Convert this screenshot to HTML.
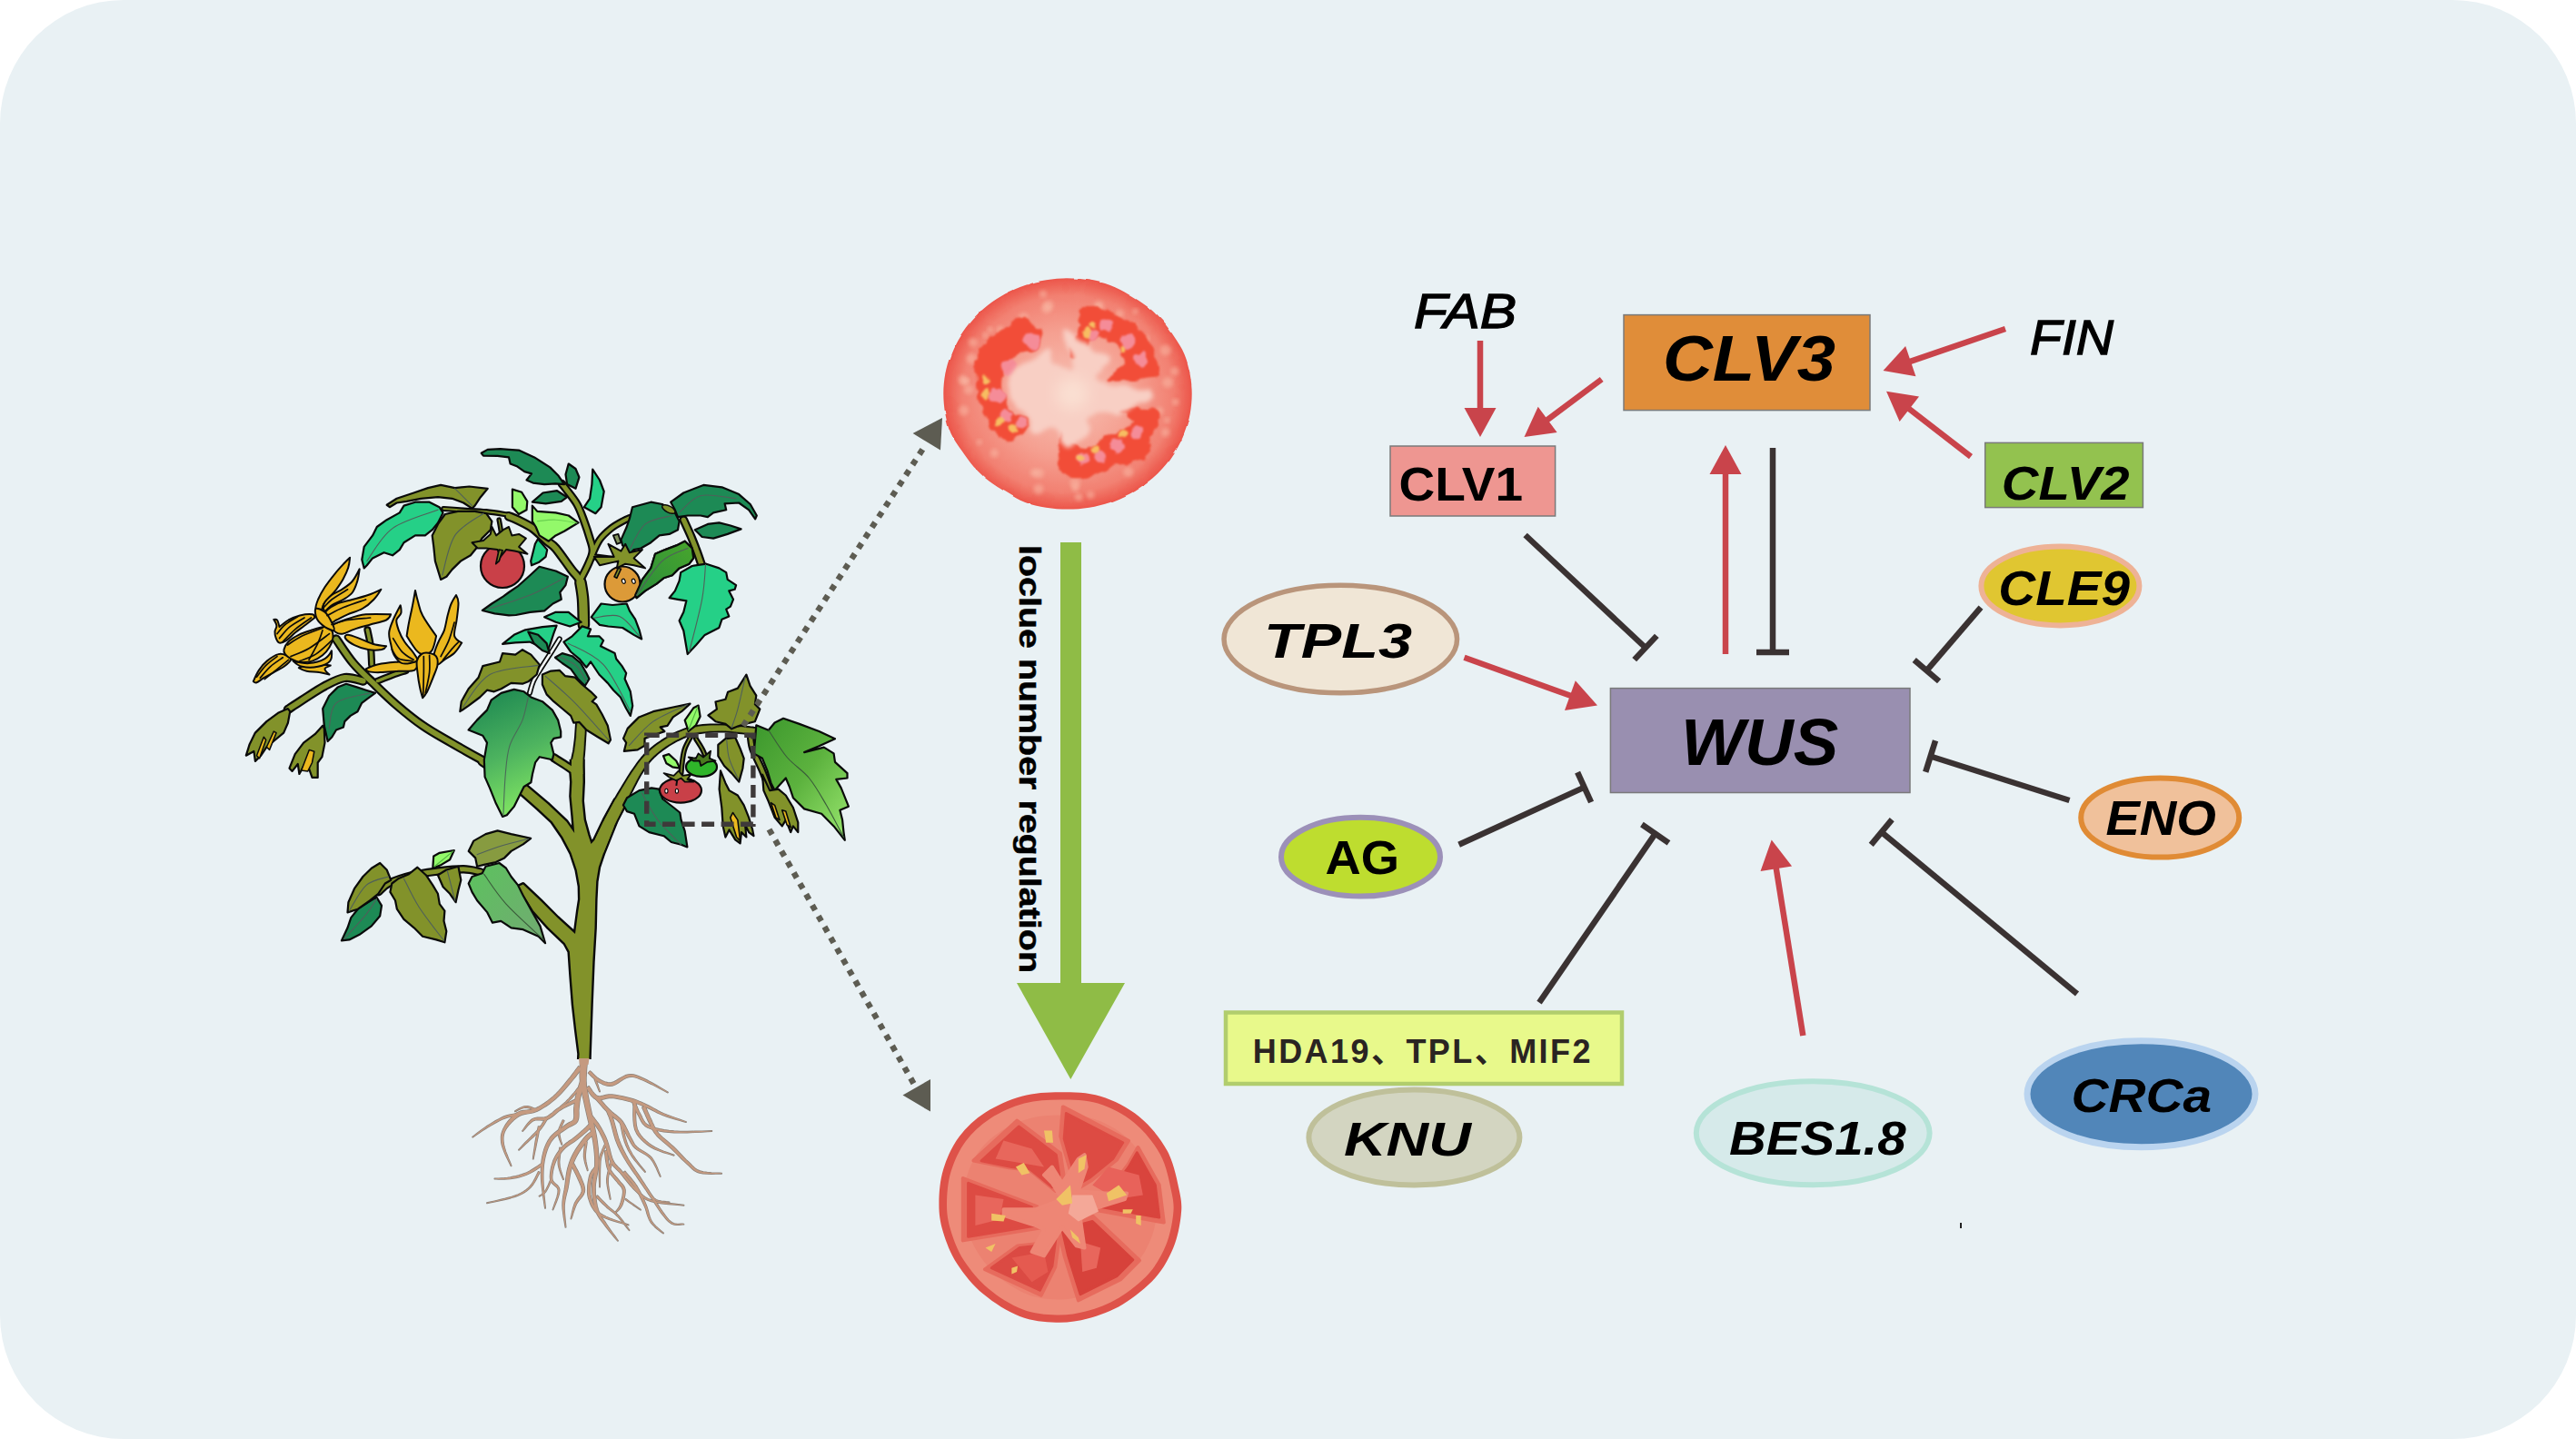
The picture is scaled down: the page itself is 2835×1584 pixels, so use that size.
<!DOCTYPE html>
<html><head><meta charset="utf-8"><title>locule number regulation</title>
<style>
html,body{margin:0;padding:0;background:#fff;}
body{width:2835px;height:1584px;overflow:hidden;}
svg{display:block;font-family:"Liberation Sans","Noto Sans CJK SC",sans-serif;}
</style></head><body>
<svg width="2835" height="1584" viewBox="0 0 2835 1584">
<rect x="0" y="0" width="2835" height="1584" rx="136" ry="136" fill="#e9f1f4"/>
<g id="plant">
<defs>
<linearGradient id="gG2" x1="0.3" y1="0" x2="0.6" y2="1"><stop offset="0" stop-color="#1f8a52"/><stop offset="0.5" stop-color="#4db35f"/><stop offset="1" stop-color="#86ea62"/></linearGradient>
<linearGradient id="gG3" x1="0" y1="0" x2="1" y2="1"><stop offset="0" stop-color="#3a962c"/><stop offset="0.5" stop-color="#5cb23e"/><stop offset="1" stop-color="#9be870"/></linearGradient>
<linearGradient id="gG1" x1="0" y1="1" x2="1" y2="0"><stop offset="0" stop-color="#2a8c3c"/><stop offset="1" stop-color="#48a62c"/></linearGradient>
<linearGradient id="gG4" x1="0" y1="0" x2="1" y2="1"><stop offset="0" stop-color="#5cc25e"/><stop offset="1" stop-color="#72aa72"/></linearGradient>
</defs>
<polygon points="638.5,1164.8 638.5,1167.6 638.4,1171.5 638.3,1176.1 638.2,1181.0 638.2,1185.9 638.5,1190.2 638.9,1193.9 639.4,1197.4 640.1,1200.7 640.8,1203.9 641.5,1207.1 642.3,1210.6 643.1,1214.3 643.9,1218.1 644.8,1222.1 645.7,1226.1 646.6,1230.0 647.5,1233.9 648.5,1237.8 649.5,1241.7 650.5,1245.5 651.4,1249.3 652.2,1253.1 652.9,1257.0 653.5,1261.1 654.0,1265.1 654.4,1269.3 654.7,1273.4 654.8,1277.6 654.8,1281.6 654.5,1285.7 653.9,1289.8 653.2,1293.9 652.4,1298.1 651.9,1302.4 651.7,1306.7 651.8,1311.1 652.1,1315.5 652.6,1320.0 653.3,1324.3 654.2,1328.4 655.3,1332.2 656.7,1335.6 658.3,1338.6 660.0,1341.3 661.9,1343.8 663.9,1346.4 665.9,1349.1 668.2,1352.1 670.8,1355.3 673.5,1358.6 676.1,1361.7 678.3,1364.3 679.9,1366.1 680.3,1365.8 678.9,1363.8 676.9,1361.0 674.6,1357.8 672.1,1354.4 669.7,1351.0 667.6,1347.8 665.8,1345.0 663.9,1342.4 662.2,1339.9 660.7,1337.2 659.3,1334.4 658.2,1331.3 657.2,1327.7 656.5,1323.8 655.9,1319.6 655.4,1315.3 655.2,1310.9 655.1,1306.8 655.4,1302.8 656.0,1298.7 656.8,1294.6 657.6,1290.4 658.3,1286.1 658.7,1281.8 658.8,1277.5 658.7,1273.3 658.5,1269.0 658.2,1264.7 657.7,1260.5 657.2,1256.4 656.6,1252.3 655.9,1248.3 655.1,1244.4 654.3,1240.5 653.4,1236.7 652.6,1232.8 651.8,1228.9 651.0,1224.9 650.1,1220.9 649.3,1217.0 648.5,1213.2 647.8,1209.5 647.2,1206.0 646.6,1202.7 646.0,1199.6 645.5,1196.5 645.2,1193.3 645.0,1189.9 645.0,1185.9 645.3,1181.2 645.6,1176.4 646.0,1171.9 646.4,1168.0 646.7,1165.2" fill="#c59a80" stroke="#8a8078" stroke-width="1.4" stroke-linejoin="round"/>
<polygon points="636.7,1173.7 635.5,1175.3 633.9,1177.5 632.0,1180.1 629.8,1183.0 627.6,1185.9 625.2,1188.8 622.8,1191.7 620.2,1194.9 617.5,1198.1 614.7,1201.3 611.8,1204.3 608.9,1207.1 605.8,1209.6 602.6,1212.1 599.3,1214.4 595.9,1216.6 592.6,1218.5 589.4,1220.1 586.2,1221.1 582.9,1221.7 579.5,1222.1 575.9,1222.5 572.4,1223.3 568.9,1224.8 565.8,1227.2 562.9,1230.1 560.1,1233.2 557.6,1236.4 555.5,1239.7 553.9,1242.8 552.7,1245.7 551.9,1248.4 551.5,1251.2 551.5,1254.0 551.7,1257.0 552.3,1260.3 553.5,1264.1 555.2,1268.5 557.2,1273.0 559.3,1277.3 561.1,1280.9 562.3,1283.5 562.8,1283.3 561.8,1280.6 560.2,1276.9 558.5,1272.5 556.7,1267.9 555.3,1263.5 554.4,1259.8 554.0,1256.8 553.8,1254.0 553.9,1251.4 554.3,1249.0 555.0,1246.5 556.2,1244.0 557.9,1241.2 560.1,1238.4 562.7,1235.5 565.5,1232.8 568.4,1230.4 571.1,1228.6 573.8,1227.3 576.7,1226.5 580.0,1225.9 583.5,1225.4 587.1,1224.6 590.7,1223.3 594.2,1221.6 597.7,1219.5 601.2,1217.3 604.7,1214.9 608.0,1212.3 611.2,1209.7 614.3,1206.8 617.4,1203.7 620.3,1200.5 623.1,1197.3 625.7,1194.2 628.2,1191.3 630.6,1188.4 633.0,1185.5 635.2,1182.6 637.2,1180.0 638.9,1177.9 640.1,1176.3" fill="#c59a80" stroke="#8a8078" stroke-width="1.4" stroke-linejoin="round"/>
<polygon points="569.8,1225.4 568.2,1225.7 566.1,1226.1 563.5,1226.6 560.6,1227.2 557.6,1228.0 554.6,1229.0 551.7,1230.4 548.6,1232.0 545.5,1233.7 542.4,1235.6 539.3,1237.5 536.3,1239.4 533.2,1241.5 530.0,1243.8 526.9,1246.1 524.0,1248.3 521.6,1250.2 519.9,1251.5 520.2,1251.9 522.0,1250.7 524.5,1249.0 527.5,1246.9 530.7,1244.7 534.0,1242.6 537.1,1240.7 540.1,1238.9 543.2,1237.1 546.4,1235.3 549.5,1233.7 552.6,1232.2 555.4,1231.1 558.2,1230.1 561.1,1229.4 563.9,1228.9 566.5,1228.5 568.6,1228.2 570.3,1228.0" fill="#c59a80" stroke="#8a8078" stroke-width="1.4" stroke-linejoin="round"/>
<polygon points="635.9,1197.7 634.8,1199.0 633.4,1200.9 631.6,1203.1 629.7,1205.3 627.8,1207.5 626.1,1209.4 624.4,1211.1 622.6,1212.9 620.8,1214.5 619.0,1216.0 617.6,1217.2 616.6,1218.2 616.9,1218.6 618.0,1217.8 619.6,1216.7 621.5,1215.4 623.4,1213.9 625.5,1212.3 627.3,1210.6 629.2,1208.8 631.1,1206.6 633.1,1204.3 634.9,1202.2 636.5,1200.3 637.6,1199.1" fill="#c59a80" stroke="#8a8078" stroke-width="1.4" stroke-linejoin="round"/>
<polygon points="632.7,1210.3 630.9,1211.2 628.4,1212.4 625.3,1213.8 622.1,1215.4 618.9,1217.1 615.9,1218.8 613.2,1220.6 610.6,1222.6 608.2,1224.7 605.7,1226.6 603.4,1228.3 601.2,1229.5 598.9,1230.1 596.6,1230.3 594.1,1230.3 591.4,1230.3 588.8,1230.6 586.2,1231.6 583.8,1233.4 581.6,1235.8 579.4,1238.5 577.5,1241.1 576.0,1243.3 574.8,1244.9 575.2,1245.2 576.6,1243.8 578.4,1241.7 580.4,1239.3 582.7,1236.9 585.0,1234.9 587.2,1233.5 589.3,1232.9 591.5,1232.8 594.0,1232.9 596.6,1233.1 599.4,1233.0 602.3,1232.3 605.0,1230.9 607.6,1229.1 610.1,1227.1 612.6,1225.0 615.0,1223.0 617.5,1221.3 620.3,1219.7 623.5,1218.1 626.7,1216.6 629.7,1215.1 632.2,1214.0 634.1,1213.1" fill="#c59a80" stroke="#8a8078" stroke-width="1.4" stroke-linejoin="round"/>
<polygon points="600.8,1230.3 600.0,1231.7 598.8,1233.5 597.5,1235.7 596.0,1238.1 594.4,1240.5 592.6,1242.8 590.7,1245.0 588.5,1247.3 586.2,1249.6 583.8,1252.0 581.5,1254.2 579.5,1256.2 577.7,1258.1 575.9,1260.0 574.3,1261.8 572.8,1263.4 571.6,1264.7 570.7,1265.7 571.0,1266.1 572.1,1265.2 573.4,1264.0 575.0,1262.5 576.8,1260.8 578.6,1259.1 580.6,1257.3 582.6,1255.3 584.9,1253.2 587.4,1250.9 589.8,1248.6 592.1,1246.2 594.1,1244.0 596.0,1241.7 597.7,1239.3 599.3,1236.8 600.6,1234.6 601.8,1232.8 602.6,1231.5" fill="#c59a80" stroke="#8a8078" stroke-width="1.4" stroke-linejoin="round"/>
<polygon points="592.4,1239.9 592.1,1241.6 591.6,1244.1 591.0,1247.0 590.4,1250.2 589.8,1253.4 589.2,1256.6 588.7,1259.9 588.2,1263.5 587.6,1267.3 587.1,1270.8 586.7,1273.7 586.5,1275.9 587.0,1275.9 587.4,1273.8 588.0,1270.9 588.7,1267.4 589.5,1263.8 590.2,1260.1 590.9,1256.9 591.5,1253.8 592.2,1250.5 592.8,1247.4 593.4,1244.5 594.0,1242.0 594.3,1240.2" fill="#c59a80" stroke="#8a8078" stroke-width="1.4" stroke-linejoin="round"/>
<polygon points="638.9,1189.2 638.3,1191.1 637.5,1193.7 636.5,1196.8 635.5,1200.0 634.6,1203.2 633.9,1206.1 633.3,1208.6 632.9,1211.0 632.6,1213.2 632.3,1215.4 632.1,1217.6 631.8,1219.8 631.7,1222.3 631.8,1224.8 631.9,1227.1 631.9,1229.2 631.7,1231.0 631.3,1232.3 630.7,1233.2 629.8,1234.0 628.4,1234.8 626.6,1235.7 624.5,1236.9 622.3,1238.4 619.8,1240.2 617.0,1242.2 613.9,1244.4 610.8,1246.8 607.8,1249.5 605.3,1252.3 603.3,1255.4 601.6,1258.6 600.1,1262.1 598.8,1265.6 597.8,1269.3 596.9,1273.1 596.2,1277.0 595.8,1281.0 595.5,1285.1 595.4,1289.4 595.5,1293.8 595.6,1298.5 596.1,1303.7 596.8,1309.7 597.6,1315.9 598.5,1321.7 599.2,1326.6 599.8,1330.1 600.3,1330.1 600.0,1326.5 599.5,1321.6 598.9,1315.7 598.4,1309.6 598.0,1303.6 597.8,1298.4 597.8,1293.8 597.9,1289.4 598.1,1285.3 598.5,1281.3 599.1,1277.4 599.9,1273.7 600.8,1270.1 601.9,1266.6 603.1,1263.3 604.6,1260.1 606.2,1257.2 608.1,1254.5 610.3,1252.0 613.1,1249.6 616.0,1247.4 619.1,1245.3 622.0,1243.4 624.5,1241.7 626.6,1240.4 628.5,1239.5 630.4,1238.6 632.2,1237.7 634.0,1236.4 635.5,1234.5 636.4,1232.1 636.8,1229.6 636.9,1227.1 636.9,1224.7 636.8,1222.4 637.0,1220.2 637.2,1218.1 637.5,1216.0 637.7,1213.9 638.0,1211.8 638.4,1209.6 638.9,1207.3 639.6,1204.6 640.5,1201.5 641.5,1198.3 642.5,1195.3 643.3,1192.7 643.9,1190.8" fill="#c59a80" stroke="#8a8078" stroke-width="1.4" stroke-linejoin="round"/>
<polygon points="596.0,1280.6 594.2,1281.8 591.8,1283.5 588.9,1285.4 585.7,1287.4 582.6,1289.3 579.6,1290.8 576.7,1291.9 573.7,1293.0 570.7,1293.9 567.6,1294.7 564.6,1295.3 561.6,1295.9 558.5,1296.4 555.1,1296.7 551.8,1296.9 548.7,1297.1 546.1,1297.2 544.2,1297.3 544.2,1297.8 546.1,1297.9 548.7,1298.0 551.8,1298.0 555.2,1298.0 558.6,1297.9 561.8,1297.6 564.9,1297.1 568.0,1296.5 571.2,1295.8 574.3,1294.9 577.4,1293.9 580.5,1292.7 583.6,1291.2 586.9,1289.4 590.2,1287.4 593.1,1285.5 595.6,1283.9 597.4,1282.8" fill="#c59a80" stroke="#8a8078" stroke-width="1.4" stroke-linejoin="round"/>
<polygon points="592.6,1289.7 591.6,1291.6 590.3,1294.3 588.8,1297.4 587.0,1300.7 585.0,1303.8 582.9,1306.3 580.7,1308.4 578.5,1310.2 576.0,1311.8 573.3,1313.3 570.2,1314.8 566.5,1316.2 561.9,1317.8 556.2,1319.3 550.1,1320.7 544.3,1322.1 539.3,1323.2 535.8,1324.0 535.9,1324.5 539.4,1323.8 544.4,1322.7 550.3,1321.5 556.4,1320.2 562.2,1318.7 566.9,1317.3 570.6,1315.8 573.8,1314.4 576.6,1312.8 579.2,1311.2 581.6,1309.3 583.8,1307.2 586.1,1304.6 588.2,1301.4 590.1,1298.1 591.7,1295.0 593.1,1292.3 594.1,1290.5" fill="#c59a80" stroke="#8a8078" stroke-width="1.4" stroke-linejoin="round"/>
<polygon points="649.5,1236.2 648.9,1236.8 648.2,1237.6 647.3,1238.5 646.3,1239.5 645.1,1240.7 643.8,1241.9 642.2,1243.4 640.4,1245.0 638.5,1246.7 636.5,1248.5 634.4,1250.3 632.3,1252.0 630.3,1253.6 628.0,1255.2 625.7,1256.7 623.4,1258.4 621.1,1260.3 619.0,1262.3 617.0,1264.6 615.1,1267.0 613.3,1269.5 611.6,1272.1 610.1,1275.0 608.8,1277.9 607.8,1281.2 606.8,1284.7 606.1,1288.4 605.6,1292.1 605.4,1295.5 605.7,1298.6 606.7,1301.3 608.5,1303.3 610.5,1304.9 612.3,1306.4 613.6,1308.1 614.2,1310.1 614.0,1313.2 613.1,1317.2 611.7,1321.5 610.2,1325.6 609.0,1329.2 608.2,1331.7 608.6,1331.8 609.6,1329.4 611.1,1325.9 612.8,1321.8 614.3,1317.6 615.5,1313.5 615.9,1310.0 615.2,1307.3 613.6,1305.1 611.7,1303.4 609.9,1301.8 608.5,1300.2 607.8,1298.2 607.6,1295.5 607.9,1292.3 608.4,1288.8 609.2,1285.3 610.2,1281.9 611.3,1278.9 612.5,1276.1 614.0,1273.5 615.6,1271.1 617.4,1268.7 619.2,1266.5 621.1,1264.5 623.1,1262.6 625.3,1261.0 627.5,1259.4 629.9,1257.9 632.2,1256.4 634.5,1254.8 636.6,1253.0 638.8,1251.3 640.9,1249.5 642.9,1247.8 644.8,1246.2 646.4,1244.8 647.8,1243.5 649.0,1242.3 650.1,1241.2 651.0,1240.3 651.8,1239.5 652.3,1238.9" fill="#c59a80" stroke="#8a8078" stroke-width="1.4" stroke-linejoin="round"/>
<polygon points="619.3,1233.0 618.6,1234.5 617.7,1236.5 616.6,1238.9 615.5,1241.5 614.6,1244.1 614.2,1246.7 614.4,1249.2 615.0,1251.8 615.9,1254.4 616.8,1256.8 617.6,1258.7 618.2,1260.1 618.6,1260.0 618.3,1258.5 617.6,1256.5 616.9,1254.1 616.3,1251.5 615.9,1249.0 615.9,1246.8 616.3,1244.6 617.1,1242.1 618.1,1239.6 619.2,1237.2 620.2,1235.2 620.9,1233.7" fill="#c59a80" stroke="#8a8078" stroke-width="1.4" stroke-linejoin="round"/>
<polygon points="651.8,1245.0 651.0,1245.6 649.9,1246.3 648.5,1247.3 646.9,1248.5 645.2,1250.1 643.4,1252.0 641.6,1254.2 639.5,1256.9 637.4,1259.8 635.3,1262.9 633.3,1266.0 631.5,1269.0 630.1,1271.9 628.8,1274.6 627.6,1277.4 626.6,1280.3 625.7,1283.2 624.8,1286.2 624.1,1289.5 623.5,1292.8 623.0,1296.3 622.6,1299.7 622.2,1303.1 621.7,1306.5 621.2,1309.7 620.6,1312.9 620.0,1316.2 619.5,1319.6 619.1,1323.1 619.0,1326.7 619.2,1330.9 619.8,1335.5 620.4,1340.2 621.2,1344.6 621.8,1348.3 622.3,1351.0 622.8,1350.9 622.6,1348.2 622.2,1344.4 621.8,1340.0 621.4,1335.3 621.1,1330.8 621.1,1326.8 621.5,1323.3 622.0,1320.0 622.7,1316.8 623.5,1313.6 624.4,1310.4 625.1,1307.0 625.7,1303.6 626.2,1300.2 626.7,1296.8 627.2,1293.5 627.9,1290.3 628.6,1287.2 629.5,1284.4 630.4,1281.6 631.5,1279.0 632.6,1276.4 633.9,1273.8 635.3,1271.1 636.9,1268.3 638.9,1265.3 640.9,1262.4 643.0,1259.5 645.0,1256.9 646.7,1254.8 648.2,1253.2 649.7,1251.8 651.1,1250.8 652.4,1249.9 653.5,1249.1 654.4,1248.5" fill="#c59a80" stroke="#8a8078" stroke-width="1.4" stroke-linejoin="round"/>
<polygon points="628.5,1282.5 629.5,1284.4 630.9,1287.0 632.5,1290.0 634.1,1293.3 635.6,1296.4 636.8,1299.1 637.8,1301.5 638.8,1303.7 639.6,1305.8 640.1,1307.7 640.4,1309.6 640.3,1311.4 639.7,1313.3 638.6,1315.3 637.1,1317.4 635.4,1319.7 633.8,1322.1 632.4,1324.6 631.4,1327.6 630.5,1330.8 629.7,1334.1 629.1,1337.2 628.5,1339.8 628.2,1341.7 628.6,1341.8 629.3,1340.0 630.1,1337.5 631.0,1334.4 632.1,1331.3 633.2,1328.2 634.4,1325.5 635.7,1323.3 637.3,1321.1 639.1,1319.0 640.8,1316.8 642.3,1314.6 643.2,1312.1 643.5,1309.5 643.2,1307.1 642.7,1304.8 641.9,1302.5 641.0,1300.2 640.0,1297.7 638.8,1294.9 637.2,1291.7 635.6,1288.4 633.9,1285.4 632.6,1282.8 631.6,1280.9" fill="#c59a80" stroke="#8a8078" stroke-width="1.4" stroke-linejoin="round"/>
<polygon points="644.0,1256.6 643.8,1258.4 643.5,1261.0 643.1,1264.0 642.7,1267.3 642.5,1270.5 642.5,1273.4 643.0,1276.3 643.6,1279.2 644.4,1282.1 645.3,1284.7 646.0,1286.9 646.5,1288.5 647.0,1288.3 646.7,1286.7 646.1,1284.5 645.5,1281.8 644.9,1278.9 644.5,1276.1 644.3,1273.4 644.3,1270.6 644.6,1267.4 645.0,1264.2 645.5,1261.3 645.9,1258.7 646.1,1256.9" fill="#c59a80" stroke="#8a8078" stroke-width="1.4" stroke-linejoin="round"/>
<polygon points="647.4,1181.1 648.6,1182.3 650.3,1184.0 652.4,1185.9 654.7,1188.0 657.0,1189.9 659.3,1191.3 661.5,1192.5 663.6,1193.6 665.9,1194.4 668.3,1195.1 670.9,1195.3 673.8,1195.1 676.9,1193.9 680.0,1192.1 683.2,1190.0 686.3,1188.0 689.3,1186.4 692.0,1185.5 694.5,1185.2 696.9,1185.4 699.3,1185.9 701.8,1186.7 704.7,1187.9 708.0,1189.2 712.2,1191.1 717.2,1193.5 722.5,1196.2 727.6,1198.9 731.9,1201.2 735.0,1202.8 735.2,1202.3 732.3,1200.5 728.1,1198.1 723.1,1195.2 717.9,1192.2 713.0,1189.5 708.8,1187.5 705.5,1186.0 702.6,1184.7 699.9,1183.7 697.3,1183.0 694.5,1182.7 691.5,1182.9 688.2,1183.8 684.9,1185.5 681.6,1187.4 678.4,1189.4 675.5,1190.9 673.0,1191.7 670.9,1191.9 668.8,1191.8 666.8,1191.3 664.8,1190.6 662.8,1189.7 660.8,1188.7 658.8,1187.4 656.6,1185.7 654.4,1183.7 652.4,1181.8 650.7,1180.1 649.4,1178.9" fill="#c59a80" stroke="#8a8078" stroke-width="1.4" stroke-linejoin="round"/>
<polygon points="654.3,1188.7 655.0,1190.2 655.9,1192.5 657.1,1195.2 658.2,1197.9 659.1,1200.2 659.8,1201.8 660.3,1201.6 659.8,1200.0 659.0,1197.6 658.1,1194.8 657.2,1192.1 656.4,1189.7 655.9,1188.1" fill="#c59a80" stroke="#8a8078" stroke-width="1.4" stroke-linejoin="round"/>
<polygon points="645.3,1197.7 646.3,1199.1 647.6,1201.2 649.2,1203.7 651.1,1206.3 653.4,1208.6 656.0,1210.2 659.0,1210.7 661.9,1210.4 664.7,1209.7 667.5,1209.0 670.3,1208.5 673.3,1208.4 676.7,1208.8 680.6,1209.5 684.7,1210.4 688.8,1211.3 692.7,1212.4 696.3,1213.4 699.4,1214.3 702.3,1215.2 704.9,1216.2 707.5,1217.3 710.2,1218.4 712.9,1219.6 715.6,1220.8 718.1,1222.1 720.7,1223.4 723.4,1224.8 726.4,1226.2 729.8,1227.6 733.8,1229.0 738.5,1230.5 743.5,1232.0 748.2,1233.4 752.2,1234.5 755.1,1235.3 755.2,1234.8 752.4,1233.8 748.5,1232.4 743.9,1230.8 739.0,1229.1 734.4,1227.4 730.5,1225.8 727.3,1224.4 724.4,1222.9 721.8,1221.4 719.3,1220.0 716.7,1218.6 714.0,1217.2 711.3,1215.9 708.7,1214.6 706.1,1213.4 703.4,1212.3 700.5,1211.1 697.3,1210.0 693.6,1209.0 689.6,1208.0 685.5,1207.0 681.3,1206.1 677.3,1205.4 673.5,1205.0 670.0,1205.0 666.8,1205.5 663.8,1206.2 661.3,1206.7 659.1,1206.9 657.4,1206.5 655.8,1205.6 654.0,1203.8 652.2,1201.6 650.6,1199.2 649.2,1197.1 648.2,1195.7" fill="#c59a80" stroke="#8a8078" stroke-width="1.4" stroke-linejoin="round"/>
<polygon points="695.4,1212.3 696.1,1213.9 697.0,1216.2 698.2,1218.9 699.5,1221.8 700.9,1224.7 702.3,1227.3 703.5,1229.7 704.7,1232.1 706.0,1234.6 707.6,1237.1 709.9,1239.3 712.8,1241.2 716.5,1242.7 720.7,1243.9 725.4,1244.9 730.5,1245.7 736.0,1246.3 741.7,1246.8 748.4,1246.9 756.3,1246.7 764.4,1246.4 772.2,1246.0 778.8,1245.6 783.5,1245.3 783.5,1244.8 778.8,1244.9 772.2,1245.1 764.4,1245.3 756.2,1245.4 748.5,1245.4 741.8,1245.0 736.2,1244.5 730.8,1243.7 725.8,1242.8 721.3,1241.7 717.4,1240.4 714.0,1238.9 711.5,1237.3 709.6,1235.4 708.2,1233.3 707.0,1231.0 705.9,1228.5 704.6,1226.1 703.2,1223.5 702.0,1220.7 700.8,1217.8 699.7,1215.1 698.8,1212.8 698.2,1211.1" fill="#c59a80" stroke="#8a8078" stroke-width="1.4" stroke-linejoin="round"/>
<polygon points="697.1,1213.4 697.1,1216.8 697.0,1221.6 696.9,1227.2 697.1,1233.2 697.7,1238.9 698.9,1243.8 700.8,1247.8 703.3,1251.4 706.2,1254.6 709.3,1257.5 712.7,1260.1 716.3,1262.6 720.4,1264.8 725.1,1266.7 730.1,1268.5 734.8,1269.9 738.9,1271.1 741.7,1272.0 741.9,1271.5 739.1,1270.4 735.1,1269.0 730.5,1267.3 725.7,1265.4 721.1,1263.2 717.3,1260.9 714.0,1258.5 710.8,1255.8 707.8,1253.0 705.2,1249.9 703.0,1246.6 701.3,1243.0 700.2,1238.5 699.7,1233.1 699.5,1227.2 699.6,1221.6 699.7,1216.8 699.7,1213.4" fill="#c59a80" stroke="#8a8078" stroke-width="1.4" stroke-linejoin="round"/>
<polygon points="655.4,1209.5 656.9,1211.2 658.9,1213.5 661.3,1216.3 663.8,1219.2 666.4,1222.1 668.9,1224.6 671.2,1226.8 673.6,1228.6 675.9,1230.4 678.1,1232.1 680.2,1234.0 682.1,1236.1 683.9,1238.7 685.7,1241.7 687.5,1245.0 689.2,1248.3 690.8,1251.4 692.3,1254.0 693.5,1256.1 694.4,1257.9 695.3,1259.4 696.3,1260.9 697.6,1262.5 699.4,1264.2 701.8,1266.0 704.7,1267.7 707.8,1269.4 710.9,1271.2 713.7,1273.2 716.2,1275.6 718.4,1278.5 720.4,1282.1 722.4,1286.0 724.0,1289.7 725.5,1292.9 726.6,1295.2 727.0,1295.0 726.1,1292.7 724.8,1289.4 723.3,1285.6 721.5,1281.6 719.5,1277.8 717.4,1274.6 714.8,1272.0 711.8,1269.8 708.7,1267.8 705.7,1266.0 703.0,1264.3 700.8,1262.6 699.3,1261.0 698.2,1259.6 697.4,1258.2 696.6,1256.7 695.7,1254.9 694.6,1252.8 693.2,1250.1 691.8,1247.0 690.2,1243.6 688.5,1240.2 686.7,1236.9 684.8,1234.0 682.6,1231.5 680.3,1229.5 678.0,1227.6 675.7,1225.9 673.5,1224.1 671.3,1222.1 669.0,1219.7 666.4,1216.9 663.9,1214.0 661.5,1211.3 659.5,1208.9 658.1,1207.2" fill="#c59a80" stroke="#8a8078" stroke-width="1.4" stroke-linejoin="round"/>
<polygon points="706.8,1219.1 707.5,1220.7 708.5,1222.9 709.7,1225.6 710.9,1228.5 712.3,1231.4 713.5,1234.1 714.8,1236.6 715.9,1239.1 717.2,1241.6 718.6,1244.2 720.3,1246.8 722.3,1249.4 724.7,1251.9 727.4,1254.5 730.3,1256.9 733.3,1259.4 736.2,1261.9 739.1,1264.5 741.9,1267.2 744.8,1270.1 747.7,1273.0 750.5,1275.9 753.3,1278.6 755.9,1281.0 758.2,1283.1 760.2,1285.1 762.2,1286.9 764.4,1288.6 766.8,1290.0 769.8,1291.1 773.7,1291.8 778.2,1292.1 783.0,1292.2 787.6,1292.1 791.6,1292.0 794.3,1292.0 794.3,1291.5 791.6,1291.3 787.7,1291.1 783.1,1290.9 778.3,1290.5 774.0,1289.9 770.4,1289.0 767.8,1288.0 765.7,1286.7 763.8,1285.1 761.9,1283.3 760.0,1281.3 757.7,1279.1 755.1,1276.7 752.5,1274.0 749.7,1271.1 746.8,1268.1 744.0,1265.1 741.2,1262.3 738.2,1259.7 735.2,1257.1 732.2,1254.6 729.4,1252.2 726.8,1249.8 724.6,1247.4 722.8,1245.0 721.4,1242.6 720.1,1240.1 719.0,1237.7 717.8,1235.2 716.7,1232.6 715.4,1230.0 714.1,1227.1 712.8,1224.2 711.7,1221.6 710.7,1219.3 710.0,1217.7" fill="#c59a80" stroke="#8a8078" stroke-width="1.4" stroke-linejoin="round"/>
<polygon points="647.0,1227.8 648.2,1229.2 649.7,1231.1 651.5,1233.4 653.4,1235.9 655.3,1238.5 656.9,1241.0 658.4,1243.4 659.9,1246.0 661.2,1248.6 662.6,1251.4 663.9,1254.3 665.1,1257.3 666.3,1260.7 667.4,1264.4 668.4,1268.3 669.5,1272.2 670.7,1275.8 672.1,1279.1 673.6,1281.6 675.2,1283.7 676.8,1285.3 678.5,1286.9 680.4,1288.7 682.4,1290.9 684.8,1293.8 687.5,1297.2 690.4,1300.8 693.4,1304.5 696.4,1307.9 699.3,1310.8 701.9,1313.3 704.3,1315.6 706.7,1317.6 709.3,1319.4 712.6,1321.0 716.6,1322.5 721.9,1323.7 728.5,1324.7 735.7,1325.5 742.6,1326.1 748.5,1326.6 752.6,1327.0 752.7,1326.5 748.5,1326.0 742.7,1325.3 735.8,1324.5 728.7,1323.5 722.2,1322.4 717.0,1321.0 713.2,1319.6 710.2,1317.9 707.8,1316.1 705.6,1314.1 703.4,1311.9 700.9,1309.3 698.1,1306.4 695.2,1303.0 692.3,1299.3 689.5,1295.7 686.8,1292.2 684.4,1289.2 682.3,1286.8 680.4,1285.0 678.8,1283.3 677.4,1281.8 676.1,1280.0 674.8,1277.7 673.6,1274.8 672.5,1271.3 671.6,1267.5 670.6,1263.5 669.5,1259.7 668.4,1256.1 667.1,1252.9 665.7,1249.9 664.3,1247.1 662.9,1244.3 661.4,1241.7 659.9,1239.1 658.2,1236.5 656.2,1233.8 654.3,1231.3 652.4,1229.0 650.9,1227.0 649.8,1225.6" fill="#c59a80" stroke="#8a8078" stroke-width="1.4" stroke-linejoin="round"/>
<polygon points="667.6,1223.2 668.1,1224.2 668.6,1225.6 669.3,1227.2 670.1,1229.1 670.9,1231.3 671.8,1233.9 672.7,1237.0 673.7,1240.8 674.7,1244.9 675.9,1249.2 677.1,1253.4 678.5,1257.3 680.0,1260.9 681.6,1264.4 683.2,1267.7 685.0,1270.9 686.8,1274.2 688.8,1277.5 690.9,1280.9 693.1,1284.2 695.4,1287.5 697.7,1290.9 700.1,1294.2 702.4,1297.5 704.6,1300.8 706.9,1304.1 709.1,1307.4 711.4,1310.7 713.6,1314.0 715.9,1317.4 718.2,1320.8 720.5,1324.3 722.8,1327.9 725.1,1331.4 727.3,1334.5 729.4,1337.3 731.3,1339.6 733.0,1341.7 734.6,1343.5 736.2,1345.0 738.0,1346.3 739.9,1347.4 742.1,1348.0 744.5,1348.3 747.0,1348.3 749.3,1348.1 751.2,1347.9 752.6,1347.9 752.6,1347.4 751.2,1347.3 749.3,1347.3 747.0,1347.4 744.6,1347.2 742.3,1346.9 740.4,1346.2 738.7,1345.2 737.2,1343.9 735.7,1342.4 734.2,1340.7 732.6,1338.6 730.8,1336.2 728.8,1333.5 726.7,1330.3 724.5,1326.9 722.2,1323.2 719.9,1319.6 717.7,1316.2 715.5,1312.8 713.3,1309.4 711.1,1306.1 708.9,1302.7 706.7,1299.4 704.5,1296.0 702.3,1292.7 700.0,1289.3 697.7,1285.9 695.5,1282.6 693.4,1279.3 691.4,1276.0 689.5,1272.7 687.8,1269.4 686.1,1266.2 684.6,1262.9 683.1,1259.6 681.7,1256.1 680.4,1252.4 679.2,1248.3 678.1,1244.0 677.0,1239.9 676.0,1236.1 675.1,1232.9 674.2,1230.2 673.3,1227.8 672.5,1225.8 671.8,1224.2 671.3,1222.9 670.9,1221.9" fill="#c59a80" stroke="#8a8078" stroke-width="1.4" stroke-linejoin="round"/>
<polygon points="665.5,1266.9 665.7,1269.1 666.1,1272.3 666.5,1276.1 667.1,1280.0 667.8,1283.9 668.9,1287.2 670.3,1290.0 672.0,1292.6 673.9,1294.9 675.8,1297.0 677.5,1299.0 679.1,1300.9 680.5,1302.7 682.0,1304.3 683.3,1305.7 684.3,1307.1 685.0,1308.5 685.5,1310.2 685.6,1312.5 685.3,1315.3 684.8,1318.3 684.0,1321.3 683.2,1324.0 682.4,1326.3 681.6,1328.2 680.6,1330.0 679.4,1331.5 678.2,1332.9 677.2,1334.0 676.6,1334.9 676.9,1335.3 677.8,1334.6 679.0,1333.6 680.4,1332.4 681.8,1331.0 683.2,1329.2 684.4,1327.2 685.4,1324.7 686.3,1321.9 687.1,1318.8 687.7,1315.6 688.1,1312.6 688.1,1309.9 687.5,1307.6 686.5,1305.7 685.3,1304.0 683.9,1302.5 682.5,1301.0 681.1,1299.3 679.5,1297.3 677.7,1295.3 675.9,1293.2 674.1,1291.0 672.5,1288.7 671.3,1286.3 670.4,1283.2 669.6,1279.6 669.1,1275.7 668.7,1272.0 668.3,1268.8 668.0,1266.6" fill="#c59a80" stroke="#8a8078" stroke-width="1.4" stroke-linejoin="round"/>
<polygon points="685.8,1290.9 687.3,1292.7 689.4,1295.1 691.8,1298.0 694.4,1301.1 696.9,1304.4 699.0,1307.5 700.9,1310.5 702.7,1313.8 704.4,1317.2 706.1,1320.6 707.6,1323.9 709.1,1327.2 710.4,1330.3 711.4,1333.5 712.3,1336.7 713.4,1339.8 714.6,1342.7 716.1,1345.5 718.3,1348.1 720.8,1350.6 723.5,1352.9 726.1,1354.9 728.4,1356.6 730.0,1357.8 730.3,1357.4 728.8,1356.1 726.7,1354.3 724.2,1352.1 721.6,1349.7 719.3,1347.2 717.4,1344.7 716.1,1342.1 715.0,1339.2 714.1,1336.1 713.3,1332.9 712.3,1329.6 711.1,1326.3 709.7,1323.0 708.2,1319.6 706.6,1316.1 704.9,1312.7 703.1,1309.3 701.2,1306.0 699.0,1302.8 696.4,1299.5 693.8,1296.3 691.3,1293.4 689.2,1291.0 687.8,1289.2" fill="#c59a80" stroke="#8a8078" stroke-width="1.4" stroke-linejoin="round"/>
<polygon points="654.8,1284.2 654.2,1285.1 653.2,1286.4 651.9,1287.9 650.7,1289.9 649.5,1292.1 648.6,1294.7 648.0,1297.6 647.4,1300.9 646.9,1304.5 646.7,1308.2 646.6,1311.9 646.9,1315.3 647.5,1318.5 648.5,1321.6 649.6,1324.7 650.9,1327.6 652.4,1330.2 654.0,1332.5 655.7,1334.5 657.3,1336.0 659.2,1337.3 661.2,1338.5 663.6,1339.7 666.4,1340.9 670.2,1342.3 674.8,1343.8 679.8,1345.3 684.6,1346.7 688.8,1347.9 691.7,1348.7 691.8,1348.2 689.0,1347.2 684.9,1345.8 680.2,1344.3 675.2,1342.6 670.7,1340.9 667.1,1339.3 664.4,1338.0 662.2,1336.7 660.4,1335.6 658.9,1334.3 657.5,1332.8 656.1,1331.0 654.7,1328.8 653.4,1326.3 652.2,1323.6 651.2,1320.8 650.4,1317.8 649.9,1314.9 649.7,1311.8 649.7,1308.4 650.0,1304.8 650.4,1301.4 650.9,1298.2 651.5,1295.5 652.3,1293.3 653.3,1291.4 654.4,1289.7 655.6,1288.2 656.6,1287.0 657.3,1286.0" fill="#c59a80" stroke="#8a8078" stroke-width="1.4" stroke-linejoin="round"/>
<polygon points="656.0,1317.5 657.3,1318.8 659.0,1320.6 661.2,1322.7 663.4,1324.9 665.7,1327.1 667.8,1329.1 669.8,1330.8 671.8,1332.3 673.7,1333.8 675.7,1335.3 677.6,1336.9 679.6,1338.9 681.8,1341.3 684.3,1344.2 686.7,1347.3 689.0,1350.2 691.0,1352.7 692.4,1354.4 692.8,1354.1 691.5,1352.3 689.6,1349.7 687.4,1346.7 685.1,1343.5 682.7,1340.5 680.6,1338.0 678.6,1335.9 676.6,1334.2 674.7,1332.6 672.8,1331.0 670.9,1329.5 669.0,1327.8 667.0,1325.8 664.8,1323.6 662.5,1321.3 660.5,1319.1 658.8,1317.3 657.5,1316.0" fill="#c59a80" stroke="#8a8078" stroke-width="1.4" stroke-linejoin="round"/>
<polygon points="688.1,1320.5 690.2,1321.9 693.1,1323.9 696.5,1326.3 700.0,1328.6 702.9,1330.6 705.0,1332.0 705.2,1331.6 703.3,1330.1 700.4,1328.0 697.0,1325.6 693.6,1323.2 690.7,1321.1 688.7,1319.6" fill="#c59a80" stroke="#8a8078" stroke-width="1.4" stroke-linejoin="round"/>
<polygon points="682.4,1235.3 682.9,1237.7 683.6,1241.1 684.4,1245.1 685.3,1249.3 686.4,1253.4 687.5,1257.0 688.7,1260.1 690.0,1263.0 691.3,1265.8 692.8,1268.4 694.4,1271.1 696.1,1273.8 698.3,1276.8 700.9,1279.9 703.6,1283.1 706.1,1286.0 708.3,1288.5 709.9,1290.2 710.3,1289.9 708.9,1288.0 706.8,1285.5 704.3,1282.5 701.8,1279.2 699.4,1276.0 697.4,1273.0 695.7,1270.3 694.2,1267.6 692.8,1265.0 691.6,1262.3 690.4,1259.4 689.4,1256.4 688.3,1252.9 687.3,1248.8 686.4,1244.6 685.6,1240.6 685.0,1237.3 684.5,1234.8" fill="#c59a80" stroke="#8a8078" stroke-width="1.4" stroke-linejoin="round"/>
<polygon points="615.9,1263.3 615.6,1265.3 615.2,1268.1 614.8,1271.4 614.4,1275.0 614.2,1278.6 614.3,1281.8 614.9,1284.9 615.9,1288.2 617.0,1291.4 618.1,1294.3 619.1,1296.7 619.8,1298.5 620.3,1298.3 619.8,1296.5 618.9,1294.0 617.9,1291.1 617.0,1287.9 616.2,1284.7 615.8,1281.7 615.7,1278.6 616.0,1275.1 616.4,1271.6 616.9,1268.3 617.3,1265.5 617.6,1263.5" fill="#c59a80" stroke="#8a8078" stroke-width="1.4" stroke-linejoin="round"/>
<polygon points="672.6,1278.2 672.0,1280.3 671.0,1283.3 669.9,1286.8 668.9,1290.7 668.1,1294.6 667.7,1298.4 667.9,1302.2 668.5,1306.4 669.3,1310.6 670.2,1314.5 671.0,1317.8 671.5,1320.1 672.0,1320.0 671.6,1317.6 671.0,1314.3 670.3,1310.4 669.6,1306.2 669.2,1302.1 669.2,1298.4 669.6,1294.9 670.4,1291.1 671.5,1287.3 672.6,1283.8 673.6,1280.8 674.3,1278.6" fill="#c59a80" stroke="#8a8078" stroke-width="1.4" stroke-linejoin="round"/>
<polygon points="606.1,1298.1 605.4,1299.7 604.4,1301.9 603.3,1304.5 602.0,1307.2 600.8,1309.6 599.6,1311.4 598.5,1312.8 597.3,1313.9 596.1,1314.8 594.9,1315.5 594.0,1316.0 593.2,1316.5 593.5,1317.0 594.3,1316.6 595.3,1316.1 596.5,1315.4 597.8,1314.6 599.2,1313.5 600.5,1312.1 601.7,1310.1 603.0,1307.7 604.3,1305.0 605.5,1302.4 606.6,1300.2 607.3,1298.7" fill="#c59a80" stroke="#8a8078" stroke-width="1.4" stroke-linejoin="round"/>
<polygon points="716.3,1317.2 717.0,1317.8 717.8,1318.6 718.9,1319.6 720.1,1320.6 721.6,1321.6 723.3,1322.3 725.3,1322.7 727.8,1323.1 730.5,1323.3 733.1,1323.5 735.2,1323.6 736.8,1323.7 736.8,1323.2 735.3,1323.0 733.1,1322.8 730.6,1322.5 727.9,1322.2 725.5,1321.8 723.6,1321.2 722.1,1320.6 720.8,1319.7 719.7,1318.7 718.7,1317.7 717.9,1316.9 717.2,1316.3" fill="#c59a80" stroke="#8a8078" stroke-width="1.4" stroke-linejoin="round"/>
<polygon points="590.3,1220.9 589.1,1220.5 587.3,1219.8 585.2,1219.0 582.9,1218.2 580.6,1217.7 578.3,1217.6 576.1,1218.1 573.8,1219.1 571.6,1220.2 569.5,1221.4 567.8,1222.4 566.6,1223.2 566.8,1223.6 568.1,1223.0 569.9,1222.1 572.0,1221.1 574.3,1220.2 576.5,1219.4 578.4,1219.1 580.3,1219.3 582.5,1219.8 584.7,1220.5 586.7,1221.3 588.5,1222.0 589.8,1222.5" fill="#c59a80" stroke="#8a8078" stroke-width="1.4" stroke-linejoin="round"/>
<polygon points="666.0,1258.9 665.6,1259.6 665.1,1260.6 664.5,1261.9 663.9,1263.3 663.2,1264.8 662.6,1266.4 662.0,1267.9 661.4,1269.4 660.7,1271.0 660.1,1272.9 659.6,1275.3 659.2,1278.3 659.1,1282.5 659.2,1287.7 659.3,1293.3 659.5,1298.8 659.7,1303.5 659.8,1306.8 660.3,1306.7 660.4,1303.5 660.4,1298.8 660.4,1293.3 660.5,1287.7 660.7,1282.5 660.9,1278.5 661.3,1275.6 661.8,1273.3 662.4,1271.6 663.0,1270.0 663.6,1268.6 664.2,1267.0 664.8,1265.5 665.4,1264.0 666.1,1262.6 666.7,1261.4 667.2,1260.4 667.5,1259.6" fill="#c59a80" stroke="#8a8078" stroke-width="1.4" stroke-linejoin="round"/>
<polygon points="638.5,1164.8 638.5,1167.6 638.4,1171.5 638.3,1176.1 638.2,1181.0 638.2,1185.9 638.5,1190.2 638.9,1193.9 639.4,1197.4 640.1,1200.7 640.8,1203.9 641.5,1207.1 642.3,1210.6 643.1,1214.3 643.9,1218.1 644.8,1222.1 645.7,1226.1 646.6,1230.0 647.5,1233.9 648.5,1237.8 649.5,1241.7 650.5,1245.5 651.4,1249.3 652.2,1253.1 652.9,1257.0 653.5,1261.1 654.0,1265.1 654.4,1269.3 654.7,1273.4 654.8,1277.6 654.8,1281.6 654.5,1285.7 653.9,1289.8 653.2,1293.9 652.4,1298.1 651.9,1302.4 651.7,1306.7 651.8,1311.1 652.1,1315.5 652.6,1320.0 653.3,1324.3 654.2,1328.4 655.3,1332.2 656.7,1335.6 658.3,1338.6 660.0,1341.3 661.9,1343.8 663.9,1346.4 665.9,1349.1 668.2,1352.1 670.8,1355.3 673.5,1358.6 676.1,1361.7 678.3,1364.3 679.9,1366.1 680.3,1365.8 678.9,1363.8 676.9,1361.0 674.6,1357.8 672.1,1354.4 669.7,1351.0 667.6,1347.8 665.8,1345.0 663.9,1342.4 662.2,1339.9 660.7,1337.2 659.3,1334.4 658.2,1331.3 657.2,1327.7 656.5,1323.8 655.9,1319.6 655.4,1315.3 655.2,1310.9 655.1,1306.8 655.4,1302.8 656.0,1298.7 656.8,1294.6 657.6,1290.4 658.3,1286.1 658.7,1281.8 658.8,1277.5 658.7,1273.3 658.5,1269.0 658.2,1264.7 657.7,1260.5 657.2,1256.4 656.6,1252.3 655.9,1248.3 655.1,1244.4 654.3,1240.5 653.4,1236.7 652.6,1232.8 651.8,1228.9 651.0,1224.9 650.1,1220.9 649.3,1217.0 648.5,1213.2 647.8,1209.5 647.2,1206.0 646.6,1202.7 646.0,1199.6 645.5,1196.5 645.2,1193.3 645.0,1189.9 645.0,1185.9 645.3,1181.2 645.6,1176.4 646.0,1171.9 646.4,1168.0 646.7,1165.2" fill="#c59a80"/>
<polygon points="636.7,1173.7 635.5,1175.3 633.9,1177.5 632.0,1180.1 629.8,1183.0 627.6,1185.9 625.2,1188.8 622.8,1191.7 620.2,1194.9 617.5,1198.1 614.7,1201.3 611.8,1204.3 608.9,1207.1 605.8,1209.6 602.6,1212.1 599.3,1214.4 595.9,1216.6 592.6,1218.5 589.4,1220.1 586.2,1221.1 582.9,1221.7 579.5,1222.1 575.9,1222.5 572.4,1223.3 568.9,1224.8 565.8,1227.2 562.9,1230.1 560.1,1233.2 557.6,1236.4 555.5,1239.7 553.9,1242.8 552.7,1245.7 551.9,1248.4 551.5,1251.2 551.5,1254.0 551.7,1257.0 552.3,1260.3 553.5,1264.1 555.2,1268.5 557.2,1273.0 559.3,1277.3 561.1,1280.9 562.3,1283.5 562.8,1283.3 561.8,1280.6 560.2,1276.9 558.5,1272.5 556.7,1267.9 555.3,1263.5 554.4,1259.8 554.0,1256.8 553.8,1254.0 553.9,1251.4 554.3,1249.0 555.0,1246.5 556.2,1244.0 557.9,1241.2 560.1,1238.4 562.7,1235.5 565.5,1232.8 568.4,1230.4 571.1,1228.6 573.8,1227.3 576.7,1226.5 580.0,1225.9 583.5,1225.4 587.1,1224.6 590.7,1223.3 594.2,1221.6 597.7,1219.5 601.2,1217.3 604.7,1214.9 608.0,1212.3 611.2,1209.7 614.3,1206.8 617.4,1203.7 620.3,1200.5 623.1,1197.3 625.7,1194.2 628.2,1191.3 630.6,1188.4 633.0,1185.5 635.2,1182.6 637.2,1180.0 638.9,1177.9 640.1,1176.3" fill="#c59a80"/>
<polygon points="569.8,1225.4 568.2,1225.7 566.1,1226.1 563.5,1226.6 560.6,1227.2 557.6,1228.0 554.6,1229.0 551.7,1230.4 548.6,1232.0 545.5,1233.7 542.4,1235.6 539.3,1237.5 536.3,1239.4 533.2,1241.5 530.0,1243.8 526.9,1246.1 524.0,1248.3 521.6,1250.2 519.9,1251.5 520.2,1251.9 522.0,1250.7 524.5,1249.0 527.5,1246.9 530.7,1244.7 534.0,1242.6 537.1,1240.7 540.1,1238.9 543.2,1237.1 546.4,1235.3 549.5,1233.7 552.6,1232.2 555.4,1231.1 558.2,1230.1 561.1,1229.4 563.9,1228.9 566.5,1228.5 568.6,1228.2 570.3,1228.0" fill="#c59a80"/>
<polygon points="635.9,1197.7 634.8,1199.0 633.4,1200.9 631.6,1203.1 629.7,1205.3 627.8,1207.5 626.1,1209.4 624.4,1211.1 622.6,1212.9 620.8,1214.5 619.0,1216.0 617.6,1217.2 616.6,1218.2 616.9,1218.6 618.0,1217.8 619.6,1216.7 621.5,1215.4 623.4,1213.9 625.5,1212.3 627.3,1210.6 629.2,1208.8 631.1,1206.6 633.1,1204.3 634.9,1202.2 636.5,1200.3 637.6,1199.1" fill="#c59a80"/>
<polygon points="632.7,1210.3 630.9,1211.2 628.4,1212.4 625.3,1213.8 622.1,1215.4 618.9,1217.1 615.9,1218.8 613.2,1220.6 610.6,1222.6 608.2,1224.7 605.7,1226.6 603.4,1228.3 601.2,1229.5 598.9,1230.1 596.6,1230.3 594.1,1230.3 591.4,1230.3 588.8,1230.6 586.2,1231.6 583.8,1233.4 581.6,1235.8 579.4,1238.5 577.5,1241.1 576.0,1243.3 574.8,1244.9 575.2,1245.2 576.6,1243.8 578.4,1241.7 580.4,1239.3 582.7,1236.9 585.0,1234.9 587.2,1233.5 589.3,1232.9 591.5,1232.8 594.0,1232.9 596.6,1233.1 599.4,1233.0 602.3,1232.3 605.0,1230.9 607.6,1229.1 610.1,1227.1 612.6,1225.0 615.0,1223.0 617.5,1221.3 620.3,1219.7 623.5,1218.1 626.7,1216.6 629.7,1215.1 632.2,1214.0 634.1,1213.1" fill="#c59a80"/>
<polygon points="600.8,1230.3 600.0,1231.7 598.8,1233.5 597.5,1235.7 596.0,1238.1 594.4,1240.5 592.6,1242.8 590.7,1245.0 588.5,1247.3 586.2,1249.6 583.8,1252.0 581.5,1254.2 579.5,1256.2 577.7,1258.1 575.9,1260.0 574.3,1261.8 572.8,1263.4 571.6,1264.7 570.7,1265.7 571.0,1266.1 572.1,1265.2 573.4,1264.0 575.0,1262.5 576.8,1260.8 578.6,1259.1 580.6,1257.3 582.6,1255.3 584.9,1253.2 587.4,1250.9 589.8,1248.6 592.1,1246.2 594.1,1244.0 596.0,1241.7 597.7,1239.3 599.3,1236.8 600.6,1234.6 601.8,1232.8 602.6,1231.5" fill="#c59a80"/>
<polygon points="592.4,1239.9 592.1,1241.6 591.6,1244.1 591.0,1247.0 590.4,1250.2 589.8,1253.4 589.2,1256.6 588.7,1259.9 588.2,1263.5 587.6,1267.3 587.1,1270.8 586.7,1273.7 586.5,1275.9 587.0,1275.9 587.4,1273.8 588.0,1270.9 588.7,1267.4 589.5,1263.8 590.2,1260.1 590.9,1256.9 591.5,1253.8 592.2,1250.5 592.8,1247.4 593.4,1244.5 594.0,1242.0 594.3,1240.2" fill="#c59a80"/>
<polygon points="638.9,1189.2 638.3,1191.1 637.5,1193.7 636.5,1196.8 635.5,1200.0 634.6,1203.2 633.9,1206.1 633.3,1208.6 632.9,1211.0 632.6,1213.2 632.3,1215.4 632.1,1217.6 631.8,1219.8 631.7,1222.3 631.8,1224.8 631.9,1227.1 631.9,1229.2 631.7,1231.0 631.3,1232.3 630.7,1233.2 629.8,1234.0 628.4,1234.8 626.6,1235.7 624.5,1236.9 622.3,1238.4 619.8,1240.2 617.0,1242.2 613.9,1244.4 610.8,1246.8 607.8,1249.5 605.3,1252.3 603.3,1255.4 601.6,1258.6 600.1,1262.1 598.8,1265.6 597.8,1269.3 596.9,1273.1 596.2,1277.0 595.8,1281.0 595.5,1285.1 595.4,1289.4 595.5,1293.8 595.6,1298.5 596.1,1303.7 596.8,1309.7 597.6,1315.9 598.5,1321.7 599.2,1326.6 599.8,1330.1 600.3,1330.1 600.0,1326.5 599.5,1321.6 598.9,1315.7 598.4,1309.6 598.0,1303.6 597.8,1298.4 597.8,1293.8 597.9,1289.4 598.1,1285.3 598.5,1281.3 599.1,1277.4 599.9,1273.7 600.8,1270.1 601.9,1266.6 603.1,1263.3 604.6,1260.1 606.2,1257.2 608.1,1254.5 610.3,1252.0 613.1,1249.6 616.0,1247.4 619.1,1245.3 622.0,1243.4 624.5,1241.7 626.6,1240.4 628.5,1239.5 630.4,1238.6 632.2,1237.7 634.0,1236.4 635.5,1234.5 636.4,1232.1 636.8,1229.6 636.9,1227.1 636.9,1224.7 636.8,1222.4 637.0,1220.2 637.2,1218.1 637.5,1216.0 637.7,1213.9 638.0,1211.8 638.4,1209.6 638.9,1207.3 639.6,1204.6 640.5,1201.5 641.5,1198.3 642.5,1195.3 643.3,1192.7 643.9,1190.8" fill="#c59a80"/>
<polygon points="596.0,1280.6 594.2,1281.8 591.8,1283.5 588.9,1285.4 585.7,1287.4 582.6,1289.3 579.6,1290.8 576.7,1291.9 573.7,1293.0 570.7,1293.9 567.6,1294.7 564.6,1295.3 561.6,1295.9 558.5,1296.4 555.1,1296.7 551.8,1296.9 548.7,1297.1 546.1,1297.2 544.2,1297.3 544.2,1297.8 546.1,1297.9 548.7,1298.0 551.8,1298.0 555.2,1298.0 558.6,1297.9 561.8,1297.6 564.9,1297.1 568.0,1296.5 571.2,1295.8 574.3,1294.9 577.4,1293.9 580.5,1292.7 583.6,1291.2 586.9,1289.4 590.2,1287.4 593.1,1285.5 595.6,1283.9 597.4,1282.8" fill="#c59a80"/>
<polygon points="592.6,1289.7 591.6,1291.6 590.3,1294.3 588.8,1297.4 587.0,1300.7 585.0,1303.8 582.9,1306.3 580.7,1308.4 578.5,1310.2 576.0,1311.8 573.3,1313.3 570.2,1314.8 566.5,1316.2 561.9,1317.8 556.2,1319.3 550.1,1320.7 544.3,1322.1 539.3,1323.2 535.8,1324.0 535.9,1324.5 539.4,1323.8 544.4,1322.7 550.3,1321.5 556.4,1320.2 562.2,1318.7 566.9,1317.3 570.6,1315.8 573.8,1314.4 576.6,1312.8 579.2,1311.2 581.6,1309.3 583.8,1307.2 586.1,1304.6 588.2,1301.4 590.1,1298.1 591.7,1295.0 593.1,1292.3 594.1,1290.5" fill="#c59a80"/>
<polygon points="649.5,1236.2 648.9,1236.8 648.2,1237.6 647.3,1238.5 646.3,1239.5 645.1,1240.7 643.8,1241.9 642.2,1243.4 640.4,1245.0 638.5,1246.7 636.5,1248.5 634.4,1250.3 632.3,1252.0 630.3,1253.6 628.0,1255.2 625.7,1256.7 623.4,1258.4 621.1,1260.3 619.0,1262.3 617.0,1264.6 615.1,1267.0 613.3,1269.5 611.6,1272.1 610.1,1275.0 608.8,1277.9 607.8,1281.2 606.8,1284.7 606.1,1288.4 605.6,1292.1 605.4,1295.5 605.7,1298.6 606.7,1301.3 608.5,1303.3 610.5,1304.9 612.3,1306.4 613.6,1308.1 614.2,1310.1 614.0,1313.2 613.1,1317.2 611.7,1321.5 610.2,1325.6 609.0,1329.2 608.2,1331.7 608.6,1331.8 609.6,1329.4 611.1,1325.9 612.8,1321.8 614.3,1317.6 615.5,1313.5 615.9,1310.0 615.2,1307.3 613.6,1305.1 611.7,1303.4 609.9,1301.8 608.5,1300.2 607.8,1298.2 607.6,1295.5 607.9,1292.3 608.4,1288.8 609.2,1285.3 610.2,1281.9 611.3,1278.9 612.5,1276.1 614.0,1273.5 615.6,1271.1 617.4,1268.7 619.2,1266.5 621.1,1264.5 623.1,1262.6 625.3,1261.0 627.5,1259.4 629.9,1257.9 632.2,1256.4 634.5,1254.8 636.6,1253.0 638.8,1251.3 640.9,1249.5 642.9,1247.8 644.8,1246.2 646.4,1244.8 647.8,1243.5 649.0,1242.3 650.1,1241.2 651.0,1240.3 651.8,1239.5 652.3,1238.9" fill="#c59a80"/>
<polygon points="619.3,1233.0 618.6,1234.5 617.7,1236.5 616.6,1238.9 615.5,1241.5 614.6,1244.1 614.2,1246.7 614.4,1249.2 615.0,1251.8 615.9,1254.4 616.8,1256.8 617.6,1258.7 618.2,1260.1 618.6,1260.0 618.3,1258.5 617.6,1256.5 616.9,1254.1 616.3,1251.5 615.9,1249.0 615.9,1246.8 616.3,1244.6 617.1,1242.1 618.1,1239.6 619.2,1237.2 620.2,1235.2 620.9,1233.7" fill="#c59a80"/>
<polygon points="651.8,1245.0 651.0,1245.6 649.9,1246.3 648.5,1247.3 646.9,1248.5 645.2,1250.1 643.4,1252.0 641.6,1254.2 639.5,1256.9 637.4,1259.8 635.3,1262.9 633.3,1266.0 631.5,1269.0 630.1,1271.9 628.8,1274.6 627.6,1277.4 626.6,1280.3 625.7,1283.2 624.8,1286.2 624.1,1289.5 623.5,1292.8 623.0,1296.3 622.6,1299.7 622.2,1303.1 621.7,1306.5 621.2,1309.7 620.6,1312.9 620.0,1316.2 619.5,1319.6 619.1,1323.1 619.0,1326.7 619.2,1330.9 619.8,1335.5 620.4,1340.2 621.2,1344.6 621.8,1348.3 622.3,1351.0 622.8,1350.9 622.6,1348.2 622.2,1344.4 621.8,1340.0 621.4,1335.3 621.1,1330.8 621.1,1326.8 621.5,1323.3 622.0,1320.0 622.7,1316.8 623.5,1313.6 624.4,1310.4 625.1,1307.0 625.7,1303.6 626.2,1300.2 626.7,1296.8 627.2,1293.5 627.9,1290.3 628.6,1287.2 629.5,1284.4 630.4,1281.6 631.5,1279.0 632.6,1276.4 633.9,1273.8 635.3,1271.1 636.9,1268.3 638.9,1265.3 640.9,1262.4 643.0,1259.5 645.0,1256.9 646.7,1254.8 648.2,1253.2 649.7,1251.8 651.1,1250.8 652.4,1249.9 653.5,1249.1 654.4,1248.5" fill="#c59a80"/>
<polygon points="628.5,1282.5 629.5,1284.4 630.9,1287.0 632.5,1290.0 634.1,1293.3 635.6,1296.4 636.8,1299.1 637.8,1301.5 638.8,1303.7 639.6,1305.8 640.1,1307.7 640.4,1309.6 640.3,1311.4 639.7,1313.3 638.6,1315.3 637.1,1317.4 635.4,1319.7 633.8,1322.1 632.4,1324.6 631.4,1327.6 630.5,1330.8 629.7,1334.1 629.1,1337.2 628.5,1339.8 628.2,1341.7 628.6,1341.8 629.3,1340.0 630.1,1337.5 631.0,1334.4 632.1,1331.3 633.2,1328.2 634.4,1325.5 635.7,1323.3 637.3,1321.1 639.1,1319.0 640.8,1316.8 642.3,1314.6 643.2,1312.1 643.5,1309.5 643.2,1307.1 642.7,1304.8 641.9,1302.5 641.0,1300.2 640.0,1297.7 638.8,1294.9 637.2,1291.7 635.6,1288.4 633.9,1285.4 632.6,1282.8 631.6,1280.9" fill="#c59a80"/>
<polygon points="644.0,1256.6 643.8,1258.4 643.5,1261.0 643.1,1264.0 642.7,1267.3 642.5,1270.5 642.5,1273.4 643.0,1276.3 643.6,1279.2 644.4,1282.1 645.3,1284.7 646.0,1286.9 646.5,1288.5 647.0,1288.3 646.7,1286.7 646.1,1284.5 645.5,1281.8 644.9,1278.9 644.5,1276.1 644.3,1273.4 644.3,1270.6 644.6,1267.4 645.0,1264.2 645.5,1261.3 645.9,1258.7 646.1,1256.9" fill="#c59a80"/>
<polygon points="647.4,1181.1 648.6,1182.3 650.3,1184.0 652.4,1185.9 654.7,1188.0 657.0,1189.9 659.3,1191.3 661.5,1192.5 663.6,1193.6 665.9,1194.4 668.3,1195.1 670.9,1195.3 673.8,1195.1 676.9,1193.9 680.0,1192.1 683.2,1190.0 686.3,1188.0 689.3,1186.4 692.0,1185.5 694.5,1185.2 696.9,1185.4 699.3,1185.9 701.8,1186.7 704.7,1187.9 708.0,1189.2 712.2,1191.1 717.2,1193.5 722.5,1196.2 727.6,1198.9 731.9,1201.2 735.0,1202.8 735.2,1202.3 732.3,1200.5 728.1,1198.1 723.1,1195.2 717.9,1192.2 713.0,1189.5 708.8,1187.5 705.5,1186.0 702.6,1184.7 699.9,1183.7 697.3,1183.0 694.5,1182.7 691.5,1182.9 688.2,1183.8 684.9,1185.5 681.6,1187.4 678.4,1189.4 675.5,1190.9 673.0,1191.7 670.9,1191.9 668.8,1191.8 666.8,1191.3 664.8,1190.6 662.8,1189.7 660.8,1188.7 658.8,1187.4 656.6,1185.7 654.4,1183.7 652.4,1181.8 650.7,1180.1 649.4,1178.9" fill="#c59a80"/>
<polygon points="654.3,1188.7 655.0,1190.2 655.9,1192.5 657.1,1195.2 658.2,1197.9 659.1,1200.2 659.8,1201.8 660.3,1201.6 659.8,1200.0 659.0,1197.6 658.1,1194.8 657.2,1192.1 656.4,1189.7 655.9,1188.1" fill="#c59a80"/>
<polygon points="645.3,1197.7 646.3,1199.1 647.6,1201.2 649.2,1203.7 651.1,1206.3 653.4,1208.6 656.0,1210.2 659.0,1210.7 661.9,1210.4 664.7,1209.7 667.5,1209.0 670.3,1208.5 673.3,1208.4 676.7,1208.8 680.6,1209.5 684.7,1210.4 688.8,1211.3 692.7,1212.4 696.3,1213.4 699.4,1214.3 702.3,1215.2 704.9,1216.2 707.5,1217.3 710.2,1218.4 712.9,1219.6 715.6,1220.8 718.1,1222.1 720.7,1223.4 723.4,1224.8 726.4,1226.2 729.8,1227.6 733.8,1229.0 738.5,1230.5 743.5,1232.0 748.2,1233.4 752.2,1234.5 755.1,1235.3 755.2,1234.8 752.4,1233.8 748.5,1232.4 743.9,1230.8 739.0,1229.1 734.4,1227.4 730.5,1225.8 727.3,1224.4 724.4,1222.9 721.8,1221.4 719.3,1220.0 716.7,1218.6 714.0,1217.2 711.3,1215.9 708.7,1214.6 706.1,1213.4 703.4,1212.3 700.5,1211.1 697.3,1210.0 693.6,1209.0 689.6,1208.0 685.5,1207.0 681.3,1206.1 677.3,1205.4 673.5,1205.0 670.0,1205.0 666.8,1205.5 663.8,1206.2 661.3,1206.7 659.1,1206.9 657.4,1206.5 655.8,1205.6 654.0,1203.8 652.2,1201.6 650.6,1199.2 649.2,1197.1 648.2,1195.7" fill="#c59a80"/>
<polygon points="695.4,1212.3 696.1,1213.9 697.0,1216.2 698.2,1218.9 699.5,1221.8 700.9,1224.7 702.3,1227.3 703.5,1229.7 704.7,1232.1 706.0,1234.6 707.6,1237.1 709.9,1239.3 712.8,1241.2 716.5,1242.7 720.7,1243.9 725.4,1244.9 730.5,1245.7 736.0,1246.3 741.7,1246.8 748.4,1246.9 756.3,1246.7 764.4,1246.4 772.2,1246.0 778.8,1245.6 783.5,1245.3 783.5,1244.8 778.8,1244.9 772.2,1245.1 764.4,1245.3 756.2,1245.4 748.5,1245.4 741.8,1245.0 736.2,1244.5 730.8,1243.7 725.8,1242.8 721.3,1241.7 717.4,1240.4 714.0,1238.9 711.5,1237.3 709.6,1235.4 708.2,1233.3 707.0,1231.0 705.9,1228.5 704.6,1226.1 703.2,1223.5 702.0,1220.7 700.8,1217.8 699.7,1215.1 698.8,1212.8 698.2,1211.1" fill="#c59a80"/>
<polygon points="697.1,1213.4 697.1,1216.8 697.0,1221.6 696.9,1227.2 697.1,1233.2 697.7,1238.9 698.9,1243.8 700.8,1247.8 703.3,1251.4 706.2,1254.6 709.3,1257.5 712.7,1260.1 716.3,1262.6 720.4,1264.8 725.1,1266.7 730.1,1268.5 734.8,1269.9 738.9,1271.1 741.7,1272.0 741.9,1271.5 739.1,1270.4 735.1,1269.0 730.5,1267.3 725.7,1265.4 721.1,1263.2 717.3,1260.9 714.0,1258.5 710.8,1255.8 707.8,1253.0 705.2,1249.9 703.0,1246.6 701.3,1243.0 700.2,1238.5 699.7,1233.1 699.5,1227.2 699.6,1221.6 699.7,1216.8 699.7,1213.4" fill="#c59a80"/>
<polygon points="655.4,1209.5 656.9,1211.2 658.9,1213.5 661.3,1216.3 663.8,1219.2 666.4,1222.1 668.9,1224.6 671.2,1226.8 673.6,1228.6 675.9,1230.4 678.1,1232.1 680.2,1234.0 682.1,1236.1 683.9,1238.7 685.7,1241.7 687.5,1245.0 689.2,1248.3 690.8,1251.4 692.3,1254.0 693.5,1256.1 694.4,1257.9 695.3,1259.4 696.3,1260.9 697.6,1262.5 699.4,1264.2 701.8,1266.0 704.7,1267.7 707.8,1269.4 710.9,1271.2 713.7,1273.2 716.2,1275.6 718.4,1278.5 720.4,1282.1 722.4,1286.0 724.0,1289.7 725.5,1292.9 726.6,1295.2 727.0,1295.0 726.1,1292.7 724.8,1289.4 723.3,1285.6 721.5,1281.6 719.5,1277.8 717.4,1274.6 714.8,1272.0 711.8,1269.8 708.7,1267.8 705.7,1266.0 703.0,1264.3 700.8,1262.6 699.3,1261.0 698.2,1259.6 697.4,1258.2 696.6,1256.7 695.7,1254.9 694.6,1252.8 693.2,1250.1 691.8,1247.0 690.2,1243.6 688.5,1240.2 686.7,1236.9 684.8,1234.0 682.6,1231.5 680.3,1229.5 678.0,1227.6 675.7,1225.9 673.5,1224.1 671.3,1222.1 669.0,1219.7 666.4,1216.9 663.9,1214.0 661.5,1211.3 659.5,1208.9 658.1,1207.2" fill="#c59a80"/>
<polygon points="706.8,1219.1 707.5,1220.7 708.5,1222.9 709.7,1225.6 710.9,1228.5 712.3,1231.4 713.5,1234.1 714.8,1236.6 715.9,1239.1 717.2,1241.6 718.6,1244.2 720.3,1246.8 722.3,1249.4 724.7,1251.9 727.4,1254.5 730.3,1256.9 733.3,1259.4 736.2,1261.9 739.1,1264.5 741.9,1267.2 744.8,1270.1 747.7,1273.0 750.5,1275.9 753.3,1278.6 755.9,1281.0 758.2,1283.1 760.2,1285.1 762.2,1286.9 764.4,1288.6 766.8,1290.0 769.8,1291.1 773.7,1291.8 778.2,1292.1 783.0,1292.2 787.6,1292.1 791.6,1292.0 794.3,1292.0 794.3,1291.5 791.6,1291.3 787.7,1291.1 783.1,1290.9 778.3,1290.5 774.0,1289.9 770.4,1289.0 767.8,1288.0 765.7,1286.7 763.8,1285.1 761.9,1283.3 760.0,1281.3 757.7,1279.1 755.1,1276.7 752.5,1274.0 749.7,1271.1 746.8,1268.1 744.0,1265.1 741.2,1262.3 738.2,1259.7 735.2,1257.1 732.2,1254.6 729.4,1252.2 726.8,1249.8 724.6,1247.4 722.8,1245.0 721.4,1242.6 720.1,1240.1 719.0,1237.7 717.8,1235.2 716.7,1232.6 715.4,1230.0 714.1,1227.1 712.8,1224.2 711.7,1221.6 710.7,1219.3 710.0,1217.7" fill="#c59a80"/>
<polygon points="647.0,1227.8 648.2,1229.2 649.7,1231.1 651.5,1233.4 653.4,1235.9 655.3,1238.5 656.9,1241.0 658.4,1243.4 659.9,1246.0 661.2,1248.6 662.6,1251.4 663.9,1254.3 665.1,1257.3 666.3,1260.7 667.4,1264.4 668.4,1268.3 669.5,1272.2 670.7,1275.8 672.1,1279.1 673.6,1281.6 675.2,1283.7 676.8,1285.3 678.5,1286.9 680.4,1288.7 682.4,1290.9 684.8,1293.8 687.5,1297.2 690.4,1300.8 693.4,1304.5 696.4,1307.9 699.3,1310.8 701.9,1313.3 704.3,1315.6 706.7,1317.6 709.3,1319.4 712.6,1321.0 716.6,1322.5 721.9,1323.7 728.5,1324.7 735.7,1325.5 742.6,1326.1 748.5,1326.6 752.6,1327.0 752.7,1326.5 748.5,1326.0 742.7,1325.3 735.8,1324.5 728.7,1323.5 722.2,1322.4 717.0,1321.0 713.2,1319.6 710.2,1317.9 707.8,1316.1 705.6,1314.1 703.4,1311.9 700.9,1309.3 698.1,1306.4 695.2,1303.0 692.3,1299.3 689.5,1295.7 686.8,1292.2 684.4,1289.2 682.3,1286.8 680.4,1285.0 678.8,1283.3 677.4,1281.8 676.1,1280.0 674.8,1277.7 673.6,1274.8 672.5,1271.3 671.6,1267.5 670.6,1263.5 669.5,1259.7 668.4,1256.1 667.1,1252.9 665.7,1249.9 664.3,1247.1 662.9,1244.3 661.4,1241.7 659.9,1239.1 658.2,1236.5 656.2,1233.8 654.3,1231.3 652.4,1229.0 650.9,1227.0 649.8,1225.6" fill="#c59a80"/>
<polygon points="667.6,1223.2 668.1,1224.2 668.6,1225.6 669.3,1227.2 670.1,1229.1 670.9,1231.3 671.8,1233.9 672.7,1237.0 673.7,1240.8 674.7,1244.9 675.9,1249.2 677.1,1253.4 678.5,1257.3 680.0,1260.9 681.6,1264.4 683.2,1267.7 685.0,1270.9 686.8,1274.2 688.8,1277.5 690.9,1280.9 693.1,1284.2 695.4,1287.5 697.7,1290.9 700.1,1294.2 702.4,1297.5 704.6,1300.8 706.9,1304.1 709.1,1307.4 711.4,1310.7 713.6,1314.0 715.9,1317.4 718.2,1320.8 720.5,1324.3 722.8,1327.9 725.1,1331.4 727.3,1334.5 729.4,1337.3 731.3,1339.6 733.0,1341.7 734.6,1343.5 736.2,1345.0 738.0,1346.3 739.9,1347.4 742.1,1348.0 744.5,1348.3 747.0,1348.3 749.3,1348.1 751.2,1347.9 752.6,1347.9 752.6,1347.4 751.2,1347.3 749.3,1347.3 747.0,1347.4 744.6,1347.2 742.3,1346.9 740.4,1346.2 738.7,1345.2 737.2,1343.9 735.7,1342.4 734.2,1340.7 732.6,1338.6 730.8,1336.2 728.8,1333.5 726.7,1330.3 724.5,1326.9 722.2,1323.2 719.9,1319.6 717.7,1316.2 715.5,1312.8 713.3,1309.4 711.1,1306.1 708.9,1302.7 706.7,1299.4 704.5,1296.0 702.3,1292.7 700.0,1289.3 697.7,1285.9 695.5,1282.6 693.4,1279.3 691.4,1276.0 689.5,1272.7 687.8,1269.4 686.1,1266.2 684.6,1262.9 683.1,1259.6 681.7,1256.1 680.4,1252.4 679.2,1248.3 678.1,1244.0 677.0,1239.9 676.0,1236.1 675.1,1232.9 674.2,1230.2 673.3,1227.8 672.5,1225.8 671.8,1224.2 671.3,1222.9 670.9,1221.9" fill="#c59a80"/>
<polygon points="665.5,1266.9 665.7,1269.1 666.1,1272.3 666.5,1276.1 667.1,1280.0 667.8,1283.9 668.9,1287.2 670.3,1290.0 672.0,1292.6 673.9,1294.9 675.8,1297.0 677.5,1299.0 679.1,1300.9 680.5,1302.7 682.0,1304.3 683.3,1305.7 684.3,1307.1 685.0,1308.5 685.5,1310.2 685.6,1312.5 685.3,1315.3 684.8,1318.3 684.0,1321.3 683.2,1324.0 682.4,1326.3 681.6,1328.2 680.6,1330.0 679.4,1331.5 678.2,1332.9 677.2,1334.0 676.6,1334.9 676.9,1335.3 677.8,1334.6 679.0,1333.6 680.4,1332.4 681.8,1331.0 683.2,1329.2 684.4,1327.2 685.4,1324.7 686.3,1321.9 687.1,1318.8 687.7,1315.6 688.1,1312.6 688.1,1309.9 687.5,1307.6 686.5,1305.7 685.3,1304.0 683.9,1302.5 682.5,1301.0 681.1,1299.3 679.5,1297.3 677.7,1295.3 675.9,1293.2 674.1,1291.0 672.5,1288.7 671.3,1286.3 670.4,1283.2 669.6,1279.6 669.1,1275.7 668.7,1272.0 668.3,1268.8 668.0,1266.6" fill="#c59a80"/>
<polygon points="685.8,1290.9 687.3,1292.7 689.4,1295.1 691.8,1298.0 694.4,1301.1 696.9,1304.4 699.0,1307.5 700.9,1310.5 702.7,1313.8 704.4,1317.2 706.1,1320.6 707.6,1323.9 709.1,1327.2 710.4,1330.3 711.4,1333.5 712.3,1336.7 713.4,1339.8 714.6,1342.7 716.1,1345.5 718.3,1348.1 720.8,1350.6 723.5,1352.9 726.1,1354.9 728.4,1356.6 730.0,1357.8 730.3,1357.4 728.8,1356.1 726.7,1354.3 724.2,1352.1 721.6,1349.7 719.3,1347.2 717.4,1344.7 716.1,1342.1 715.0,1339.2 714.1,1336.1 713.3,1332.9 712.3,1329.6 711.1,1326.3 709.7,1323.0 708.2,1319.6 706.6,1316.1 704.9,1312.7 703.1,1309.3 701.2,1306.0 699.0,1302.8 696.4,1299.5 693.8,1296.3 691.3,1293.4 689.2,1291.0 687.8,1289.2" fill="#c59a80"/>
<polygon points="654.8,1284.2 654.2,1285.1 653.2,1286.4 651.9,1287.9 650.7,1289.9 649.5,1292.1 648.6,1294.7 648.0,1297.6 647.4,1300.9 646.9,1304.5 646.7,1308.2 646.6,1311.9 646.9,1315.3 647.5,1318.5 648.5,1321.6 649.6,1324.7 650.9,1327.6 652.4,1330.2 654.0,1332.5 655.7,1334.5 657.3,1336.0 659.2,1337.3 661.2,1338.5 663.6,1339.7 666.4,1340.9 670.2,1342.3 674.8,1343.8 679.8,1345.3 684.6,1346.7 688.8,1347.9 691.7,1348.7 691.8,1348.2 689.0,1347.2 684.9,1345.8 680.2,1344.3 675.2,1342.6 670.7,1340.9 667.1,1339.3 664.4,1338.0 662.2,1336.7 660.4,1335.6 658.9,1334.3 657.5,1332.8 656.1,1331.0 654.7,1328.8 653.4,1326.3 652.2,1323.6 651.2,1320.8 650.4,1317.8 649.9,1314.9 649.7,1311.8 649.7,1308.4 650.0,1304.8 650.4,1301.4 650.9,1298.2 651.5,1295.5 652.3,1293.3 653.3,1291.4 654.4,1289.7 655.6,1288.2 656.6,1287.0 657.3,1286.0" fill="#c59a80"/>
<polygon points="656.0,1317.5 657.3,1318.8 659.0,1320.6 661.2,1322.7 663.4,1324.9 665.7,1327.1 667.8,1329.1 669.8,1330.8 671.8,1332.3 673.7,1333.8 675.7,1335.3 677.6,1336.9 679.6,1338.9 681.8,1341.3 684.3,1344.2 686.7,1347.3 689.0,1350.2 691.0,1352.7 692.4,1354.4 692.8,1354.1 691.5,1352.3 689.6,1349.7 687.4,1346.7 685.1,1343.5 682.7,1340.5 680.6,1338.0 678.6,1335.9 676.6,1334.2 674.7,1332.6 672.8,1331.0 670.9,1329.5 669.0,1327.8 667.0,1325.8 664.8,1323.6 662.5,1321.3 660.5,1319.1 658.8,1317.3 657.5,1316.0" fill="#c59a80"/>
<polygon points="688.1,1320.5 690.2,1321.9 693.1,1323.9 696.5,1326.3 700.0,1328.6 702.9,1330.6 705.0,1332.0 705.2,1331.6 703.3,1330.1 700.4,1328.0 697.0,1325.6 693.6,1323.2 690.7,1321.1 688.7,1319.6" fill="#c59a80"/>
<polygon points="682.4,1235.3 682.9,1237.7 683.6,1241.1 684.4,1245.1 685.3,1249.3 686.4,1253.4 687.5,1257.0 688.7,1260.1 690.0,1263.0 691.3,1265.8 692.8,1268.4 694.4,1271.1 696.1,1273.8 698.3,1276.8 700.9,1279.9 703.6,1283.1 706.1,1286.0 708.3,1288.5 709.9,1290.2 710.3,1289.9 708.9,1288.0 706.8,1285.5 704.3,1282.5 701.8,1279.2 699.4,1276.0 697.4,1273.0 695.7,1270.3 694.2,1267.6 692.8,1265.0 691.6,1262.3 690.4,1259.4 689.4,1256.4 688.3,1252.9 687.3,1248.8 686.4,1244.6 685.6,1240.6 685.0,1237.3 684.5,1234.8" fill="#c59a80"/>
<polygon points="615.9,1263.3 615.6,1265.3 615.2,1268.1 614.8,1271.4 614.4,1275.0 614.2,1278.6 614.3,1281.8 614.9,1284.9 615.9,1288.2 617.0,1291.4 618.1,1294.3 619.1,1296.7 619.8,1298.5 620.3,1298.3 619.8,1296.5 618.9,1294.0 617.9,1291.1 617.0,1287.9 616.2,1284.7 615.8,1281.7 615.7,1278.6 616.0,1275.1 616.4,1271.6 616.9,1268.3 617.3,1265.5 617.6,1263.5" fill="#c59a80"/>
<polygon points="672.6,1278.2 672.0,1280.3 671.0,1283.3 669.9,1286.8 668.9,1290.7 668.1,1294.6 667.7,1298.4 667.9,1302.2 668.5,1306.4 669.3,1310.6 670.2,1314.5 671.0,1317.8 671.5,1320.1 672.0,1320.0 671.6,1317.6 671.0,1314.3 670.3,1310.4 669.6,1306.2 669.2,1302.1 669.2,1298.4 669.6,1294.9 670.4,1291.1 671.5,1287.3 672.6,1283.8 673.6,1280.8 674.3,1278.6" fill="#c59a80"/>
<polygon points="606.1,1298.1 605.4,1299.7 604.4,1301.9 603.3,1304.5 602.0,1307.2 600.8,1309.6 599.6,1311.4 598.5,1312.8 597.3,1313.9 596.1,1314.8 594.9,1315.5 594.0,1316.0 593.2,1316.5 593.5,1317.0 594.3,1316.6 595.3,1316.1 596.5,1315.4 597.8,1314.6 599.2,1313.5 600.5,1312.1 601.7,1310.1 603.0,1307.7 604.3,1305.0 605.5,1302.4 606.6,1300.2 607.3,1298.7" fill="#c59a80"/>
<polygon points="716.3,1317.2 717.0,1317.8 717.8,1318.6 718.9,1319.6 720.1,1320.6 721.6,1321.6 723.3,1322.3 725.3,1322.7 727.8,1323.1 730.5,1323.3 733.1,1323.5 735.2,1323.6 736.8,1323.7 736.8,1323.2 735.3,1323.0 733.1,1322.8 730.6,1322.5 727.9,1322.2 725.5,1321.8 723.6,1321.2 722.1,1320.6 720.8,1319.7 719.7,1318.7 718.7,1317.7 717.9,1316.9 717.2,1316.3" fill="#c59a80"/>
<polygon points="590.3,1220.9 589.1,1220.5 587.3,1219.8 585.2,1219.0 582.9,1218.2 580.6,1217.7 578.3,1217.6 576.1,1218.1 573.8,1219.1 571.6,1220.2 569.5,1221.4 567.8,1222.4 566.6,1223.2 566.8,1223.6 568.1,1223.0 569.9,1222.1 572.0,1221.1 574.3,1220.2 576.5,1219.4 578.4,1219.1 580.3,1219.3 582.5,1219.8 584.7,1220.5 586.7,1221.3 588.5,1222.0 589.8,1222.5" fill="#c59a80"/>
<polygon points="666.0,1258.9 665.6,1259.6 665.1,1260.6 664.5,1261.9 663.9,1263.3 663.2,1264.8 662.6,1266.4 662.0,1267.9 661.4,1269.4 660.7,1271.0 660.1,1272.9 659.6,1275.3 659.2,1278.3 659.1,1282.5 659.2,1287.7 659.3,1293.3 659.5,1298.8 659.7,1303.5 659.8,1306.8 660.3,1306.7 660.4,1303.5 660.4,1298.8 660.4,1293.3 660.5,1287.7 660.7,1282.5 660.9,1278.5 661.3,1275.6 661.8,1273.3 662.4,1271.6 663.0,1270.0 663.6,1268.6 664.2,1267.0 664.8,1265.5 665.4,1264.0 666.1,1262.6 666.7,1261.4 667.2,1260.4 667.5,1259.6" fill="#c59a80"/>
<path d="M370.0,703.5C373.2,707.9 382.0,722.0 388.8,730.0C395.6,738.1 402.9,744.4 410.7,751.9C418.5,759.5 426.6,767.6 435.7,775.4C444.8,783.2 455.2,791.8 465.4,798.8C475.6,805.9 485.5,811.1 496.7,817.6C507.9,824.1 526.6,834.5 532.6,837.9" fill="none" stroke="#0a0a0a" stroke-width="10.3" stroke-linecap="round" stroke-linejoin="round"/>
<path d="M531.3,837.9C538.8,843.1 566.4,862.0 576.2,869.2C586.0,876.4 587.7,879.0 590.0,881.0" fill="none" stroke="#0a0a0a" stroke-width="12.0" stroke-linecap="round" stroke-linejoin="round"/>
<path d="M399.7,749.6C396.4,749.0 386.5,745.1 379.4,746.0C372.4,746.9 365.4,750.9 357.5,755.1C349.7,759.2 339.3,766.4 332.5,770.7C325.8,775.0 319.5,779.2 316.9,780.9" fill="none" stroke="#0a0a0a" stroke-width="10.3" stroke-linecap="round" stroke-linejoin="round"/>
<path d="M409.1,731.6C408.9,728.2 408.7,717.7 407.9,711.3C407.1,704.9 405.0,696.3 404.4,693.3" fill="none" stroke="#0a0a0a" stroke-width="8.1" stroke-linecap="round" stroke-linejoin="round"/>
<path d="M415.4,749.6C418.2,748.5 427.4,744.8 432.6,742.9C437.8,741.0 444.3,739.0 446.6,738.2" fill="none" stroke="#0a0a0a" stroke-width="7.8" stroke-linecap="round" stroke-linejoin="round"/>
<polygon points="635.3,795.7 635.2,797.5 635.0,800.0 634.8,802.9 634.6,805.9 634.4,809.0 634.2,811.7 634.0,814.1 633.7,816.4 633.4,818.7 633.1,820.9 632.8,823.2 632.5,825.4 632.1,827.7 631.6,830.0 631.1,832.3 630.6,834.7 630.2,837.1 629.8,839.6 629.6,842.0 629.5,844.5 629.4,846.9 629.3,849.0 629.3,850.7 629.2,852.0 641.2,852.0 641.1,850.7 641.1,848.9 641.0,846.9 640.9,844.7 640.9,842.5 641.0,840.4 641.1,838.4 641.2,836.2 641.4,833.9 641.7,831.5 641.9,829.0 642.1,826.6 642.3,824.2 642.4,821.9 642.6,819.5 642.7,817.2 642.9,814.8 643.0,812.3 643.2,809.6 643.4,806.5 643.5,803.4 643.7,800.5 643.8,798.0 643.9,796.3" fill="#0a0a0a" stroke="#0a0a0a" stroke-width="4.4" stroke-linejoin="round"/>
<path d="M609.4,834.0C612.0,835.7 620.6,841.1 625.1,844.1C629.5,847.1 634.2,850.7 636.0,852.0" fill="none" stroke="#0a0a0a" stroke-width="10.0" stroke-linecap="round" stroke-linejoin="round"/>
<path d="M642.4,687.9C642.2,683.2 642.0,667.8 641.3,659.8C640.6,651.7 640.2,644.9 638.2,639.4C636.1,634.0 633.2,632.9 628.8,626.9C624.4,621.0 616.0,608.7 611.6,603.5C607.2,598.3 606.4,599.3 602.2,595.7C598.0,592.0 592.0,585.5 586.6,581.6C581.1,577.7 573.8,574.4 569.4,572.2C565.0,570.0 561.6,569.0 560.0,568.3" fill="none" stroke="#0a0a0a" stroke-width="10.6" stroke-linecap="round" stroke-linejoin="round"/>
<path d="M642.4,687.9C642.3,683.2 642.2,667.6 641.6,659.8C641.0,652.0 639.4,644.1 638.9,641.0" fill="none" stroke="#0a0a0a" stroke-width="13.7" stroke-linecap="round" stroke-linejoin="round"/>
<path d="M638.9,637.9C640.4,635.0 645.3,625.9 647.5,620.7C649.8,615.5 652.0,611.3 652.2,606.6C652.5,601.9 650.7,598.0 649.1,592.6C647.5,587.1 645.2,580.0 642.9,573.8C640.5,567.5 638.4,561.0 635.0,555.0C631.6,549.0 625.3,541.6 622.5,537.8C619.7,534.1 618.9,533.3 618.2,532.4" fill="none" stroke="#0a0a0a" stroke-width="9.3" stroke-linecap="round" stroke-linejoin="round"/>
<path d="M652.2,609.7C653.5,607.1 656.7,598.8 660.0,594.1C663.4,589.4 668.4,585.0 672.6,581.6C676.7,578.2 681.5,575.7 685.1,573.8C688.6,571.8 692.2,570.5 693.7,569.9" fill="none" stroke="#0a0a0a" stroke-width="8.4" stroke-linecap="round" stroke-linejoin="round"/>
<path d="M653.8,612.9C656.4,613.2 664.2,614.2 669.4,614.8C674.6,615.3 682.5,616.1 685.1,616.3" fill="none" stroke="#0a0a0a" stroke-width="7.2" stroke-linecap="round" stroke-linejoin="round"/>
<path d="M752.3,572.2C753.6,575.1 757.7,584.0 760.1,589.4C762.4,594.9 764.4,599.8 766.3,605.1C768.3,610.3 770.9,618.1 771.8,620.7" fill="none" stroke="#0a0a0a" stroke-width="9.7" stroke-linecap="round" stroke-linejoin="round"/>
<path d="M488.2,560.0C491.9,560.3 502.3,561.1 510.1,561.6C517.9,562.1 526.8,562.3 535.1,563.2C543.4,564.0 555.8,566.2 560.0,566.8" fill="none" stroke="#0a0a0a" stroke-width="6.2" stroke-linecap="round" stroke-linejoin="round"/>
<path d="M549.2,572.2C549.6,574.6 551.0,581.3 551.5,586.3C552.1,591.3 552.2,599.3 552.3,601.9" fill="none" stroke="#0a0a0a" stroke-width="5.6" stroke-linecap="round" stroke-linejoin="round"/>
<path d="M825.5,805.0C825.9,808.2 825.9,816.8 828.2,824.0C830.5,831.2 835.9,840.7 839.0,848.4C842.2,856.1 845.8,866.5 847.2,870.1" fill="none" stroke="#0a0a0a" stroke-width="8.3" stroke-linecap="round" stroke-linejoin="round"/>
<path d="M416.3,981.9C418.2,980.4 421.3,975.6 427.5,972.5C433.8,969.5 444.7,965.8 453.8,963.5C462.9,961.3 472.6,960.2 481.9,959.0C491.3,957.9 502.3,956.7 510.1,956.8C517.9,956.9 525.7,959.3 528.8,959.8" fill="none" stroke="#0a0a0a" stroke-width="9.4" stroke-linecap="round" stroke-linejoin="round"/>
<polyline points="637.3,1166.0 637.6,1160.0 634.3,1133.9 631.1,1105.7 628.6,1073.8 626.8,1047.6 621.7,1038.2 603.9,1021.3 587.0,1002.6 570.5,975.9 575.7,973.5 594.5,991.3 613.3,1010.1 633.0,1027.9 636.3,1003.0 638.3,990.0 638.0,975.5 634.8,957.8 628.6,939.0 619.2,921.3 607.7,904.6 592.1,890.0 573.4,873.4" fill="none" stroke="#0a0a0a" stroke-width="4.800000000000001" stroke-linecap="butt" stroke-linejoin="round"/>
<polyline points="579.1,865.0 602.5,884.8 623.4,904.6 632.2,917.1 630.7,898.4 628.6,876.5 629.4,860.8 628.6,850.4 629.1,835.8" fill="none" stroke="#0a0a0a" stroke-width="4.800000000000001" stroke-linecap="butt" stroke-linejoin="round"/>
<polyline points="641.3,835.8 641.6,860.8 640.6,881.7 642.7,902.5 647.3,919.2 650.5,929.1 654.6,924.4 665.1,902.5 677.6,879.6" fill="none" stroke="#0a0a0a" stroke-width="4.800000000000001" stroke-linecap="butt" stroke-linejoin="round"/>
<polyline points="688.0,884.8 678.6,902.5 670.3,923.4 664.0,939.0 658.8,954.6 656.2,970.3 655.2,990.0 654.5,1021.3 652.3,1058.8 650.4,1105.7 648.5,1160.0 648.3,1166.0" fill="none" stroke="#0a0a0a" stroke-width="4.800000000000001" stroke-linecap="butt" stroke-linejoin="round"/>
<path d="M370.0,703.5C373.2,707.9 382.0,722.0 388.8,730.0C395.6,738.1 402.9,744.4 410.7,751.9C418.5,759.5 426.6,767.6 435.7,775.4C444.8,783.2 455.2,791.8 465.4,798.8C475.6,805.9 485.5,811.1 496.7,817.6C507.9,824.1 526.6,834.5 532.6,837.9" fill="none" stroke="#82922a" stroke-width="5.9" stroke-linecap="round" stroke-linejoin="round"/>
<path d="M531.3,837.9C538.8,843.1 566.4,862.0 576.2,869.2C586.0,876.4 587.7,879.0 590.0,881.0" fill="none" stroke="#82922a" stroke-width="7.6" stroke-linecap="round" stroke-linejoin="round"/>
<path d="M399.7,749.6C396.4,749.0 386.5,745.1 379.4,746.0C372.4,746.9 365.4,750.9 357.5,755.1C349.7,759.2 339.3,766.4 332.5,770.7C325.8,775.0 319.5,779.2 316.9,780.9" fill="none" stroke="#82922a" stroke-width="5.9" stroke-linecap="round" stroke-linejoin="round"/>
<path d="M409.1,731.6C408.9,728.2 408.7,717.7 407.9,711.3C407.1,704.9 405.0,696.3 404.4,693.3" fill="none" stroke="#82922a" stroke-width="3.7" stroke-linecap="round" stroke-linejoin="round"/>
<path d="M415.4,749.6C418.2,748.5 427.4,744.8 432.6,742.9C437.8,741.0 444.3,739.0 446.6,738.2" fill="none" stroke="#82922a" stroke-width="3.4" stroke-linecap="round" stroke-linejoin="round"/>
<polygon points="635.3,795.7 635.2,797.5 635.0,800.0 634.8,802.9 634.6,805.9 634.4,809.0 634.2,811.7 634.0,814.1 633.7,816.4 633.4,818.7 633.1,820.9 632.8,823.2 632.5,825.4 632.1,827.7 631.6,830.0 631.1,832.3 630.6,834.7 630.2,837.1 629.8,839.6 629.6,842.0 629.5,844.5 629.4,846.9 629.3,849.0 629.3,850.7 629.2,852.0 641.2,852.0 641.1,850.7 641.1,848.9 641.0,846.9 640.9,844.7 640.9,842.5 641.0,840.4 641.1,838.4 641.2,836.2 641.4,833.9 641.7,831.5 641.9,829.0 642.1,826.6 642.3,824.2 642.4,821.9 642.6,819.5 642.7,817.2 642.9,814.8 643.0,812.3 643.2,809.6 643.4,806.5 643.5,803.4 643.7,800.5 643.8,798.0 643.9,796.3" fill="#82922a" stroke="#82922a" stroke-width="0.6"/>
<path d="M609.4,834.0C612.0,835.7 620.6,841.1 625.1,844.1C629.5,847.1 634.2,850.7 636.0,852.0" fill="none" stroke="#82922a" stroke-width="5.6" stroke-linecap="round" stroke-linejoin="round"/>
<path d="M642.4,687.9C642.2,683.2 642.0,667.8 641.3,659.8C640.6,651.7 640.2,644.9 638.2,639.4C636.1,634.0 633.2,632.9 628.8,626.9C624.4,621.0 616.0,608.7 611.6,603.5C607.2,598.3 606.4,599.3 602.2,595.7C598.0,592.0 592.0,585.5 586.6,581.6C581.1,577.7 573.8,574.4 569.4,572.2C565.0,570.0 561.6,569.0 560.0,568.3" fill="none" stroke="#82922a" stroke-width="6.2" stroke-linecap="round" stroke-linejoin="round"/>
<path d="M642.4,687.9C642.3,683.2 642.2,667.6 641.6,659.8C641.0,652.0 639.4,644.1 638.9,641.0" fill="none" stroke="#82922a" stroke-width="9.3" stroke-linecap="round" stroke-linejoin="round"/>
<path d="M638.9,637.9C640.4,635.0 645.3,625.9 647.5,620.7C649.8,615.5 652.0,611.3 652.2,606.6C652.5,601.9 650.7,598.0 649.1,592.6C647.5,587.1 645.2,580.0 642.9,573.8C640.5,567.5 638.4,561.0 635.0,555.0C631.6,549.0 625.3,541.6 622.5,537.8C619.7,534.1 618.9,533.3 618.2,532.4" fill="none" stroke="#82922a" stroke-width="4.9" stroke-linecap="round" stroke-linejoin="round"/>
<path d="M652.2,609.7C653.5,607.1 656.7,598.8 660.0,594.1C663.4,589.4 668.4,585.0 672.6,581.6C676.7,578.2 681.5,575.7 685.1,573.8C688.6,571.8 692.2,570.5 693.7,569.9" fill="none" stroke="#82922a" stroke-width="4.0" stroke-linecap="round" stroke-linejoin="round"/>
<path d="M653.8,612.9C656.4,613.2 664.2,614.2 669.4,614.8C674.6,615.3 682.5,616.1 685.1,616.3" fill="none" stroke="#82922a" stroke-width="2.8" stroke-linecap="round" stroke-linejoin="round"/>
<path d="M752.3,572.2C753.6,575.1 757.7,584.0 760.1,589.4C762.4,594.9 764.4,599.8 766.3,605.1C768.3,610.3 770.9,618.1 771.8,620.7" fill="none" stroke="#82922a" stroke-width="5.3" stroke-linecap="round" stroke-linejoin="round"/>
<path d="M488.2,560.0C491.9,560.3 502.3,561.1 510.1,561.6C517.9,562.1 526.8,562.3 535.1,563.2C543.4,564.0 555.8,566.2 560.0,566.8" fill="none" stroke="#82922a" stroke-width="1.8" stroke-linecap="round" stroke-linejoin="round"/>
<path d="M549.2,572.2C549.6,574.6 551.0,581.3 551.5,586.3C552.1,591.3 552.2,599.3 552.3,601.9" fill="none" stroke="#82922a" stroke-width="1.2" stroke-linecap="round" stroke-linejoin="round"/>
<path d="M825.5,805.0C825.9,808.2 825.9,816.8 828.2,824.0C830.5,831.2 835.9,840.7 839.0,848.4C842.2,856.1 845.8,866.5 847.2,870.1" fill="none" stroke="#82922a" stroke-width="3.9" stroke-linecap="round" stroke-linejoin="round"/>
<path d="M416.3,981.9C418.2,980.4 421.3,975.6 427.5,972.5C433.8,969.5 444.7,965.8 453.8,963.5C462.9,961.3 472.6,960.2 481.9,959.0C491.3,957.9 502.3,956.7 510.1,956.8C517.9,956.9 525.7,959.3 528.8,959.8" fill="none" stroke="#82922a" stroke-width="5.0" stroke-linecap="round" stroke-linejoin="round"/>
<polygon points="637.3,1166.0 637.6,1160.0 634.3,1133.9 631.1,1105.7 628.6,1073.8 626.8,1047.6 621.7,1038.2 603.9,1021.3 587.0,1002.6 570.5,975.9 575.7,973.5 594.5,991.3 613.3,1010.1 633.0,1027.9 636.3,1003.0 638.3,990.0 638.0,975.5 634.8,957.8 628.6,939.0 619.2,921.3 607.7,904.6 592.1,890.0 573.4,873.4 579.1,865.0 602.5,884.8 623.4,904.6 632.2,917.1 630.7,898.4 628.6,876.5 629.4,860.8 628.6,850.4 629.1,835.8 641.3,835.8 641.6,860.8 640.6,881.7 642.7,902.5 647.3,919.2 650.5,929.1 654.6,924.4 665.1,902.5 677.6,879.6 688.0,884.8 678.6,902.5 670.3,923.4 664.0,939.0 658.8,954.6 656.2,970.3 655.2,990.0 654.5,1021.3 652.3,1058.8 650.4,1105.7 648.5,1160.0 648.3,1166.0" fill="#82922a"/>
<polygon points="637,1165 648.5,1165 647.5,1172 638,1172" fill="#c59a80"/>
<path d="M615.7,703.4C614.4,705.5 611.0,711.0 607.9,716.0C604.7,720.9 600.3,727.7 596.9,733.1C593.5,738.6 589.9,743.8 587.5,748.8C585.2,753.7 583.6,760.5 582.9,762.9" fill="none" stroke="#0a0a0a" stroke-width="6.0" stroke-linecap="round" stroke-linejoin="round"/>
<path d="M615.7,703.4C614.4,705.5 611.0,711.0 607.9,716.0C604.7,720.9 600.3,727.7 596.9,733.1C593.5,738.6 589.9,743.8 587.5,748.8C585.2,753.7 583.6,760.5 582.9,762.9" fill="none" stroke="#f4f8f8" stroke-width="2.6" stroke-linecap="round" stroke-linejoin="round"/>
<polygon points="529.7,498.8 536.6,494.9 550.6,494.1 560.0,494.9 570.9,495.6 588.1,503.4 605.3,514.4 614.7,523.8 621.0,533.1 611.6,532.4 599.1,533.1 586.6,531.6 579.5,528.5 585.0,521.4 577.2,519.1 569.4,513.6 561.6,510.5 560.0,503.4 547.5,501.9 531.9,501.6" fill="#1d8a55" stroke="#0a0a0a" stroke-width="2.2" stroke-linejoin="round"/>
<polygon points="625.7,510.5 633.5,516.0 637.4,525.3 633.5,537.8 624.1,533.1 622.5,522.2" fill="#1d8a55" stroke="#0a0a0a" stroke-width="2.2" stroke-linejoin="round"/>
<polygon points="652.2,516.7 660.0,528.5 664.7,541.0 661.6,558.2 655.4,565.2 642.9,558.2 649.1,548.8 651.4,533.1" fill="#25d087" stroke="#0a0a0a" stroke-width="2.2" stroke-linejoin="round"/>
<polygon points="563.9,538.6 574.1,541.7 580.3,551.9 579.5,561.3 570.9,566.0 563.9,558.2" fill="#93f96a" stroke="#0a0a0a" stroke-width="2.2" stroke-linejoin="round"/>
<polygon points="585.8,552.7 597.5,542.5 613.1,540.2 624.1,547.2 617.8,551.9 600.6,554.3" fill="#1d8a55" stroke="#0a0a0a" stroke-width="2.2" stroke-linejoin="round"/>
<polygon points="585.8,556.6 591.3,562.9 611.6,564.4 625.7,567.5 636.6,575.4 628.8,580.0 621.0,584.7 611.6,589.4 603.8,595.7 593.6,589.4 589.7,580.0 585.8,573.8" fill="#93f96a" stroke="#0a0a0a" stroke-width="2.2" stroke-linejoin="round"/>
<path d="M591.3,573.8C594.7,573.5 604.3,571.9 611.6,572.2C618.9,572.5 631.1,575.1 635.0,575.7" fill="none" stroke="#6ad050" stroke-width="1.1" stroke-linecap="round" stroke-linejoin="round"/>
<polygon points="584.2,617.6 588.9,598.8 592.0,593.3 602.2,605.1 600.6,612.9 592.8,619.1 585.0,622.3" fill="#25d087" stroke="#0a0a0a" stroke-width="2.2" stroke-linejoin="round"/>
<polygon points="400.7,625.4 398.3,616.0 400.7,601.9 410.1,589.4 414.8,580.0 425.7,572.2 439.8,564.4 444.5,556.6 457.0,552.7 472.6,552.7 483.5,558.2 487.5,564.4 482.0,575.4 475.7,583.2 467.9,589.4 457.0,589.4 444.5,597.2 439.8,605.1 432.0,611.3 422.6,608.2 410.1,614.4 403.8,622.3" fill="#25d087" stroke="#0a0a0a" stroke-width="2.2" stroke-linejoin="round"/>
<path d="M403.8,617.6C408.5,611.6 418.9,591.0 432.0,581.6C445.0,572.2 473.6,564.7 482.0,561.3" fill="none" stroke="#50605a" stroke-width="1.1" stroke-linecap="round" stroke-linejoin="round"/>
<polygon points="425.7,555.8 436.6,548.8 455.4,542.5 471.0,537.1 485.1,533.9 500.7,537.1 516.4,535.5 536.7,537.8 528.9,547.2 522.6,556.6 519.5,559.7 510.1,553.5 497.6,548.8 482.0,547.2 463.2,548.8 447.6,551.9 436.6,553.5 428.8,558.2" fill="#82922a" stroke="#0a0a0a" stroke-width="2.2" stroke-linejoin="round"/>
<path d="M500.7,537.8C503.9,541.0 516.4,553.5 519.5,556.6" fill="none" stroke="#50605a" stroke-width="1.1" stroke-linecap="round" stroke-linejoin="round"/>
<polygon points="485.1,637.9 478.9,617.6 477.3,601.9 475.7,589.4 482.0,576.9 489.8,566.0 503.9,562.9 522.6,562.9 535.1,565.2 541.4,573.8 539.8,583.2 530.4,592.6 524.2,603.5 517.9,611.3 507.0,617.6 497.6,626.9 491.4,634.8" fill="#82922a" stroke="#0a0a0a" stroke-width="2.2" stroke-linejoin="round"/>
<path d="M486.7,633.2C489.0,625.9 493.2,600.8 500.7,589.4C508.3,578.1 526.8,569.2 532.0,565.2" fill="none" stroke="#50605a" stroke-width="1.1" stroke-linecap="round" stroke-linejoin="round"/>
<polygon points="530.8,672.0 541.2,664.5 553.7,656.6 560.0,652.0 569.4,645.7 583.4,633.2 593.6,623.8 611.6,628.5 624.9,634.8 622.5,644.1 616.3,652.0 617.8,659.8 608.5,664.5 599.1,672.3 583.4,673.8 567.8,677.0 560.0,677.3 544.4,675.4" fill="#1d8a55" stroke="#0a0a0a" stroke-width="2.2" stroke-linejoin="round"/>
<path d="M536.6,670.7C544.4,668.1 569.4,660.8 583.4,655.1C597.5,649.4 614.7,639.4 621.0,636.3" fill="none" stroke="#50605a" stroke-width="1.1" stroke-linecap="round" stroke-linejoin="round"/>
<polygon points="696.0,558.2 716.3,552.7 728.8,555.0 742.9,564.4 747.6,573.8 746.0,583.2 736.6,587.9 725.7,589.4 716.3,597.2 705.4,603.5 697.6,605.1 692.9,609.7 685.1,600.4 683.5,594.1 689.7,580.0 692.9,570.7" fill="#1d8a55" stroke="#0a0a0a" stroke-width="2.2" stroke-linejoin="round"/>
<path d="M692.9,605.1C695.7,600.4 702.3,583.2 710.1,576.9C717.9,570.7 734.8,569.1 739.8,567.5" fill="none" stroke="#50605a" stroke-width="1.1" stroke-linecap="round" stroke-linejoin="round"/>
<ellipse cx="735.9" cy="560.5" rx="8" ry="3.5" transform="rotate(28 735.9 560.5)" fill="#82922a" stroke="#0a0a0a" stroke-width="1.5"/>
<polygon points="738.2,552.7 752.3,542.5 774.2,533.9 794.5,536.3 813.2,544.1 825.7,555.0 832.8,567.5 831.2,571.4 824.2,561.3 813.2,553.5 797.6,554.3 799.2,561.3 785.1,564.4 778.9,569.1 771.0,567.5 757.0,567.5 746.0,569.1 742.9,561.3" fill="#1d8a55" stroke="#0a0a0a" stroke-width="2.2" stroke-linejoin="round"/>
<path d="M747.6,564.4C751.5,561.3 760.6,548.3 771.0,545.7C781.5,543.1 803.6,548.3 810.1,548.8" fill="none" stroke="#50605a" stroke-width="1.1" stroke-linecap="round" stroke-linejoin="round"/>
<polygon points="764.8,583.2 778.9,576.9 791.4,575.4 803.9,578.5 815.6,582.4 800.7,587.9 785.1,592.6 772.6,591.0" fill="#1d8a55" stroke="#0a0a0a" stroke-width="2.2" stroke-linejoin="round"/>
<polygon points="674.9,589.4 680.4,587.9 683.5,597.2 678.8,598.8" fill="#82935e" stroke="#0a0a0a" stroke-width="1.8" stroke-linejoin="round"/>
<polygon points="699.1,655.1 706.9,637.9 716.3,625.4 721.0,609.7 732.0,605.1 744.5,600.4 753.8,595.7 761.7,603.5 763.2,614.4 758.5,620.7 747.6,625.4 739.8,633.2 730.4,636.3 722.6,642.6 710.1,650.4 700.7,658.2" fill="url(#gG1)" stroke="#0a0a0a" stroke-width="2.2" stroke-linejoin="round"/>
<path d="M700.7,655.1C705.4,648.8 719.4,626.2 728.8,617.6C738.2,609.0 752.3,605.8 757.0,603.5" fill="none" stroke="#50605a" stroke-width="1.1" stroke-linecap="round" stroke-linejoin="round"/>
<polygon points="777.3,620.7 791.4,625.4 799.2,630.1 800.7,637.9 810.1,644.1 808.6,648.8 802.3,650.4 807.0,659.8 803.9,667.6 799.2,670.7 802.3,678.5 794.5,681.7 791.4,691.0 775.7,698.9 766.3,709.8 756.7,720.0 752.3,694.2 747.6,683.2 752.3,673.8 755.4,661.3 746.0,659.8 736.6,658.2 742.9,650.4 747.6,639.4 749.2,630.1 761.7,623.0" fill="#25d087" stroke="#0a0a0a" stroke-width="2.2" stroke-linejoin="round"/>
<path d="M776.5,621.5C775.9,627.9 775.6,643.7 772.6,659.8C769.6,675.8 760.9,708.0 758.5,717.6" fill="none" stroke="#50605a" stroke-width="1.1" stroke-linecap="round" stroke-linejoin="round"/>
<polygon points="650.7,679.3 661.6,664.5 674.1,666.0 689.7,664.5 692.9,672.3 699.1,681.7 703.8,694.2 706.2,703.5 697.6,698.9 685.1,691.0 669.4,689.5 660.0,687.9" fill="#25d087" stroke="#0a0a0a" stroke-width="2.2" stroke-linejoin="round"/>
<path d="M653.8,680.1C658.5,679.8 673.6,675.1 681.9,678.5C690.3,681.9 700.2,696.8 703.8,700.4" fill="none" stroke="#50605a" stroke-width="1.1" stroke-linecap="round" stroke-linejoin="round"/>
<polygon points="599.1,679.3 611.6,673.8 625.7,673.8 633.5,680.1 639.7,684.8 627.2,689.5 611.6,684.8" fill="#25d087" stroke="#0a0a0a" stroke-width="2.2" stroke-linejoin="round"/>
<polygon points="553.1,708.9 565.7,698.8 578.2,693.3 596.9,690.2 612.6,688.6 609.4,697.2 606.3,706.6 603.2,716.0 593.8,711.3 582.9,706.6 567.2,707.4" fill="#25d087" stroke="#0a0a0a" stroke-width="2.2" stroke-linejoin="round"/>
<polygon points="581.3,695.6 592.2,698.8 601.6,708.1 604.7,719.1 596.9,716.0 587.5,708.1" fill="#1d8a55" stroke="#0a0a0a" stroke-width="2.2" stroke-linejoin="round"/>
<polygon points="620.4,706.6 629.7,700.3 640.7,689.4 650.1,692.5 646.9,700.3 659.4,700.3 664.1,705.0 661.0,711.3 676.6,719.1 678.2,725.3 684.5,733.1 689.2,741.0 687.6,747.2 693.8,761.3 696.2,776.9 693.8,787.9 689.2,780.0 682.9,767.5 675.1,759.7 668.8,751.9 659.4,742.5 650.1,728.5 645.4,734.7 637.6,725.3 628.2,717.5" fill="#25d087" stroke="#0a0a0a" stroke-width="2.2" stroke-linejoin="round"/>
<path d="M625.1,708.1C631.6,712.0 652.7,719.1 664.1,731.6C675.6,744.1 688.9,774.6 693.8,783.2" fill="none" stroke="#50605a" stroke-width="1.1" stroke-linecap="round" stroke-linejoin="round"/>
<polygon points="611.0,723.8 618.8,719.1 629.7,722.2 639.1,730.0 645.4,741.0 648.5,747.2 643.8,755.0 636.0,747.2 628.2,736.3 618.8,730.0" fill="#1d8a55" stroke="#0a0a0a" stroke-width="2.2" stroke-linejoin="round"/>
<path d="M615.7,723.0C618.8,724.7 629.5,728.6 634.4,733.1C639.4,737.7 643.6,747.5 645.4,750.3" fill="none" stroke="#50605a" stroke-width="1.1" stroke-linecap="round" stroke-linejoin="round"/>
<polygon points="506.3,783.2 507.8,772.2 515.6,758.2 526.6,745.7 531.3,733.1 550.0,728.5 553.1,719.1 567.2,720.6 575.0,715.2 584.4,720.6 593.8,731.6 590.7,742.5 581.3,750.3 575.0,752.7 562.5,751.9 551.6,758.2 543.8,761.3 536.0,759.7 528.1,767.5 515.6,776.9" fill="#82922a" stroke="#0a0a0a" stroke-width="2.2" stroke-linejoin="round"/>
<path d="M509.4,778.5C514.3,772.5 525.3,750.2 539.1,742.5C552.9,734.8 583.4,734.1 592.2,732.4" fill="none" stroke="#50605a" stroke-width="1.1" stroke-linecap="round" stroke-linejoin="round"/>
<polygon points="596.9,742.5 606.3,738.6 615.7,737.8 621.9,744.1 632.9,745.7 640.7,753.5 650.1,761.3 656.3,767.5 651.6,772.2 656.3,775.4 662.6,786.3 668.8,798.8 672.0,814.4 669.6,818.3 657.9,811.3 645.4,803.5 637.6,794.9 631.3,795.7 628.2,787.9 618.8,780.0 609.4,772.2 601.6,764.4 596.9,753.5" fill="#82922a" stroke="#0a0a0a" stroke-width="2.2" stroke-linejoin="round"/>
<path d="M600.0,744.1C605.5,749.0 621.3,762.1 632.9,773.8C644.5,785.5 663.5,807.7 669.6,814.4" fill="none" stroke="#50605a" stroke-width="1.1" stroke-linecap="round" stroke-linejoin="round"/>
<polygon points="553.1,898.9 545.3,883.2 539.1,867.6 533.6,855.1 532.8,836.3 536.0,817.6 531.3,809.7 515.6,803.5 525.0,792.6 536.0,781.6 540.6,770.7 551.6,762.9 565.7,758.9 576.6,761.3 584.4,767.5 596.9,772.2 607.9,781.6 614.1,792.6 617.2,805.1 617.2,811.3 609.4,812.9 606.3,817.6 609.4,830.1 607.9,836.3 593.8,833.2 589.1,839.4 586.0,852.0 584.4,861.3 576.6,866.0 571.9,875.4 565.7,887.9 557.8,897.3" fill="url(#gG2)" stroke="#0a0a0a" stroke-width="2.2" stroke-linejoin="round"/>
<path d="M581.3,767.5C580.2,771.7 578.4,783.7 575.0,792.6C571.6,801.4 564.1,810.8 561.0,820.7C557.8,830.6 557.4,839.2 556.3,852.0C555.1,864.7 554.3,889.7 553.9,897.3" fill="none" stroke="#4a6a58" stroke-width="1.1" stroke-linecap="round" stroke-linejoin="round"/>
<polygon points="686.8,826.9 689.2,817.6 686.0,812.9 690.7,801.9 703.2,789.4 718.9,783.2 740.7,778.5 759.5,774.6 750.1,783.2 740.7,789.4 734.5,798.8 726.7,800.4 731.4,805.1 722.0,808.2 709.5,812.9 709.5,820.7 701.7,825.4" fill="#82922a" stroke="#0a0a0a" stroke-width="2.2" stroke-linejoin="round"/>
<path d="M692.3,820.7C696.7,816.3 708.2,801.6 718.9,794.1C729.5,786.6 750.1,778.7 756.4,775.7" fill="none" stroke="#50605a" stroke-width="1.1" stroke-linecap="round" stroke-linejoin="round"/>
<polygon points="832.3,802.3 831.1,802.1 829.6,802.0 827.7,801.7 825.5,801.5 823.0,801.2 820.3,801.0 817.3,800.6 813.9,800.2 810.3,799.8 806.4,799.4 802.5,799.1 798.5,798.9 794.5,798.7 790.3,798.7 786.0,798.7 781.7,798.8 777.6,799.0 773.7,799.3 770.2,799.7 766.9,800.2 763.7,800.8 760.6,801.5 757.4,802.4 754.0,803.6 750.4,805.0 746.6,806.5 742.8,808.3 739.0,810.3 735.3,812.3 731.7,814.5 728.2,816.7 724.7,819.1 721.3,821.6 718.0,824.2 714.9,826.9 711.9,829.6 709.2,832.4 706.7,835.3 704.4,838.1 702.2,841.0 700.2,843.9 698.2,846.8 696.1,849.7 694.2,852.7 692.3,855.6 690.5,858.6 688.7,861.6 686.8,864.7 684.9,867.8 682.9,871.2 680.9,874.5 678.9,877.9 677.0,881.2 675.2,884.4 673.4,887.7 671.6,891.2 669.8,894.6 668.2,897.8 666.8,900.5 665.8,902.4 676.2,907.6 677.1,905.7 678.5,903.0 680.1,899.9 681.8,896.4 683.5,893.0 685.2,889.6 686.8,886.4 688.5,883.0 690.1,879.5 691.8,876.0 693.5,872.6 695.2,869.3 696.8,866.1 698.4,863.0 699.9,860.0 701.5,857.0 703.1,854.1 704.8,851.2 706.7,848.3 708.5,845.4 710.4,842.6 712.4,839.8 714.5,837.2 716.9,834.6 719.5,832.0 722.4,829.4 725.4,826.9 728.6,824.5 731.9,822.1 735.1,819.9 738.5,817.9 742.0,815.8 745.6,813.9 749.2,812.2 752.7,810.6 756.0,809.2 759.2,808.2 762.1,807.3 764.9,806.7 767.8,806.1 770.9,805.7 774.3,805.3 778.0,804.9 782.0,804.6 786.1,804.4 790.3,804.3 794.4,804.3 798.3,804.3 802.1,804.5 805.9,804.9 809.7,805.3 813.3,805.7 816.7,806.1 819.7,806.4 822.4,806.7 824.9,807.0 827.0,807.2 828.9,807.4 830.5,807.6 831.7,807.7" fill="#0a0a0a" stroke="#0a0a0a" stroke-width="4.4" stroke-linejoin="round"/>
<polygon points="832.3,802.3 831.1,802.1 829.6,802.0 827.7,801.7 825.5,801.5 823.0,801.2 820.3,801.0 817.3,800.6 813.9,800.2 810.3,799.8 806.4,799.4 802.5,799.1 798.5,798.9 794.5,798.7 790.3,798.7 786.0,798.7 781.7,798.8 777.6,799.0 773.7,799.3 770.2,799.7 766.9,800.2 763.7,800.8 760.6,801.5 757.4,802.4 754.0,803.6 750.4,805.0 746.6,806.5 742.8,808.3 739.0,810.3 735.3,812.3 731.7,814.5 728.2,816.7 724.7,819.1 721.3,821.6 718.0,824.2 714.9,826.9 711.9,829.6 709.2,832.4 706.7,835.3 704.4,838.1 702.2,841.0 700.2,843.9 698.2,846.8 696.1,849.7 694.2,852.7 692.3,855.6 690.5,858.6 688.7,861.6 686.8,864.7 684.9,867.8 682.9,871.2 680.9,874.5 678.9,877.9 677.0,881.2 675.2,884.4 673.4,887.7 671.6,891.2 669.8,894.6 668.2,897.8 666.8,900.5 665.8,902.4 676.2,907.6 677.1,905.7 678.5,903.0 680.1,899.9 681.8,896.4 683.5,893.0 685.2,889.6 686.8,886.4 688.5,883.0 690.1,879.5 691.8,876.0 693.5,872.6 695.2,869.3 696.8,866.1 698.4,863.0 699.9,860.0 701.5,857.0 703.1,854.1 704.8,851.2 706.7,848.3 708.5,845.4 710.4,842.6 712.4,839.8 714.5,837.2 716.9,834.6 719.5,832.0 722.4,829.4 725.4,826.9 728.6,824.5 731.9,822.1 735.1,819.9 738.5,817.9 742.0,815.8 745.6,813.9 749.2,812.2 752.7,810.6 756.0,809.2 759.2,808.2 762.1,807.3 764.9,806.7 767.8,806.1 770.9,805.7 774.3,805.3 778.0,804.9 782.0,804.6 786.1,804.4 790.3,804.3 794.4,804.3 798.3,804.3 802.1,804.5 805.9,804.9 809.7,805.3 813.3,805.7 816.7,806.1 819.7,806.4 822.4,806.7 824.9,807.0 827.0,807.2 828.9,807.4 830.5,807.6 831.7,807.7" fill="#82922a" stroke="#82922a" stroke-width="0.6"/>
<polygon points="654.6,924.4 665.1,902.5 677.6,879.6 688.0,884.8 678.6,902.5 670.3,923.4 664.0,939.0" fill="#82922a"/>
<polygon points="690.0,878.2 703.5,870.1 717.1,867.4 725.2,868.7 729.3,879.5 741.5,889.0 748.3,894.5 749.6,902.6 753.7,914.8 756.4,932.4 749.6,929.7 738.8,927.0 730.6,920.2 714.4,916.1 703.5,909.4 698.1,895.8 690.0,893.1 685.9,886.3" fill="#1d8a55" stroke="#0a0a0a" stroke-width="2.2" stroke-linejoin="round"/>
<path d="M706.3,872.8C709.2,877.7 716.6,893.1 723.9,902.6C731.1,912.1 745.3,925.2 749.6,929.7" fill="none" stroke="#50605a" stroke-width="1.1" stroke-linecap="round" stroke-linejoin="round"/>
<polygon points="779.4,787.4 788.9,780.6 787.5,772.5 798.4,769.8 801.1,761.7 811.9,757.6 821.4,742.7 825.5,754.9 832.3,765.7 830.9,775.2 836.3,780.6 830.9,794.2 820.1,796.9 811.9,799.6 805.2,802.3 798.4,796.9 787.5,794.2" fill="#82922a" stroke="#0a0a0a" stroke-width="2.2" stroke-linejoin="round"/>
<path d="M820.1,745.4C818.7,751.3 814.4,771.4 811.9,780.6C809.5,789.9 806.3,797.6 805.2,801.0" fill="none" stroke="#50605a" stroke-width="1.1" stroke-linecap="round" stroke-linejoin="round"/>
<polygon points="832.3,798.3 845.8,803.7 852.6,795.5 862.1,790.8 879.7,796.9 901.4,805.0 919.0,813.2 901.4,821.3 885.1,828.1 906.8,822.6 917.6,829.4 919.0,838.9 932.5,851.1 932.5,856.5 920.3,857.9 925.7,867.4 933.9,887.7 924.4,891.7 927.1,902.6 928.5,916.1 929.8,924.9 917.6,909.4 904.1,895.8 885.1,890.4 872.9,878.2 868.8,866.0 864.8,856.5 852.6,870.1 848.5,861.9 844.5,848.4 839.0,834.8 829.5,829.4 830.9,815.9" fill="url(#gG3)" stroke="#0a0a0a" stroke-width="2.2" stroke-linejoin="round"/>
<path d="M845.8,803.7C849.2,808.6 858.7,824.7 866.1,833.5C873.6,842.3 883.3,847.7 890.5,856.5C897.7,865.3 903.2,875.5 909.5,886.3C915.8,897.2 925.3,915.7 928.5,921.5" fill="none" stroke="#3a5a3a" stroke-width="1.1" stroke-linecap="round" stroke-linejoin="round"/>
<polygon points="790.3,819.9 798.4,813.2 809.2,811.8 814.6,824.0 818.7,834.8 817.4,845.7 813.3,860.6 805.2,851.1 797.0,843.0 790.3,832.1" fill="#82922a" stroke="#0a0a0a" stroke-width="2.2" stroke-linejoin="round"/>
<path d="M799.7,813.8C800.2,817.3 800.3,827.5 802.5,834.8C804.6,842.2 810.9,854.0 812.6,857.9" fill="none" stroke="#50605a" stroke-width="1.1" stroke-linecap="round" stroke-linejoin="round"/>
<polygon points="753.7,792.8 763.2,779.3 768.6,776.6 770.6,788.8 765.9,798.3 757.7,805.0" fill="#93f96a" stroke="#0a0a0a" stroke-width="2.2" stroke-linejoin="round"/>
<path d="M767.9,777.9C766.2,782.2 759.4,799.4 757.7,803.7" fill="none" stroke="#50b040" stroke-width="1.1" stroke-linecap="round" stroke-linejoin="round"/>
<polygon points="730.0,832.1 736.1,830.1 744.2,837.5 748.3,845.7 740.1,844.3 733.4,840.3" fill="#93f96a" stroke="#0a0a0a" stroke-width="2.2" stroke-linejoin="round"/>
<polygon points="793.0,848.4 798.4,861.9 802.5,870.1 811.9,875.5 818.7,886.3 824.1,899.9 828.2,913.4 829.5,920.2 824.1,916.1 820.1,908.0 821.4,921.5 816.0,916.1 814.6,928.3 809.2,924.3 802.5,913.4 798.4,921.5 795.7,909.4 794.3,889.0 791.6,868.7" fill="#82922a" stroke="#0a0a0a" stroke-width="2.2" stroke-linejoin="round"/>
<polygon points="803.8,899.9 806.5,894.5 811.9,902.6 814.6,925.6 810.6,921.5" fill="#ebb81e" stroke="#0a0a0a" stroke-width="1.6" stroke-linejoin="round"/>
<polygon points="839.0,852.5 847.2,870.1 856.6,868.7 864.8,875.5 872.9,889.0 878.3,905.3 878.3,916.1 872.9,909.4 870.2,916.1 864.8,902.6 860.7,909.4 852.6,899.9 845.8,882.3 840.4,870.1" fill="#82922a" stroke="#0a0a0a" stroke-width="2.2" stroke-linejoin="round"/>
<polygon points="848.5,883.6 852.6,886.3 858.0,902.6 853.9,899.9" fill="#ebb81e" stroke="#0a0a0a" stroke-width="1.6" stroke-linejoin="round"/>
<polygon points="860.7,891.7 864.8,893.1 870.2,910.7 866.1,908.0" fill="#ebb81e" stroke="#0a0a0a" stroke-width="1.6" stroke-linejoin="round"/>
<polygon points="525.1,953.8 523.2,944.4 515.7,936.9 521.3,925.6 534.5,918.1 547.6,914.4 562.6,918.1 584.2,922.8 575.7,929.4 562.6,936.9 555.1,944.4 545.7,949.1 532.6,951.9" fill="#879b40" stroke="#0a0a0a" stroke-width="2.2" stroke-linejoin="round"/>
<path d="M525.1,940.7C529.5,939.1 542.0,934.1 551.3,931.3C560.7,928.4 576.4,924.7 581.4,923.4" fill="none" stroke="#50605a" stroke-width="1.1" stroke-linecap="round" stroke-linejoin="round"/>
<polygon points="476.3,955.7 477.2,942.5 483.8,938.8 499.8,936.0 495.1,946.3 485.7,951.9" fill="#93f96a" stroke="#0a0a0a" stroke-width="2.2" stroke-linejoin="round"/>
<path d="M478.2,953.8C481.6,951.0 495.4,939.7 498.8,936.9" fill="none" stroke="#50b040" stroke-width="1.1" stroke-linecap="round" stroke-linejoin="round"/>
<polygon points="375.9,1035.4 382.5,1021.3 386.3,1010.1 393.8,1000.7 406.9,992.2 414.4,987.5 420.0,996.9 418.2,1008.2 408.8,1019.4 395.6,1028.8 384.4,1034.4" fill="#1d8a55" stroke="#0a0a0a" stroke-width="2.2" stroke-linejoin="round"/>
<path d="M378.8,1033.5C382.8,1029.0 397.2,1013.7 403.1,1006.3C409.1,999.0 412.5,992.2 414.4,989.4" fill="none" stroke="#50605a" stroke-width="1.1" stroke-linecap="round" stroke-linejoin="round"/>
<polygon points="382.5,1004.4 383.4,993.2 390.0,978.2 399.4,965.0 408.8,955.7 418.2,950.0 425.7,957.5 430.3,968.8 423.8,972.5 416.3,983.8 406.9,991.3 393.8,1000.7" fill="#82922a" stroke="#0a0a0a" stroke-width="2.2" stroke-linejoin="round"/>
<path d="M384.4,1002.6C387.5,997.9 396.0,980.7 403.1,974.4C410.3,968.2 423.5,966.6 427.5,965.0" fill="none" stroke="#50605a" stroke-width="1.1" stroke-linecap="round" stroke-linejoin="round"/>
<polygon points="489.4,1037.3 480.1,1034.4 465.1,1030.7 455.7,1021.3 444.4,1011.9 436.9,1000.7 435.0,991.3 429.4,981.9 431.3,972.5 438.8,966.9 450.0,962.2 459.4,954.7 468.8,963.2 476.3,974.4 481.9,983.8 483.8,995.1 489.4,1002.6 488.5,1013.8 491.3,1025.1" fill="#82922a" stroke="#0a0a0a" stroke-width="2.2" stroke-linejoin="round"/>
<path d="M444.4,966.9C447.2,972.2 454.0,987.4 461.3,998.8C468.6,1010.2 484.0,1029.3 488.5,1035.4" fill="none" stroke="#50605a" stroke-width="1.1" stroke-linecap="round" stroke-linejoin="round"/>
<polygon points="501.6,993.2 495.1,983.8 487.6,976.3 481.9,963.2 491.3,957.5 504.4,953.8 507.3,968.8 504.4,980.0" fill="#82922a" stroke="#0a0a0a" stroke-width="2.2" stroke-linejoin="round"/>
<path d="M492.3,958.5C493.7,963.9 499.3,985.8 500.7,991.3" fill="none" stroke="#50605a" stroke-width="1.1" stroke-linecap="round" stroke-linejoin="round"/>
<polygon points="600.1,1038.2 592.6,1030.7 575.7,1023.2 562.6,1021.3 551.3,1013.8 542.0,1015.7 536.3,1004.4 525.1,991.3 519.5,981.9 515.7,972.5 519.5,965.0 530.7,961.3 534.5,953.8 549.5,950.0 557.0,955.7 562.6,965.0 570.1,974.4 575.7,985.7 585.1,1002.6 594.5,1019.4" fill="url(#gG4)" stroke="#0a0a0a" stroke-width="2.2" stroke-linejoin="round"/>
<path d="M532.6,962.2C536.7,967.7 546.0,983.0 557.0,995.1C567.9,1007.1 591.4,1027.9 598.2,1034.4" fill="none" stroke="#3a5a3a" stroke-width="1.1" stroke-linecap="round" stroke-linejoin="round"/>
<polygon points="360.7,816.0 356.8,798.8 355.2,780.1 362.2,766.0 371.6,756.6 381.0,752.7 393.5,756.6 402.9,759.7 413.0,762.9 404.4,769.1 398.2,773.8 393.5,783.2 385.7,787.9 379.4,794.1 377.9,800.4 370.0,803.5 365.4,811.3" fill="#1d8a55" stroke="#0a0a0a" stroke-width="2.2" stroke-linejoin="round"/>
<path d="M362.2,802.0C363.5,797.3 362.5,780.3 370.0,773.8C377.6,767.3 401.3,764.7 407.6,762.9" fill="none" stroke="#50605a" stroke-width="1.1" stroke-linecap="round" stroke-linejoin="round"/>
<polygon points="316.9,780.1 306.0,784.8 293.4,794.1 280.9,806.6 274.7,819.2 270.8,831.7 279.4,827.0 280.9,837.9 287.2,831.7 293.4,822.3 302.8,814.5 312.2,806.6 316.9,795.7 319.2,783.2" fill="#82922a" stroke="#0a0a0a" stroke-width="2.2" stroke-linejoin="round"/>
<polygon points="282.5,831.7 290.3,811.3 292.7,814.5 285.6,834.8" fill="#ebb81e" stroke="#0a0a0a" stroke-width="1.5" stroke-linejoin="round"/>
<polygon points="293.4,822.3 301.3,805.1 304.1,806.6 296.6,825.4" fill="#ebb81e" stroke="#0a0a0a" stroke-width="1.5" stroke-linejoin="round"/>
<polygon points="355.2,798.8 346.6,808.2 334.1,817.6 324.7,830.1 318.5,845.7 321.6,848.9 327.8,841.0 329.4,852.0 337.2,837.9 343.5,855.9 349.7,855.9 349.7,839.5 354.4,833.2 357.5,817.6 356.8,802.0" fill="#82922a" stroke="#0a0a0a" stroke-width="2.2" stroke-linejoin="round"/>
<polygon points="331.7,848.1 340.3,825.4 345.8,827.3 343.5,839.5 338.8,848.9" fill="#ebb81e" stroke="#0a0a0a" stroke-width="1.5" stroke-linejoin="round"/>
<ellipse cx="553.0" cy="623.0" rx="24.0" ry="24.0" fill="#c94048" stroke="#0a0a0a" stroke-width="2.2"/>
<polygon points="519.5,597.2 532.0,594.9 539.8,587.9 541.4,580.0 546.1,589.4 553.9,583.2 560.0,580.0 563.3,589.4 571.1,587.9 578.9,592.6 571.1,601.9 580.5,609.7 566.4,606.6 557.0,605.1 550.8,612.9 547.6,605.1 535.1,603.5 525.7,603.5" fill="#82922a" stroke="#0a0a0a" stroke-width="2" stroke-linejoin="round"/>
<polygon points="549.2,605.1 553.1,605.8 549.2,617.6 545.8,620.7" fill="#82922a" stroke="#0a0a0a" stroke-width="1.8" stroke-linejoin="round"/>
<ellipse cx="685.0" cy="643.0" rx="19.5" ry="19.5" fill="#dc9a38" stroke="#0a0a0a" stroke-width="2.2"/>
<polygon points="669.4,598.8 683.5,606.6 688.2,598.8 692.9,608.2 706.9,605.1 697.6,614.4 710.1,625.4 697.6,622.3 688.2,620.7 678.8,625.4 680.4,617.6 660.0,622.3 653.8,612.9 675.7,612.9" fill="#82922a" stroke="#0a0a0a" stroke-width="2" stroke-linejoin="round"/>
<polygon points="680.4,625.4 683.5,626.2 678.8,636.3 676.0,634.8" fill="#82922a" stroke="#0a0a0a" stroke-width="1.6" stroke-linejoin="round"/>
<ellipse cx="686.3" cy="639.8" rx="1.8" ry="2.6" fill="#fff" stroke="#0a0a0a" stroke-width="1.2" transform="rotate(-20 686.3 639.8)"/>
<ellipse cx="697.3" cy="639.8" rx="1.8" ry="2.6" fill="#fff" stroke="#0a0a0a" stroke-width="1.2" transform="rotate(-20 697.3 639.8)"/>
<polygon points="699.1,655.1 706.9,637.9 716.3,625.4 721.0,609.7 732.0,605.1 744.5,600.4 753.8,595.7 761.7,603.5 763.2,614.4 758.5,620.7 747.6,625.4 739.8,633.2 730.4,636.3 722.6,642.6 710.1,650.4 700.7,658.2" fill="url(#gG1)" stroke="#0a0a0a" stroke-width="2.2" stroke-linejoin="round"/>
<path d="M700.7,655.1C705.4,648.8 719.4,626.2 728.8,617.6C738.2,609.0 752.3,605.8 757.0,603.5" fill="none" stroke="#50605a" stroke-width="1.1" stroke-linecap="round" stroke-linejoin="round"/>
<path d="M760.5,810.5C759.3,812.7 755.3,819.5 753.7,824.0C752.1,828.5 751.6,833.0 751.0,837.5C750.3,842.1 749.8,848.8 749.6,851.1" fill="none" stroke="#0a0a0a" stroke-width="5.9" stroke-linecap="round" stroke-linejoin="round"/>
<path d="M760.5,810.5C759.3,812.7 755.3,819.5 753.7,824.0C752.1,828.5 751.6,833.0 751.0,837.5C750.3,842.1 749.8,848.8 749.6,851.1" fill="none" stroke="#82922a" stroke-width="1.5" stroke-linecap="round" stroke-linejoin="round"/>
<path d="M765.9,813.2C767.0,815.0 770.8,820.6 772.6,824.0C774.5,827.4 776.0,831.9 776.7,833.5" fill="none" stroke="#0a0a0a" stroke-width="5.9" stroke-linecap="round" stroke-linejoin="round"/>
<path d="M765.9,813.2C767.0,815.0 770.8,820.6 772.6,824.0C774.5,827.4 776.0,831.9 776.7,833.5" fill="none" stroke="#82922a" stroke-width="1.5" stroke-linecap="round" stroke-linejoin="round"/>
<ellipse cx="772.0" cy="844.3" rx="17.0" ry="10.6" fill="#2fb52a" stroke="#0a0a0a" stroke-width="2.2"/>
<polygon points="757.7,833.5 765.9,834.8 768.6,829.4 774.0,833.5 782.1,826.7 780.8,834.8 787.5,837.5 778.1,838.9 771.3,843.0 769.9,837.5 763.2,837.5" fill="#4a7a1e" stroke="#0a0a0a" stroke-width="1.8" stroke-linejoin="round"/>
<ellipse cx="749.0" cy="870.0" rx="23.0" ry="13.6" fill="#c94048" stroke="#0a0a0a" stroke-width="2.2"/>
<polygon points="730.6,851.1 741.5,853.8 746.9,848.4 751.0,853.8 760.5,852.5 756.4,857.9 763.2,860.6 753.7,860.6 749.6,856.5 744.2,859.2 736.1,855.2" fill="#82922a" stroke="#0a0a0a" stroke-width="1.8" stroke-linejoin="round"/>
<ellipse cx="733.4" cy="870.7" rx="1.6" ry="2.4" fill="#fff" stroke="#0a0a0a" stroke-width="1.1"/>
<ellipse cx="744.9" cy="870.7" rx="1.6" ry="2.4" fill="#fff" stroke="#0a0a0a" stroke-width="1.1"/>
<line x1="745.3" y1="857.9" x2="744.3" y2="864.9" stroke="#0a0a0a" stroke-width="2"/>
<path d="M278.8,750.1C278.8,750.1 282.5,741.3 285.0,737.6C287.5,733.8 290.2,730.5 293.8,727.6C297.3,724.7 302.7,721.1 306.3,720.1C309.8,719.0 312.7,720.3 315.0,721.3C317.3,722.4 320.4,724.2 320.0,726.3C319.6,728.4 315.6,731.5 312.5,733.8C309.4,736.1 305.0,738.0 301.3,740.1C297.5,742.2 293.1,744.5 290.0,746.3C286.9,748.2 284.4,750.7 282.5,751.3C280.6,752.0 278.8,750.1 278.8,750.1Z" fill="#ebb81e" stroke="#0a0a0a" stroke-width="2.0" stroke-linejoin="round"/>
<path d="M328.8,735.1C328.8,735.1 336.1,731.9 340.0,731.3C344.0,730.7 348.6,731.1 352.5,731.3C356.5,731.5 363.8,732.6 363.8,732.6C363.8,732.6 357.8,734.7 357.5,736.3C357.3,738.0 362.5,742.6 362.5,742.6C362.5,742.6 355.5,740.7 351.3,740.1C347.1,739.4 341.3,739.7 337.5,738.8C333.8,738.0 328.8,735.1 328.8,735.1Z" fill="#ebb81e" stroke="#0a0a0a" stroke-width="2.0" stroke-linejoin="round"/>
<path d="M322.5,727.6C322.5,727.6 334.2,730.5 340.0,730.1C345.9,729.7 353.4,727.4 357.5,725.1C361.7,722.8 365.0,716.3 365.0,716.3C365.0,716.3 365.7,724.7 363.2,727.6C360.7,730.5 355.1,732.8 350.0,733.8C344.9,734.9 337.1,734.9 332.5,733.8C327.9,732.8 322.5,727.6 322.5,727.6Z" fill="#ebb81e" stroke="#0a0a0a" stroke-width="2.0" stroke-linejoin="round"/>
<path d="M301.3,681.9C301.3,681.9 304.0,681.2 305.0,682.5C306.1,683.9 307.5,690.1 307.5,690.1C307.5,690.1 313.8,684.6 317.5,682.5C321.3,680.5 325.7,678.6 330.0,677.5C334.4,676.5 341.1,675.9 343.8,676.3C346.5,676.7 346.3,680.0 346.3,680.0C346.3,680.0 338.6,686.1 335.0,688.8C331.5,691.5 328.4,693.6 325.0,696.3C321.7,699.0 317.9,703.2 315.0,705.1C312.1,706.9 309.4,708.0 307.5,707.6C305.6,707.1 304.6,704.6 303.8,702.6C302.9,700.5 302.4,697.3 302.5,695.1C302.6,692.8 304.6,691.0 304.4,688.8C304.2,686.6 301.3,681.9 301.3,681.9Z" fill="#ebb81e" stroke="#0a0a0a" stroke-width="2.0" stroke-linejoin="round"/>
<path d="M312.5,715.1C313.1,712.8 314.8,709.0 317.5,706.3C320.2,703.6 324.6,700.9 328.8,698.8C332.9,696.7 337.7,695.3 342.5,693.8C347.3,692.3 353.8,690.1 357.5,690.1C361.3,690.1 363.6,691.7 365.0,693.8C366.5,695.9 366.7,699.4 366.3,702.6C365.9,705.7 364.4,709.4 362.5,712.6C360.7,715.7 358.2,718.8 355.0,721.3C351.9,723.8 348.0,726.3 343.8,727.6C339.6,728.8 334.0,729.2 330.0,728.8C326.1,728.4 322.7,726.5 320.0,725.1C317.3,723.6 315.0,721.7 313.8,720.1C312.5,718.4 311.9,717.4 312.5,715.1Z" fill="#ebb81e" stroke="#0a0a0a" stroke-width="2.0" stroke-linejoin="round"/>
<path d="M286.3,746.3C288.1,744.2 293.3,737.6 297.5,733.8C301.7,730.1 309.0,725.5 311.3,723.8" fill="none" stroke="#0a0a0a" stroke-width="1.7" stroke-linecap="round" stroke-linejoin="round"/>
<path d="M291.3,747.6C293.3,745.9 299.4,741.1 303.8,737.6C308.1,734.0 315.2,728.2 317.5,726.3" fill="none" stroke="#0a0a0a" stroke-width="1.7" stroke-linecap="round" stroke-linejoin="round"/>
<path d="M282.5,745.1C284.2,743.0 288.8,736.3 292.5,732.6C296.3,728.8 302.9,724.2 305.0,722.6" fill="none" stroke="#0a0a0a" stroke-width="1.7" stroke-linecap="round" stroke-linejoin="round"/>
<path d="M307.5,702.6C309.4,700.5 314.2,693.8 318.8,690.1C323.4,686.3 332.3,681.7 335.0,680.0" fill="none" stroke="#0a0a0a" stroke-width="1.7" stroke-linecap="round" stroke-linejoin="round"/>
<path d="M311.3,706.3C313.6,704.0 319.8,696.9 325.0,692.6C330.2,688.2 339.6,682.1 342.5,680.0" fill="none" stroke="#0a0a0a" stroke-width="1.7" stroke-linecap="round" stroke-linejoin="round"/>
<path d="M305.0,697.6C306.5,695.9 310.0,690.7 313.8,687.5C317.5,684.4 325.2,680.3 327.5,678.8" fill="none" stroke="#0a0a0a" stroke-width="1.7" stroke-linecap="round" stroke-linejoin="round"/>
<path d="M316.3,710.1C319.0,708.4 326.1,703.2 332.5,700.1C339.0,696.9 351.3,692.8 355.0,691.3" fill="none" stroke="#0a0a0a" stroke-width="1.7" stroke-linecap="round" stroke-linejoin="round"/>
<path d="M320.0,722.6C323.4,721.1 332.9,718.0 340.0,713.8C347.1,709.6 358.8,700.3 362.5,697.6" fill="none" stroke="#0a0a0a" stroke-width="1.7" stroke-linecap="round" stroke-linejoin="round"/>
<path d="M330.0,727.6C332.9,726.3 341.7,723.8 347.5,720.1C353.4,716.3 362.1,707.6 365.0,705.1" fill="none" stroke="#0a0a0a" stroke-width="1.7" stroke-linecap="round" stroke-linejoin="round"/>
<path d="M355.0,693.8C354.2,696.1 352.5,702.1 350.0,707.6C347.5,713.0 341.7,723.2 340.0,726.3" fill="none" stroke="#0a0a0a" stroke-width="1.7" stroke-linecap="round" stroke-linejoin="round"/>
<path d="M382.6,698.8C385.1,698.8 390.5,700.9 395.1,702.6C399.6,704.2 405.1,707.4 410.1,708.8C415.1,710.3 425.1,711.3 425.1,711.3C425.1,711.3 423.4,714.4 420.1,715.1C416.7,715.7 410.1,715.9 405.1,715.1C400.1,714.2 394.2,712.1 390.1,710.1C385.9,708.0 381.3,704.4 380.1,702.6C378.8,700.7 380.1,698.8 382.6,698.8Z" fill="#ebb81e" stroke="#0a0a0a" stroke-width="2.0" stroke-linejoin="round"/>
<path d="M365.0,688.8C367.1,686.3 376.3,683.4 382.6,681.3C388.8,679.2 394.6,677.1 402.6,676.3C410.5,675.5 430.1,676.3 430.1,676.3C430.1,676.3 428.8,680.7 425.1,682.5C421.3,684.4 413.4,685.9 407.6,687.5C401.7,689.2 395.1,690.9 390.1,692.6C385.1,694.2 380.9,696.9 377.6,697.6C374.2,698.2 372.1,697.8 370.1,696.3C368.0,694.8 363.0,691.3 365.0,688.8Z" fill="#ebb81e" stroke="#0a0a0a" stroke-width="2.0" stroke-linejoin="round"/>
<path d="M347.5,670.0C347.0,668.0 348.4,664.0 350.0,660.0C351.7,656.1 354.4,651.1 357.5,646.3C360.7,641.5 365.3,635.6 368.8,631.3C372.3,626.9 376.1,622.9 378.8,620.0C381.5,617.1 385.1,613.8 385.1,613.8C385.1,613.8 384.4,621.1 383.2,625.0C381.9,629.0 379.7,633.6 377.6,637.5C375.4,641.5 372.6,645.4 370.1,648.8C367.5,652.1 364.8,654.8 362.5,657.5C360.3,660.2 357.9,662.5 356.3,665.0C354.7,667.5 354.6,671.7 353.2,672.5C351.7,673.4 348.1,672.1 347.5,670.0Z" fill="#ebb81e" stroke="#0a0a0a" stroke-width="2.0" stroke-linejoin="round"/>
<path d="M356.3,665.0C357.5,662.1 361.7,657.7 365.0,655.0C368.4,652.3 372.6,651.3 376.3,648.8C380.1,646.3 384.3,643.8 387.6,640.0C390.8,636.3 395.7,626.3 395.7,626.3C395.7,626.3 394.5,635.6 393.2,640.0C391.8,644.4 390.2,649.2 387.6,652.5C385.0,655.9 381.3,657.7 377.6,660.0C373.8,662.3 368.4,664.2 365.0,666.3C361.7,668.4 359.0,672.7 357.5,672.5C356.1,672.3 355.0,668.0 356.3,665.0Z" fill="#ebb81e" stroke="#0a0a0a" stroke-width="2.0" stroke-linejoin="round"/>
<path d="M357.5,675.0C358.8,671.5 365.0,667.5 370.1,665.0C375.1,662.5 381.7,661.7 387.6,660.0C393.4,658.4 399.8,656.9 405.1,655.0C410.4,653.2 419.4,648.8 419.4,648.8C419.4,648.8 414.8,656.5 411.3,660.0C407.9,663.6 403.6,667.3 398.8,670.0C394.0,672.7 387.4,674.2 382.6,676.3C377.8,678.4 373.4,680.9 370.1,682.5C366.7,684.2 364.6,687.5 362.5,686.3C360.5,685.0 356.3,678.6 357.5,675.0Z" fill="#ebb81e" stroke="#0a0a0a" stroke-width="2.0" stroke-linejoin="round"/>
<path d="M347.5,670.0C349.0,668.8 354.6,671.3 357.5,673.8C360.5,676.3 363.4,681.7 365.0,685.0C366.7,688.4 368.8,693.0 367.5,693.8C366.3,694.6 360.7,692.1 357.5,690.1C354.4,688.0 350.5,684.6 348.8,681.3C347.1,678.0 346.1,671.3 347.5,670.0Z" fill="#ebb81e" stroke="#0a0a0a" stroke-width="2.0" stroke-linejoin="round"/>
<path d="M355.0,670.0C356.7,668.4 360.5,663.6 365.0,660.0C369.6,656.5 379.6,650.7 382.6,648.8" fill="none" stroke="#0a0a0a" stroke-width="1.7" stroke-linecap="round" stroke-linejoin="round"/>
<path d="M360.0,677.5C363.0,676.1 370.5,671.7 377.6,668.8C384.6,665.9 398.4,661.5 402.6,660.0" fill="none" stroke="#0a0a0a" stroke-width="1.7" stroke-linecap="round" stroke-linejoin="round"/>
<path d="M365.0,687.5C368.0,686.7 375.5,683.8 382.6,682.5C389.6,681.3 403.4,680.5 407.6,680.0" fill="none" stroke="#0a0a0a" stroke-width="1.7" stroke-linecap="round" stroke-linejoin="round"/>
<path d="M402.6,736.3C402.6,736.3 410.9,732.6 416.3,731.3C421.7,730.1 428.2,729.4 435.1,728.8C442.0,728.2 454.1,726.1 457.6,727.6C461.1,729.0 459.5,735.7 456.3,737.6C453.2,739.4 445.1,738.4 438.8,738.8C432.6,739.2 424.2,740.0 418.8,740.1C413.4,740.2 409.0,740.1 406.3,739.4C403.6,738.8 402.6,736.3 402.6,736.3Z" fill="#ebb81e" stroke="#0a0a0a" stroke-width="2.0" stroke-linejoin="round"/>
<path d="M440.7,666.3C440.7,666.3 442.1,672.3 441.3,675.0C440.6,677.8 436.8,679.4 436.3,682.5C435.9,685.7 437.4,689.8 438.8,693.8C440.3,697.8 442.4,702.1 445.1,706.3C447.8,710.5 452.8,715.3 455.1,718.8C457.4,722.4 460.9,725.7 458.8,727.6C456.8,729.4 446.8,731.1 442.6,730.1C438.4,729.0 435.9,724.9 433.8,721.3C431.7,717.8 431.0,713.0 430.1,708.8C429.1,704.6 427.8,700.7 428.2,696.3C428.6,691.9 430.5,687.5 432.6,682.5C434.7,677.5 440.7,666.3 440.7,666.3Z" fill="#ebb81e" stroke="#0a0a0a" stroke-width="2.0" stroke-linejoin="round"/>
<path d="M502.0,655.0C502.0,655.0 504.4,659.2 504.5,663.8C504.6,668.4 503.3,676.5 502.6,682.5C501.9,688.6 499.2,695.9 500.1,700.1C501.1,704.2 508.2,707.6 508.2,707.6C508.2,707.6 503.3,715.7 500.1,718.8C496.9,721.9 492.0,724.2 488.9,726.3C485.7,728.4 483.2,732.2 481.4,731.3C479.5,730.5 477.4,725.5 477.6,721.3C477.8,717.1 480.7,710.9 482.6,706.3C484.5,701.7 487.2,698.6 488.9,693.8C490.5,689.0 491.4,682.3 492.6,677.5C493.9,672.7 494.8,668.8 496.4,665.0C497.9,661.3 502.0,655.0 502.0,655.0Z" fill="#ebb81e" stroke="#0a0a0a" stroke-width="2.0" stroke-linejoin="round"/>
<path d="M457.0,650.0C457.0,650.0 458.7,658.0 460.1,662.5C461.4,667.1 461.8,671.3 465.1,677.5C468.4,683.8 480.1,700.1 480.1,700.1C480.1,700.1 477.6,713.0 475.1,716.3C472.6,719.6 468.0,720.3 465.1,720.1C462.2,719.9 460.5,718.4 457.6,715.1C454.7,711.7 447.6,700.1 447.6,700.1C447.6,700.1 449.0,690.5 450.1,685.0C451.1,679.6 452.7,673.4 453.8,667.5C455.0,661.7 457.0,650.0 457.0,650.0Z" fill="#ebb81e" stroke="#0a0a0a" stroke-width="2.0" stroke-linejoin="round"/>
<path d="M458.8,727.6C459.6,724.2 461.8,721.5 463.8,720.1C465.9,718.6 468.6,718.4 471.4,718.8C474.1,719.2 478.4,720.3 480.1,722.6C481.8,724.9 482.0,728.6 481.4,732.6C480.7,736.5 478.2,741.5 476.4,746.3C474.5,751.1 472.0,757.7 470.1,761.3C468.2,765.0 465.1,768.2 465.1,768.2C465.1,768.2 462.9,761.0 462.0,756.3C461.0,751.6 460.0,744.9 459.5,740.1C458.9,735.3 458.1,730.9 458.8,727.6Z" fill="#ebb81e" stroke="#0a0a0a" stroke-width="2.0" stroke-linejoin="round"/>
<path d="M466.3,722.6C466.3,725.9 466.5,735.5 466.3,742.6C466.2,749.7 465.8,761.3 465.7,765.1" fill="none" stroke="#0a0a0a" stroke-width="1.7" stroke-linecap="round" stroke-linejoin="round"/>
<path d="M472.6,721.3C472.6,724.4 473.3,733.2 472.6,740.1C471.9,747.0 469.0,758.8 468.2,762.6" fill="none" stroke="#0a0a0a" stroke-width="1.7" stroke-linecap="round" stroke-linejoin="round"/>
<path d="M485.1,722.6C486.6,719.6 491.4,711.3 493.9,705.1C496.4,698.8 499.1,688.4 500.1,685.0" fill="none" stroke="#0a0a0a" stroke-width="1.7" stroke-linecap="round" stroke-linejoin="round"/>
<path d="M487.6,726.3C489.5,724.0 495.9,715.9 498.9,712.6C501.8,709.2 504.1,707.4 505.1,706.3" fill="none" stroke="#0a0a0a" stroke-width="1.7" stroke-linecap="round" stroke-linejoin="round"/>
<path d="M432.6,702.6C434.2,705.1 438.8,713.6 442.6,717.6C446.3,721.5 453.0,724.9 455.1,726.3" fill="none" stroke="#0a0a0a" stroke-width="1.7" stroke-linecap="round" stroke-linejoin="round"/>
<path d="M431.3,715.1C432.6,716.7 435.1,723.0 438.8,725.1C442.6,727.2 451.3,727.2 453.8,727.6" fill="none" stroke="#0a0a0a" stroke-width="1.7" stroke-linecap="round" stroke-linejoin="round"/>
</g>
<g id="middle">
<defs>
<filter id="b2" x="-20%" y="-20%" width="140%" height="140%"><feGaussianBlur stdDeviation="2"/></filter>
<filter id="b4" x="-20%" y="-20%" width="140%" height="140%"><feGaussianBlur stdDeviation="4"/></filter>
<filter id="b8" x="-30%" y="-30%" width="160%" height="160%"><feGaussianBlur stdDeviation="8"/></filter>
<radialGradient id="tg1" cx="0.5" cy="0.5" r="0.5">
<stop offset="0" stop-color="#f7c3b6"/><stop offset="0.55" stop-color="#f59f90"/><stop offset="0.85" stop-color="#f28172"/><stop offset="0.95" stop-color="#ee6356"/><stop offset="1" stop-color="#ec554a"/>
</radialGradient>
<clipPath id="tc1"><ellipse cx="1176" cy="433" rx="137" ry="127.5"/></clipPath>
</defs>
<defs>
<filter id="jag" x="-10%" y="-10%" width="120%" height="120%"><feTurbulence type="fractalNoise" baseFrequency="0.09" numOctaves="2" seed="4" result="n"/><feDisplacementMap in="SourceGraphic" in2="n" scale="9" xChannelSelector="R" yChannelSelector="G"/><feGaussianBlur stdDeviation="0.8"/></filter>
<filter id="jag2" x="-10%" y="-10%" width="120%" height="120%"><feTurbulence type="fractalNoise" baseFrequency="0.06" numOctaves="2" seed="9" result="n"/><feDisplacementMap in="SourceGraphic" in2="n" scale="12" xChannelSelector="R" yChannelSelector="G"/><feGaussianBlur stdDeviation="2.5"/></filter>
<filter id="edge" x="-5%" y="-5%" width="110%" height="110%"><feTurbulence type="fractalNoise" baseFrequency="0.05" numOctaves="2" seed="2" result="n"/><feDisplacementMap in="SourceGraphic" in2="n" scale="3" xChannelSelector="R" yChannelSelector="G"/></filter>
</defs>
<g filter="url(#edge)">
<path d="M1311.7,433.4C1311.7,440.8 1311.0,448.3 1309.7,455.5C1308.3,462.8 1306.2,470.0 1303.5,476.9C1300.8,483.8 1297.4,490.6 1293.4,497.0C1289.5,503.4 1284.8,509.5 1279.7,515.2C1274.7,520.8 1269.0,526.1 1262.9,530.8C1256.8,535.6 1250.2,539.9 1243.4,543.6C1236.5,547.2 1229.2,550.4 1221.8,552.9C1214.3,555.4 1206.5,557.4 1198.7,558.7C1190.9,559.9 1182.9,560.6 1175.0,560.6C1167.1,560.6 1159.0,559.9 1151.3,558.7C1143.5,557.4 1135.5,555.7 1128.2,552.9C1121.0,550.1 1114.3,545.8 1107.7,541.9C1101.0,538.0 1094.4,534.0 1088.4,529.4C1082.4,524.7 1076.8,519.5 1071.8,513.9C1066.8,508.4 1062.6,502.2 1058.4,496.1C1054.1,489.9 1049.5,483.7 1046.5,476.9C1043.5,470.2 1041.7,462.8 1040.3,455.5C1039.0,448.3 1038.3,440.8 1038.3,433.4C1038.3,426.1 1039.0,418.6 1040.3,411.3C1041.7,404.1 1043.8,396.8 1046.5,389.9C1049.2,383.0 1052.6,376.2 1056.6,369.8C1060.5,363.5 1065.2,357.3 1070.2,351.7C1075.3,346.0 1081.0,340.7 1087.1,336.0C1093.2,331.3 1099.8,327.0 1106.6,323.3C1113.5,319.6 1120.8,316.4 1128.2,313.9C1135.7,311.4 1143.5,309.4 1151.3,308.2C1159.0,306.9 1167.1,306.2 1175.0,306.2C1182.9,306.2 1190.9,306.9 1198.7,308.2C1206.5,309.4 1214.4,311.2 1221.8,313.9C1229.1,316.6 1236.0,320.5 1242.7,324.4C1249.4,328.2 1256.0,332.3 1262.0,337.0C1268.0,341.7 1273.7,346.9 1278.7,352.5C1283.7,358.1 1288.1,364.2 1292.2,370.5C1296.4,376.7 1300.6,383.1 1303.5,389.9C1306.4,396.7 1308.3,404.1 1309.7,411.3C1311.0,418.6 1311.7,426.1 1311.7,433.4Z" fill="url(#tg1)" />
</g>
<g clip-path="url(#tc1)">
<circle cx="1183.4" cy="537.2" r="4.1" fill="#f9b9a6" opacity="0.55" filter="url(#b2)"/>
<circle cx="1084.6" cy="369.1" r="3.2" fill="#f9b9a6" opacity="0.55" filter="url(#b2)"/>
<circle cx="1293.7" cy="442.6" r="3.8" fill="#f9b9a6" opacity="0.55" filter="url(#b2)"/>
<circle cx="1187.1" cy="547.2" r="4.4" fill="#f9b9a6" opacity="0.55" filter="url(#b2)"/>
<circle cx="1232.0" cy="345.7" r="4.9" fill="#f9b9a6" opacity="0.55" filter="url(#b2)"/>
<circle cx="1241.7" cy="519.5" r="5.6" fill="#f9b9a6" opacity="0.55" filter="url(#b2)"/>
<circle cx="1059.5" cy="417.7" r="5.0" fill="#f9b9a6" opacity="0.55" filter="url(#b2)"/>
<circle cx="1282.8" cy="476.1" r="4.8" fill="#f9b9a6" opacity="0.55" filter="url(#b2)"/>
<circle cx="1143.6" cy="521.0" r="5.6" fill="#f9b9a6" opacity="0.55" filter="url(#b2)"/>
<circle cx="1060.5" cy="451.8" r="5.6" fill="#f9b9a6" opacity="0.55" filter="url(#b2)"/>
<circle cx="1147.9" cy="323.6" r="4.2" fill="#f9b9a6" opacity="0.55" filter="url(#b2)"/>
<circle cx="1209.4" cy="336.8" r="5.8" fill="#f9b9a6" opacity="0.55" filter="url(#b2)"/>
<circle cx="1248.0" cy="368.7" r="3.4" fill="#f9b9a6" opacity="0.55" filter="url(#b2)"/>
<circle cx="1200.2" cy="544.7" r="4.3" fill="#f9b9a6" opacity="0.55" filter="url(#b2)"/>
<circle cx="1100.9" cy="363.1" r="4.5" fill="#f9b9a6" opacity="0.55" filter="url(#b2)"/>
<circle cx="1094.3" cy="498.9" r="4.8" fill="#f9b9a6" opacity="0.55" filter="url(#b2)"/>
<circle cx="1070.8" cy="376.7" r="5.0" fill="#f9b9a6" opacity="0.55" filter="url(#b2)"/>
<circle cx="1282.8" cy="385.4" r="6.0" fill="#f9b9a6" opacity="0.55" filter="url(#b2)"/>
<circle cx="1126.4" cy="349.5" r="5.6" fill="#f9b9a6" opacity="0.55" filter="url(#b2)"/>
<circle cx="1292.8" cy="408.7" r="4.7" fill="#f9b9a6" opacity="0.55" filter="url(#b2)"/>
<circle cx="1151.6" cy="339.5" r="5.5" fill="#f9b9a6" opacity="0.55" filter="url(#b2)"/>
<circle cx="1080.6" cy="389.7" r="3.2" fill="#f9b9a6" opacity="0.55" filter="url(#b2)"/>
<circle cx="1249.6" cy="342.7" r="3.3" fill="#f9b9a6" opacity="0.55" filter="url(#b2)"/>
<circle cx="1208.9" cy="337.5" r="3.5" fill="#f9b9a6" opacity="0.55" filter="url(#b2)"/>
<circle cx="1143.0" cy="538.5" r="5.6" fill="#f9b9a6" opacity="0.55" filter="url(#b2)"/>
<circle cx="1284.2" cy="462.4" r="3.1" fill="#f9b9a6" opacity="0.55" filter="url(#b2)"/>
<circle cx="1154.0" cy="336.2" r="5.6" fill="#f9b9a6" opacity="0.55" filter="url(#b2)"/>
<circle cx="1285.1" cy="420.9" r="6.0" fill="#f9b9a6" opacity="0.55" filter="url(#b2)"/>
<circle cx="1138.2" cy="520.3" r="4.8" fill="#f9b9a6" opacity="0.55" filter="url(#b2)"/>
<circle cx="1276.3" cy="452.2" r="4.2" fill="#f9b9a6" opacity="0.55" filter="url(#b2)"/>
<circle cx="1096.4" cy="372.6" r="3.1" fill="#f9b9a6" opacity="0.55" filter="url(#b2)"/>
<circle cx="1246.6" cy="360.5" r="5.9" fill="#f9b9a6" opacity="0.55" filter="url(#b2)"/>
<circle cx="1260.8" cy="372.8" r="4.4" fill="#f9b9a6" opacity="0.55" filter="url(#b2)"/>
<circle cx="1061.6" cy="420.0" r="4.8" fill="#f9b9a6" opacity="0.55" filter="url(#b2)"/>
<circle cx="1069.1" cy="394.9" r="5.8" fill="#f9b9a6" opacity="0.55" filter="url(#b2)"/>
<circle cx="1066.0" cy="428.9" r="5.2" fill="#f9b9a6" opacity="0.55" filter="url(#b2)"/>
<circle cx="1183.2" cy="531.6" r="5.9" fill="#f9b9a6" opacity="0.55" filter="url(#b2)"/>
<circle cx="1064.0" cy="419.6" r="3.0" fill="#f9b9a6" opacity="0.55" filter="url(#b2)"/>
<circle cx="1077.9" cy="486.7" r="3.1" fill="#f9b9a6" opacity="0.55" filter="url(#b2)"/>
<circle cx="1089.9" cy="362.9" r="3.2" fill="#f9b9a6" opacity="0.55" filter="url(#b2)"/>
<g filter="url(#jag)">
<path d="M1124.5,351.2C1116.7,351.2 1107.8,358.9 1100.1,364.5C1092.3,370.1 1082.1,376.3 1077.8,384.5C1073.6,392.7 1074.1,402.7 1074.5,413.4C1074.9,424.2 1076.5,438.6 1080.1,449.0C1083.6,459.4 1090.1,469.4 1095.6,475.7C1101.2,482.0 1107.1,489.0 1113.4,486.8C1119.7,484.6 1133.4,467.9 1133.4,462.3C1133.4,456.8 1118.2,457.9 1113.4,453.4C1108.6,449.0 1106.0,442.3 1104.5,435.6C1103.0,429.0 1102.3,420.8 1104.5,413.4C1106.7,406.0 1111.9,396.0 1117.9,391.2C1123.8,386.4 1135.3,388.9 1140.1,384.5C1144.9,380.1 1149.4,370.1 1146.8,364.5C1144.2,358.9 1132.3,351.2 1124.5,351.2Z" fill="#f24d39" />
<path d="M1191.2,338.9C1197.5,335.8 1213.5,338.7 1224.6,343.4C1235.7,348.0 1249.4,356.2 1257.9,366.7C1266.5,377.3 1274.6,398.6 1275.7,406.7C1276.8,414.9 1273.9,413.6 1264.6,415.6C1255.3,417.7 1224.6,421.6 1220.1,419.0C1215.7,416.4 1237.2,406.9 1237.9,400.1C1238.7,393.2 1230.5,382.3 1224.6,377.8C1218.7,373.4 1208.6,370.4 1202.3,373.4C1196.0,376.3 1190.9,393.4 1186.8,395.6C1182.7,397.8 1177.9,392.3 1177.9,386.7C1177.9,381.2 1184.6,370.2 1186.8,362.3C1189.0,354.3 1184.9,342.1 1191.2,338.9Z" fill="#f24d39" />
<path d="M1231.3,450.1C1235.9,448.1 1268.5,447.3 1274.6,452.3C1280.7,457.3 1270.7,471.2 1267.9,480.1C1265.2,489.0 1265.5,500.1 1257.9,505.7C1250.3,511.2 1232.4,510.1 1222.4,513.5C1212.4,516.8 1207.2,524.8 1197.9,525.7C1188.6,526.6 1171.6,527.7 1166.8,519.0C1162.0,510.3 1166.8,478.8 1169.0,473.4C1171.2,468.1 1176.0,483.4 1180.1,486.8C1184.2,490.1 1186.4,494.9 1193.5,493.5C1200.5,492.0 1213.5,482.7 1222.4,477.9C1231.3,473.1 1245.3,469.2 1246.8,464.5C1248.3,459.9 1226.6,452.1 1231.3,450.1Z" fill="#f24d39" />
</g>
<g filter="url(#jag)">
<circle cx="1135.6" cy="375.6" r="9.3" fill="#f58c98"/>
<circle cx="1109.0" cy="404.5" r="8.4" fill="#f58c98"/>
<circle cx="1097.8" cy="435.6" r="8.0" fill="#f58c98"/>
<circle cx="1106.7" cy="457.9" r="7.1" fill="#f58c98"/>
<circle cx="1217.9" cy="357.8" r="8.0" fill="#f58c98"/>
<circle cx="1242.4" cy="375.6" r="8.0" fill="#f58c98"/>
<circle cx="1255.7" cy="395.6" r="6.7" fill="#f58c98"/>
<circle cx="1229.0" cy="491.2" r="8.0" fill="#f58c98"/>
<circle cx="1211.2" cy="502.3" r="6.7" fill="#f58c98"/>
<circle cx="1251.3" cy="475.7" r="6.7" fill="#f58c98"/>
<circle cx="1191.2" cy="504.6" r="6.2" fill="#f58c98"/>
<circle cx="1124.5" cy="464.5" r="5.8" fill="#f58c98"/>
<circle cx="1122.3" cy="422.3" r="6.7" fill="#f58c98"/>
<circle cx="1204.6" cy="368.9" r="5.6" fill="#f58c98"/>
<circle cx="1084.5" cy="417.9" r="5.3" fill="#f7bd62"/>
<circle cx="1084.5" cy="433.4" r="4.4" fill="#f7bd62"/>
<circle cx="1115.6" cy="471.2" r="5.3" fill="#f7bd62"/>
<circle cx="1100.1" cy="464.5" r="4.4" fill="#f7bd62"/>
<circle cx="1195.7" cy="366.7" r="4.9" fill="#f7bd62"/>
<circle cx="1202.3" cy="357.8" r="3.6" fill="#f7bd62"/>
<circle cx="1235.7" cy="477.9" r="4.9" fill="#f7bd62"/>
<circle cx="1204.6" cy="493.5" r="4.4" fill="#f7bd62"/>
<circle cx="1235.7" cy="384.5" r="3.6" fill="#f7bd62"/>
<circle cx="1189.0" cy="504.6" r="3.6" fill="#f7bd62"/>
</g>
<path d="M1180.1,404.5C1182.0,398.6 1169.0,368.9 1171.2,364.5C1173.4,360.0 1188.3,374.5 1193.5,377.8C1198.6,381.2 1197.9,381.5 1202.3,384.5C1206.8,387.5 1219.4,390.1 1220.1,395.6C1220.9,401.2 1204.2,413.0 1206.8,417.9C1209.4,422.7 1225.3,421.9 1235.7,424.5C1246.1,427.1 1269.0,428.6 1269.0,433.4C1269.0,438.2 1246.8,449.4 1235.7,453.4C1224.6,457.5 1209.4,453.4 1202.3,457.9C1195.3,462.3 1197.9,474.2 1193.5,480.1C1189.0,486.0 1181.6,494.9 1175.7,493.5C1169.7,492.0 1164.5,473.4 1157.9,471.2C1151.2,469.0 1139.7,482.3 1135.6,480.1C1131.6,477.9 1137.1,463.8 1133.4,457.9C1129.7,451.9 1117.1,451.9 1113.4,444.5C1109.7,437.1 1107.5,421.6 1111.2,413.4C1114.9,405.3 1128.2,400.4 1135.6,395.6C1143.1,390.8 1151.6,383.8 1155.7,384.5C1159.7,385.2 1156.0,396.7 1160.1,400.1C1164.2,403.4 1178.3,410.4 1180.1,404.5Z" fill="#f8cfc4" filter="url(#jag2)"/>
<circle cx="1180.1" cy="433.4" r="17.8" fill="#fadfd2" filter="url(#b8)"/>
</g>
<path d="M1166.8,1202.2C1181.2,1202.2 1196.8,1202.2 1211.2,1206.7C1225.7,1211.1 1241.3,1218.9 1253.5,1228.9C1265.7,1238.9 1277.2,1253.0 1284.6,1266.7C1292.0,1280.4 1295.4,1299.3 1298.0,1311.2C1300.5,1323.1 1300.8,1327.5 1299.7,1337.9C1298.6,1348.3 1296.0,1362.0 1291.3,1373.5C1286.5,1384.9 1280.5,1396.4 1271.3,1406.8C1262.0,1417.2 1247.9,1428.3 1235.7,1435.7C1223.5,1443.1 1210.1,1447.9 1197.9,1451.3C1185.7,1454.6 1174.9,1456.1 1162.3,1455.7C1149.7,1455.3 1135.6,1454.2 1122.3,1449.0C1109.0,1443.9 1093.8,1434.2 1082.3,1424.6C1070.8,1415.0 1060.8,1402.7 1053.4,1391.2C1046.0,1379.8 1041.1,1366.8 1037.8,1355.7C1034.5,1344.5 1033.3,1336.0 1033.4,1324.5C1033.4,1313.0 1034.5,1299.0 1038.3,1286.7C1042.0,1274.5 1047.9,1261.5 1055.6,1251.2C1063.3,1240.8 1073.0,1231.9 1084.5,1224.5C1096.0,1217.1 1110.8,1210.4 1124.5,1206.7C1138.2,1203.0 1152.3,1202.2 1166.8,1202.2Z" fill="#de5249" />
<path d="M1166.8,1210.5C1180.3,1210.5 1194.8,1210.5 1208.3,1214.6C1221.8,1218.8 1236.4,1226.1 1247.8,1235.4C1259.3,1244.8 1270.0,1258.0 1276.9,1270.8C1283.9,1283.6 1287.1,1301.3 1289.4,1312.4C1291.8,1323.4 1292.1,1327.6 1291.1,1337.3C1290.0,1347.0 1287.6,1359.8 1283.2,1370.6C1278.7,1381.3 1273.1,1392.0 1264.5,1401.7C1255.8,1411.4 1242.6,1421.8 1231.2,1428.8C1219.8,1435.7 1207.3,1440.2 1195.9,1443.3C1184.4,1446.4 1174.4,1447.8 1162.6,1447.5C1150.8,1447.1 1137.6,1446.1 1125.2,1441.2C1112.7,1436.4 1098.5,1427.4 1087.8,1418.4C1077.0,1409.4 1067.7,1397.9 1060.7,1387.2C1053.8,1376.5 1049.3,1364.3 1046.2,1353.9C1043.1,1343.5 1041.9,1335.6 1042.0,1324.8C1042.1,1314.1 1043.1,1300.9 1046.6,1289.5C1050.1,1278.1 1055.6,1265.9 1062.8,1256.2C1070.0,1246.5 1079.1,1238.2 1089.8,1231.3C1100.6,1224.3 1114.4,1218.1 1127.3,1214.6C1140.1,1211.2 1153.2,1210.5 1166.8,1210.5Z" fill="#ee8b79" />
<path d="M1166.7,1227.6C1178.3,1227.6 1190.7,1227.6 1202.3,1231.2C1213.9,1234.7 1226.3,1240.9 1236.1,1248.9C1245.9,1256.9 1255.1,1268.2 1261.0,1279.2C1266.9,1290.1 1269.6,1305.3 1271.7,1314.8C1273.7,1324.2 1274.0,1327.8 1273.1,1336.1C1272.2,1344.4 1270.1,1355.4 1266.3,1364.6C1262.5,1373.8 1257.7,1382.9 1250.3,1391.2C1242.9,1399.5 1231.6,1408.4 1221.9,1414.4C1212.1,1420.3 1201.4,1424.2 1191.6,1426.8C1181.8,1429.5 1173.2,1430.7 1163.2,1430.4C1153.1,1430.1 1141.8,1429.2 1131.1,1425.0C1120.5,1420.9 1108.3,1413.2 1099.1,1405.5C1089.9,1397.8 1081.9,1388.0 1076.0,1378.8C1070.1,1369.6 1066.2,1359.2 1063.5,1350.3C1060.9,1341.4 1059.9,1334.6 1060.0,1325.4C1060.0,1316.2 1060.9,1305.0 1063.9,1295.2C1066.9,1285.4 1071.6,1275.0 1077.8,1266.7C1083.9,1258.4 1091.7,1251.3 1100.9,1245.4C1110.1,1239.5 1122.0,1234.1 1132.9,1231.2C1143.9,1228.2 1155.2,1227.6 1166.7,1227.6Z" fill="#ec8271" />
<polygon points="1119.2,1233.6 1166.9,1269.7 1170.8,1295.5 1161.8,1311.0 1133.4,1287.8 1110.2,1285.2 1071.5,1277.5" fill="#e76b5d" stroke="#e76b5d" stroke-width="4" stroke-linejoin="round"/>
<polygon points="1169.8,1218.4 1242.0,1255.8 1229.1,1276.4 1200.7,1299.6 1187.8,1307.4 1177.5,1286.7 1167.2,1250.6" fill="#e76b5d" stroke="#e76b5d" stroke-width="4" stroke-linejoin="round"/>
<polygon points="1252.4,1263.0 1275.6,1304.3 1280.8,1345.6 1195.6,1330.1 1218.9,1312.0 1242.1,1281.1" fill="#e76b5d" stroke="#e76b5d" stroke-width="4" stroke-linejoin="round"/>
<polygon points="1202.4,1338.4 1254.0,1387.4 1233.4,1408.1 1186.9,1431.3 1171.5,1382.3 1163.7,1348.8" fill="#e76b5d" stroke="#e76b5d" stroke-width="4" stroke-linejoin="round"/>
<polygon points="1166.4,1356.0 1161.3,1394.7 1145.8,1425.7 1083.9,1397.3 1120.0,1371.5 1143.2,1368.9" fill="#e76b5d" stroke="#e76b5d" stroke-width="4" stroke-linejoin="round"/>
<polygon points="1059.8,1297.0 1141.1,1328.0 1146.2,1351.2 1059.8,1365.4" fill="#e76b5d" stroke="#e76b5d" stroke-width="4" stroke-linejoin="round"/>
<polygon points="1121.2,1240.0 1162.3,1271.2 1165.7,1293.4 1157.9,1306.7 1133.4,1286.7 1113.4,1284.5 1080.1,1277.8" fill="#dd4b43" stroke="#dd4b43" stroke-width="3" stroke-linejoin="round"/>
<polygon points="1173.4,1225.6 1235.7,1257.8 1224.6,1275.6 1200.1,1295.6 1189.0,1302.3 1180.1,1284.5 1171.2,1253.4" fill="#dd4b43" stroke="#dd4b43" stroke-width="3" stroke-linejoin="round"/>
<polygon points="1251.3,1268.9 1271.3,1304.5 1275.7,1340.1 1202.3,1326.8 1222.4,1311.2 1242.4,1284.5" fill="#d9443d" stroke="#d9443d" stroke-width="3" stroke-linejoin="round"/>
<polygon points="1202.3,1344.5 1246.8,1386.8 1229.0,1404.6 1189.0,1424.6 1175.7,1382.3 1169.0,1353.4" fill="#d7423b" stroke="#d7423b" stroke-width="3" stroke-linejoin="round"/>
<polygon points="1162.3,1360.1 1157.9,1393.5 1144.5,1420.1 1091.2,1395.7 1122.3,1373.5 1142.3,1371.2" fill="#db4a43" stroke="#db4a43" stroke-width="3" stroke-linejoin="round"/>
<polygon points="1065.6,1302.3 1135.6,1329.0 1140.1,1349.0 1065.6,1361.2" fill="#dd4b43" stroke="#dd4b43" stroke-width="3" stroke-linejoin="round"/>
<polygon points="1104.5,1255.6 1135.6,1264.5 1149.0,1284.5 1122.3,1280.1 1095.6,1275.6" fill="#e8675c" />
<polygon points="1220.1,1284.5 1253.5,1293.4 1257.9,1315.6 1229.0,1320.1 1202.3,1304.5" fill="#e8625a" />
<polygon points="1073.4,1315.6 1104.5,1320.1 1100.1,1342.3 1073.4,1349.0" fill="#e8665c" />
<polygon points="1189.0,1366.8 1211.2,1373.5 1206.8,1395.7 1191.2,1400.1" fill="#e8665c" />
<polygon points="1113.4,1384.6 1149.0,1377.9 1153.4,1400.1 1135.6,1411.3" fill="#e55a50" />
<polygon points="1169.0,1320.1 1157.9,1302.3 1149.0,1293.4 1157.9,1284.5 1169.0,1302.3 1186.8,1275.6 1193.5,1271.2 1195.7,1284.5 1186.8,1311.2 1215.7,1313.4 1240.1,1313.4 1237.9,1320.1 1202.3,1331.2 1189.0,1342.3 1193.5,1373.5 1184.6,1371.2 1169.0,1351.2 1149.0,1382.3 1135.6,1377.9 1149.0,1353.4 1140.1,1349.0 1104.5,1337.9 1104.5,1331.2 1140.1,1331.2" fill="#ee8675" stroke="#ee8675" stroke-width="4" stroke-linejoin="round"/>
<polygon points="1180.1,1315.6 1202.3,1315.6 1209.0,1333.4 1186.8,1344.5 1175.7,1335.7" fill="#f4a898" />
<polygon points="1149.0,1244.5 1157.9,1244.5 1159.0,1257.8 1151.2,1257.8" fill="#f0c265" />
<polygon points="1117.9,1284.5 1126.7,1280.1 1133.4,1291.2 1124.5,1293.4" fill="#f0c265" />
<polygon points="1186.8,1275.6 1195.7,1271.2 1193.5,1286.7 1186.8,1291.2" fill="#f0c265" />
<polygon points="1162.3,1320.1 1177.9,1304.5 1180.1,1324.5 1169.0,1326.8" fill="#f0c265" />
<polygon points="1217.9,1313.4 1231.3,1304.5 1240.1,1315.6 1220.1,1322.3" fill="#f0c265" />
<polygon points="1091.2,1335.7 1106.7,1337.9 1104.5,1344.5 1091.2,1343.4" fill="#f0c265" />
<polygon points="1177.9,1353.4 1186.8,1362.3 1189.0,1369.0 1180.1,1362.3" fill="#f0c265" />
<polygon points="1250.2,1337.9 1255.7,1337.9 1255.7,1349.0 1250.2,1346.8" fill="#f0c265" />
<polygon points="1113.4,1395.7 1120.1,1393.5 1119.0,1400.1 1113.4,1402.4" fill="#f0c265" />
<polygon points="1084.5,1373.5 1095.6,1369.0 1091.2,1377.9" fill="#f0c265" />
<polygon points="1235.7,1331.2 1246.8,1331.2 1244.6,1335.7 1235.7,1335.7" fill="#f0c265" />
<rect x="1167" y="597" width="23" height="487" fill="#8fbc46"/>
<polygon points="1119,1082 1238,1082 1178.3,1188" fill="#8fbc46"/>
<text transform="translate(1122,600) rotate(90)" x="0" y="0" font-size="34" font-weight="bold" fill="#000" stroke="#000" stroke-width="0.5" textLength="471" lengthAdjust="spacingAndGlyphs">loclue number regulation</text>
<line x1="818" y1="799" x2="1019" y2="489" stroke="#5d5c52" stroke-width="6.5" stroke-dasharray="6.5 7.2"/><polygon points="1037,460 1004.6,477 1035,495.6" fill="#5d5c52"/>
<line x1="846.5" y1="913" x2="1008" y2="1197" stroke="#5d5c52" stroke-width="6.5" stroke-dasharray="6.5 7.2"/><polygon points="1024,1223.6 1024,1188 993.5,1205.6" fill="#5d5c52"/>
<rect x="711.7" y="809.3" width="117.2" height="98" fill="none" stroke="#3e3a3a" stroke-width="5.4" stroke-dasharray="14 7.5"/>
</g>
<g id="diagram">
<line x1="1629.0" y1="375.0" x2="1629.0" y2="451.0" stroke="#c9444b" stroke-width="6.5"/><polygon points="1629.0,481.0 1611.5,449.0 1646.5,449.0" fill="#c9444b"/>
<line x1="1762.7" y1="417.5" x2="1701.6" y2="463.1" stroke="#c9444b" stroke-width="6.5"/><polygon points="1677.5,481.0 1692.7,447.8 1713.6,475.9" fill="#c9444b"/>
<line x1="2207.0" y1="362.0" x2="2100.9" y2="398.3" stroke="#c9444b" stroke-width="6.5"/><polygon points="2072.5,408.0 2097.1,381.1 2108.4,414.2" fill="#c9444b"/>
<line x1="2169.0" y1="502.6" x2="2099.7" y2="449.0" stroke="#c9444b" stroke-width="6.5"/><polygon points="2076.0,430.7 2112.0,436.4 2090.6,464.1" fill="#c9444b"/>
<line x1="1899.0" y1="720.0" x2="1899.0" y2="520.0" stroke="#c9444b" stroke-width="6.5"/><polygon points="1899.0,490.0 1916.5,522.0 1881.5,522.0" fill="#c9444b"/>
<line x1="1951.0" y1="493.0" x2="1951.0" y2="718.0" stroke="#3a3232" stroke-width="6.5"/><line x1="1933.0" y1="718.0" x2="1969.0" y2="718.0" stroke="#3a3232" stroke-width="6.5"/>
<line x1="1678.6" y1="589.0" x2="1811.0" y2="713.0" stroke="#3a3232" stroke-width="6.5"/><line x1="1798.7" y1="726.1" x2="1823.3" y2="699.9" stroke="#3a3232" stroke-width="6.5"/>
<line x1="1611.5" y1="723.7" x2="1729.8" y2="766.3" stroke="#c9444b" stroke-width="6.5"/><polygon points="1758.0,776.5 1722.0,782.1 1733.8,749.2" fill="#c9444b"/>
<line x1="2180.0" y1="668.7" x2="2120.4" y2="738.2" stroke="#3a3232" stroke-width="6.5"/><line x1="2106.7" y1="726.5" x2="2134.1" y2="749.9" stroke="#3a3232" stroke-width="6.5"/>
<line x1="1605.6" y1="929.8" x2="1743.6" y2="866.6" stroke="#3a3232" stroke-width="6.5"/><line x1="1751.1" y1="883.0" x2="1736.1" y2="850.2" stroke="#3a3232" stroke-width="6.5"/>
<line x1="1694.0" y1="1103.6" x2="1821.7" y2="917.7" stroke="#3a3232" stroke-width="6.5"/><line x1="1836.5" y1="927.9" x2="1806.9" y2="907.5" stroke="#3a3232" stroke-width="6.5"/>
<line x1="1984.3" y1="1140.0" x2="1954.5" y2="954.2" stroke="#c9444b" stroke-width="6.5"/><polygon points="1949.7,924.6 1972.1,953.4 1937.5,959.0" fill="#c9444b"/>
<line x1="2277.5" y1="881.0" x2="2124.6" y2="832.5" stroke="#3a3232" stroke-width="6.5"/><line x1="2130.0" y1="815.3" x2="2119.2" y2="849.7" stroke="#3a3232" stroke-width="6.5"/>
<line x1="2286.0" y1="1094.0" x2="2070.7" y2="916.0" stroke="#3a3232" stroke-width="6.5"/><line x1="2082.2" y1="902.1" x2="2059.2" y2="929.9" stroke="#3a3232" stroke-width="6.5"/>
<rect x="1787" y="346.6" width="271.0" height="105.0" fill="#e08d39" stroke="#7a7a7a" stroke-width="1.5"/>
<text x="1830.0" y="419.0" font-size="71" font-weight="bold" font-style="italic" fill="#000" textLength="190.0" lengthAdjust="spacingAndGlyphs">CLV3</text>
<rect x="1530" y="491" width="181.6" height="77.0" fill="#ee9691" stroke="#7a7a7a" stroke-width="1.5"/>
<text x="1539.5" y="551.0" font-size="52" font-weight="bold" font-style="normal" fill="#000" textLength="136.5" lengthAdjust="spacingAndGlyphs">CLV1</text>
<rect x="2184.7" y="487.4" width="173.7" height="71.2" fill="#93c24f" stroke="#7a7a7a" stroke-width="1.5"/>
<text x="2202.8" y="550.0" font-size="52.5" font-weight="bold" font-style="italic" fill="#000" textLength="140.7" lengthAdjust="spacingAndGlyphs">CLV2</text>
<rect x="1772.4" y="757.6" width="329.6" height="114.9" fill="#998fb0" stroke="#7a7a7a" stroke-width="1.5"/>
<text x="1850.0" y="842.3" font-size="72" font-weight="bold" font-style="italic" fill="#000" textLength="173.3" lengthAdjust="spacingAndGlyphs">WUS</text>
<text x="1556.0" y="361.0" font-size="53" font-weight="normal" font-style="italic" fill="#000" textLength="113.0" lengthAdjust="spacingAndGlyphs" stroke="#000" stroke-width="1.3">FAB</text>
<text x="2234.0" y="390.0" font-size="53" font-weight="normal" font-style="italic" fill="#000" textLength="92.0" lengthAdjust="spacingAndGlyphs" stroke="#000" stroke-width="1.3">FIN</text>
<ellipse cx="1475.3" cy="703.5" rx="128.25" ry="59.25" fill="#f0e6d6" stroke="#b9957b" stroke-width="5.5"/>
<text x="1391.0" y="724.4" font-size="53.5" font-weight="bold" font-style="italic" fill="#000" textLength="163.0" lengthAdjust="spacingAndGlyphs">TPL3</text>
<ellipse cx="2267.4" cy="645" rx="87.0" ry="43.4" fill="#e0c631" stroke="#eeb296" stroke-width="6"/>
<text x="2199.3" y="666.0" font-size="54" font-weight="bold" font-style="italic" fill="#000" textLength="144.7" lengthAdjust="spacingAndGlyphs">CLE9</text>
<ellipse cx="1497.5" cy="943.2" rx="87.5" ry="43.4" fill="#bedd2f" stroke="#9c90b8" stroke-width="6"/>
<text x="1458.6" y="961.8" font-size="52" font-weight="bold" font-style="normal" fill="#000" textLength="81.5" lengthAdjust="spacingAndGlyphs">AG</text>
<ellipse cx="2377.2" cy="900" rx="87.0" ry="43.6" fill="#f0c19b" stroke="#e08b35" stroke-width="6"/>
<text x="2317.4" y="919.4" font-size="53.5" font-weight="bold" font-style="italic" fill="#000" textLength="121.6" lengthAdjust="spacingAndGlyphs">ENO</text>
<rect x="1349" y="1114.5" width="436.0" height="78.5" fill="#e8f98b" stroke="#b1cd6d" stroke-width="4.5"/>
<text x="1378.7" y="1170.0" font-size="36" font-weight="bold" font-style="normal" fill="#2a2422" textLength="371.8" lengthAdjust="spacing">HDA19、TPL、MIF2</text>
<ellipse cx="1556.4" cy="1252" rx="116.0" ry="52.4" fill="#d3d5c1" stroke="#bfc09a" stroke-width="6"/>
<text x="1479.0" y="1272.4" font-size="52" font-weight="bold" font-style="italic" fill="#000" textLength="139.8" lengthAdjust="spacingAndGlyphs">KNU</text>
<ellipse cx="1995.2" cy="1247.2" rx="128.4" ry="57.0" fill="#d6eaea" stroke="#b5e3d7" stroke-width="6"/>
<text x="1903.0" y="1271.0" font-size="52" font-weight="bold" font-style="italic" fill="#000" textLength="194.7" lengthAdjust="spacingAndGlyphs">BES1.8</text>
<ellipse cx="2356.5" cy="1204.2" rx="125.5" ry="58.5" fill="#5186b9" stroke="#bad4ef" stroke-width="7"/>
<text x="2279.4" y="1223.5" font-size="52" font-weight="bold" font-style="italic" fill="#000" textLength="154.6" lengthAdjust="spacingAndGlyphs">CRCa</text>
<rect x="2157" y="1346" width="2" height="6" fill="#222"/>
</g>
</svg>
</body></html>
